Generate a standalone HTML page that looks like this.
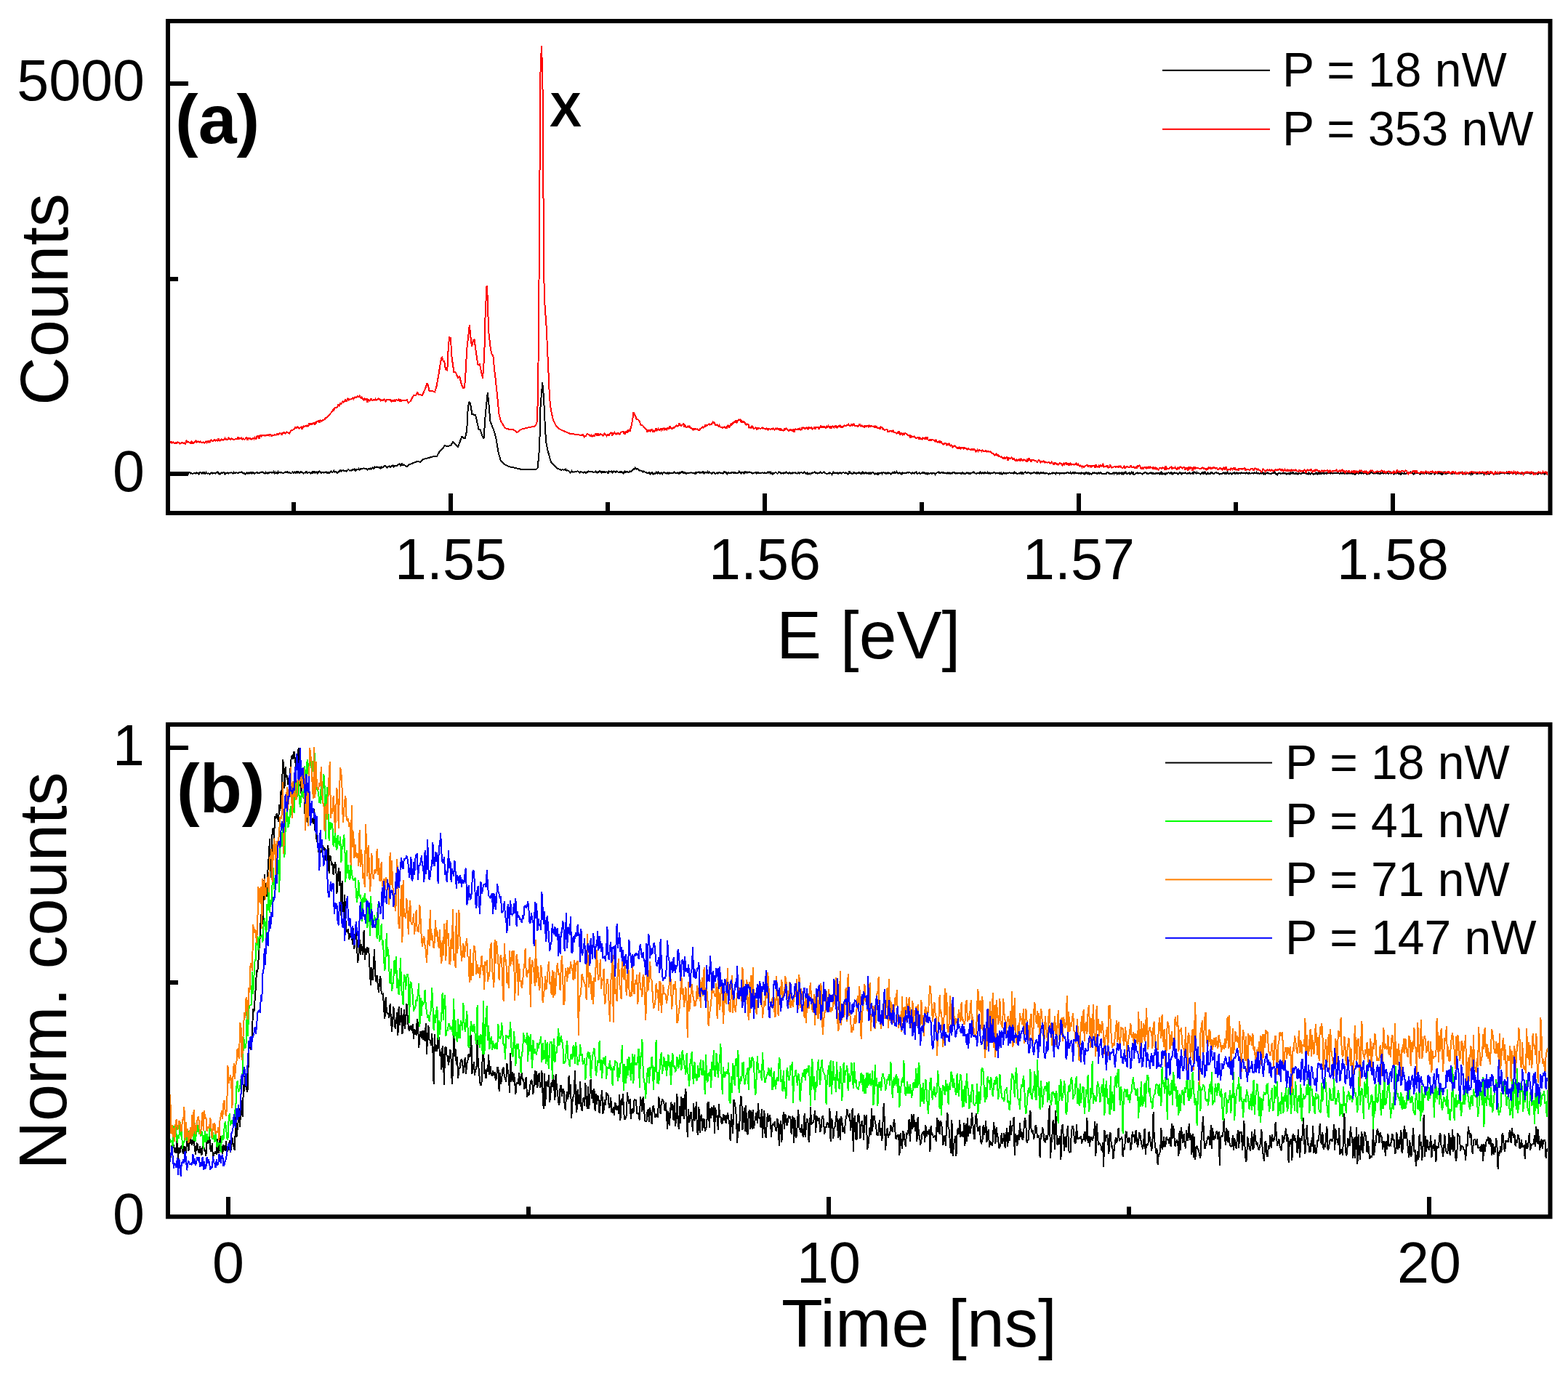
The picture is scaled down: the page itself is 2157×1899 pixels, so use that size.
<!DOCTYPE html><html><head><meta charset="utf-8"><style>html,body{margin:0;padding:0;background:#fff;}svg{display:block;}</style></head><body><svg width="2157" height="1899" viewBox="0 0 2157 1899"><rect x="0" y="0" width="2157" height="1899" fill="#fff"/><defs><clipPath id="ca"><rect x="234" y="32" width="1895" height="671"/></clipPath><clipPath id="cb"><rect x="234" y="1000" width="1895" height="671"/></clipPath></defs><g clip-path="url(#ca)"><polyline fill="none" stroke="#000000" stroke-width="2" stroke-linejoin="miter" stroke-miterlimit="2" shape-rendering="crispEdges" points="232.5,651.2 233.5,650.6 234.5,650.7 235.5,649.0 236.5,652.4 237.5,651.9 238.5,650.7 239.5,651.6 240.5,651.2 241.5,650.6 242.5,651.8 243.5,650.8 244.5,650.7 245.5,650.4 246.5,651.4 247.5,650.9 248.5,651.4 249.5,650.5 250.5,651.1 251.5,650.3 252.5,651.7 253.5,651.2 254.5,651.3 255.5,651.3 256.5,650.2 257.5,651.6 258.5,652.6 259.5,649.7 260.5,649.6 261.5,649.8 262.5,651.7 263.5,651.1 264.5,651.9 265.5,651.6 266.5,651.2 267.5,651.2 268.5,650.9 269.5,651.7 270.5,650.1 271.5,650.7 272.5,651.2 273.5,652.4 274.5,650.4 275.5,650.1 276.5,650.5 277.5,651.8 278.5,650.8 279.5,652.1 280.5,649.5 281.5,651.9 282.5,651.8 283.5,649.9 284.5,651.1 285.5,652.0 286.5,651.1 287.5,651.8 288.5,652.9 289.5,651.2 290.5,650.8 291.5,650.4 292.5,651.5 293.5,650.8 294.5,650.9 295.5,650.9 296.5,651.5 297.5,650.1 298.5,649.8 299.5,649.1 300.5,652.0 301.5,651.0 302.5,652.2 303.5,651.0 304.5,650.4 305.5,651.3 306.5,650.9 307.5,649.9 308.5,650.2 309.5,652.4 310.5,651.2 311.5,651.3 312.5,650.7 313.5,650.4 314.5,651.6 315.5,650.8 316.5,650.3 317.5,650.8 318.5,650.2 319.5,651.0 320.5,651.8 321.5,650.2 322.5,652.0 323.5,650.3 324.5,651.0 325.5,650.2 326.5,650.7 327.5,650.9 328.5,650.5 329.5,650.2 330.5,650.3 331.5,650.1 332.5,649.5 333.5,650.6 334.5,651.1 335.5,651.5 336.5,651.3 337.5,652.7 338.5,651.0 339.5,650.4 340.5,652.2 341.5,649.9 342.5,651.5 343.5,650.0 344.5,651.0 345.5,649.1 346.5,651.4 347.5,650.6 348.5,649.9 349.5,652.0 350.5,651.3 351.5,650.7 352.5,650.1 353.5,650.6 354.5,650.5 355.5,651.2 356.5,651.3 357.5,650.1 358.5,650.2 359.5,650.2 360.5,649.5 361.5,650.1 362.5,650.5 363.5,651.1 364.5,651.6 365.5,649.9 366.5,651.0 367.5,650.2 368.5,652.2 369.5,650.5 370.5,650.9 371.5,649.8 372.5,649.9 373.5,650.7 374.5,650.2 375.5,650.8 376.5,649.3 377.5,651.0 378.5,649.8 379.5,651.9 380.5,650.2 381.5,651.3 382.5,649.3 383.5,650.8 384.5,649.7 385.5,650.1 386.5,650.5 387.5,650.2 388.5,650.6 389.5,651.0 390.5,650.9 391.5,650.3 392.5,649.3 393.5,649.7 394.5,650.2 395.5,648.7 396.5,651.0 397.5,650.2 398.5,650.2 399.5,651.1 400.5,650.9 401.5,650.5 402.5,649.5 403.5,650.6 404.5,650.6 405.5,649.6 406.5,651.1 407.5,650.7 408.5,648.7 409.5,650.4 410.5,649.3 411.5,651.2 412.5,650.9 413.5,649.4 414.5,649.5 415.5,650.3 416.5,650.0 417.5,651.5 418.5,650.8 419.5,650.0 420.5,650.7 421.5,648.6 422.5,650.4 423.5,650.9 424.5,650.0 425.5,649.6 426.5,650.6 427.5,651.7 428.5,650.3 429.5,649.3 430.5,651.3 431.5,648.6 432.5,650.5 433.5,649.7 434.5,650.9 435.5,649.4 436.5,651.2 437.5,650.3 438.5,648.7 439.5,648.5 440.5,649.8 441.5,651.1 442.5,650.2 443.5,650.1 444.5,649.9 445.5,650.6 446.5,650.3 447.5,650.3 448.5,649.2 449.5,651.0 450.5,651.1 451.5,649.0 452.5,651.8 453.5,650.5 454.5,649.4 455.5,648.2 456.5,650.1 457.5,650.0 458.5,649.0 459.5,647.9 460.5,650.1 461.5,648.7 462.5,648.7 463.5,651.2 464.5,650.6 465.5,649.5 466.5,648.3 467.5,649.1 468.5,646.6 469.5,648.5 470.5,647.7 471.5,647.1 472.5,646.8 473.5,648.4 474.5,648.0 475.5,647.9 476.5,648.4 477.5,646.9 478.5,646.5 479.5,646.0 480.5,647.0 481.5,647.8 482.5,647.0 483.5,647.5 484.5,646.0 485.5,646.5 486.5,646.1 487.5,645.6 488.5,648.1 489.5,647.2 490.5,645.8 491.5,645.7 492.5,646.2 493.5,645.0 494.5,646.5 495.5,645.0 496.5,645.7 497.5,645.1 498.5,645.4 499.5,644.7 500.5,644.4 501.5,644.8 502.5,645.0 503.5,645.2 504.5,645.4 505.5,646.5 506.5,645.8 507.5,644.9 508.5,645.6 509.5,644.4 510.5,645.9 511.5,645.1 512.5,643.4 513.5,645.0 514.5,644.9 515.5,641.9 516.5,643.3 517.5,643.4 518.5,642.1 519.5,642.7 520.5,642.6 521.5,643.7 522.5,643.4 523.5,645.1 524.5,642.6 525.5,643.8 526.5,642.8 527.5,642.9 528.5,641.6 529.5,640.9 530.5,641.7 531.5,642.9 532.5,643.4 533.5,642.5 534.5,642.3 535.5,641.2 536.5,643.0 537.5,642.7 538.5,641.1 539.5,641.4 540.5,640.5 541.5,642.4 542.5,641.5 543.5,641.0 544.5,641.3 545.5,641.2 546.5,640.4 547.5,639.5 548.5,639.2 549.5,638.6 550.5,640.1 551.5,641.2 552.5,637.8 553.5,639.3 554.5,640.0 555.5,639.4 560.0,642.3 563.2,639.0 568.0,637.4 573.7,635.0 578.5,635.8 582.6,631.8 589.0,630.2 594.6,628.6 601.0,627.8 604.3,622.0 608.3,618.0 611.6,613.3 616.4,614.0 620.4,612.5 623.0,608.0 626.9,611.7 630.0,614.9 632.5,608.4 635.4,600.4 637.3,602.8 640.0,602.8 642.2,592.3 643.5,566.6 645.0,552.9 647.0,555.3 649.4,569.8 651.8,570.6 654.2,571.4 656.7,582.7 658.6,590.7 660.7,591.5 663.0,598.8 665.5,603.6 667.6,573.0 669.6,552.0 670.8,540.0 672.5,556.9 674.4,579.4 676.8,585.9 680.0,594.0 682.4,603.6 685.7,623.0 688.9,634.2 693.7,639.0 700.0,642.0 720.0,646.5 738.0,645.5 739.5,644.0 741.0,630.0 742.2,614.0 743.5,560.0 746.2,526.0 748.0,546.7 750.0,590.0 751.2,608.0 753.5,620.0 758.0,636.0 767.0,645.0 770.5,646.0 771.5,646.6 772.5,646.8 773.5,646.3 774.5,646.1 775.5,646.8 776.5,646.4 777.5,646.8 778.5,645.8 779.5,647.7 780.5,647.1 781.5,647.7 782.5,648.3 783.5,648.8 784.5,650.3 785.5,649.1 786.5,648.0 787.5,649.5 788.5,649.0 789.5,649.8 790.5,649.0 791.5,648.9 792.5,649.1 793.5,649.0 794.5,648.0 795.5,649.0 796.5,649.5 797.5,650.5 798.5,649.3 799.5,649.2 800.5,650.0 801.5,649.9 802.5,650.8 803.5,650.0 804.5,649.5 805.5,650.6 806.5,650.7 807.5,649.1 808.5,649.6 809.5,648.2 810.5,649.2 811.5,648.8 812.5,649.3 813.5,649.1 814.5,649.4 815.5,649.4 816.5,649.9 817.5,649.7 818.5,649.1 819.5,648.5 820.5,650.5 821.5,650.6 822.5,649.1 823.5,649.9 824.5,648.3 825.5,648.3 826.5,649.3 827.5,650.7 828.5,648.7 829.5,648.8 830.5,650.8 831.5,648.0 832.5,650.0 833.5,649.9 834.5,649.3 835.5,649.7 836.5,651.6 837.5,648.6 838.5,649.2 839.5,649.3 840.5,648.9 841.5,648.4 842.5,650.8 843.5,649.7 844.5,648.1 845.5,648.9 846.5,649.8 847.5,649.8 848.5,648.3 849.5,649.4 850.5,649.7 851.5,649.8 852.5,649.8 853.5,648.0 854.5,651.0 855.5,649.7 856.5,650.9 857.5,651.8 858.5,649.4 859.5,648.5 860.5,650.2 861.5,649.4 862.5,649.1 863.5,648.7 864.5,650.9 865.5,649.1 866.5,648.4 867.5,649.1 868.5,648.1 869.5,648.2 870.5,646.8 871.5,645.3 872.5,645.7 873.5,643.8 874.5,644.9 875.5,645.8 876.5,645.0 877.5,645.3 878.5,646.4 879.5,647.5 880.5,647.2 881.5,647.7 882.5,648.0 883.5,648.6 884.5,649.3 885.5,648.6 886.5,649.2 887.5,650.0 888.5,649.9 889.5,650.9 890.5,651.4 891.5,651.0 892.5,650.5 893.5,650.4 894.5,652.4 895.5,651.7 896.5,650.1 897.5,650.3 898.5,652.5 899.5,652.2 900.5,651.1 901.5,651.9 902.5,649.8 903.5,650.9 904.5,651.5 905.5,649.4 906.5,650.3 907.5,651.5 908.5,651.8 909.5,650.4 910.5,651.1 911.5,652.2 912.5,650.6 913.5,649.8 914.5,650.8 915.5,650.6 916.5,651.9 917.5,651.0 918.5,650.2 919.5,652.8 920.5,650.5 921.5,651.2 922.5,651.4 923.5,651.5 924.5,651.0 925.5,651.3 926.5,650.8 927.5,649.7 928.5,650.6 929.5,650.7 930.5,650.7 931.5,650.9 932.5,650.3 933.5,651.9 934.5,652.1 935.5,649.0 936.5,650.8 937.5,650.2 938.5,648.7 939.5,651.1 940.5,650.3 941.5,650.5 942.5,650.2 943.5,651.6 944.5,651.7 945.5,651.0 946.5,651.3 947.5,650.6 948.5,650.8 949.5,650.1 950.5,650.8 951.5,650.1 952.5,651.0 953.5,651.4 954.5,651.0 955.5,651.6 956.5,652.8 957.5,649.0 958.5,650.7 959.5,650.2 960.5,650.3 961.5,649.6 962.5,650.7 963.5,650.5 964.5,650.2 965.5,650.5 966.5,650.2 967.5,648.8 968.5,651.5 969.5,650.4 970.5,649.9 971.5,650.9 972.5,650.1 973.5,648.9 974.5,651.3 975.5,649.3 976.5,650.4 977.5,650.7 978.5,651.7 979.5,651.5 980.5,650.7 981.5,650.0 982.5,650.2 983.5,651.4 984.5,652.0 985.5,651.0 986.5,650.0 987.5,651.4 988.5,650.3 989.5,650.2 990.5,650.3 991.5,651.0 992.5,650.8 993.5,651.3 994.5,651.6 995.5,650.9 996.5,648.7 997.5,649.2 998.5,650.6 999.5,650.5 1000.5,652.2 1001.5,650.5 1002.5,650.4 1003.5,651.3 1004.5,651.4 1005.5,650.3 1006.5,650.9 1007.5,649.6 1008.5,649.8 1009.5,651.5 1010.5,649.4 1011.5,651.3 1012.5,651.1 1013.5,651.1 1014.5,651.3 1015.5,651.0 1016.5,648.8 1017.5,649.7 1018.5,650.1 1019.5,651.3 1020.5,649.6 1021.5,650.0 1022.5,650.3 1023.5,651.6 1024.5,649.4 1025.5,649.5 1026.5,651.1 1027.5,648.9 1028.5,650.8 1029.5,650.2 1030.5,649.3 1031.5,650.2 1032.5,649.8 1033.5,650.7 1034.5,650.9 1035.5,651.8 1036.5,650.6 1037.5,650.7 1038.5,650.1 1039.5,650.6 1040.5,651.4 1041.5,649.1 1042.5,651.1 1043.5,650.2 1044.5,650.7 1045.5,650.9 1046.5,651.3 1047.5,650.8 1048.5,650.3 1049.5,650.9 1050.5,650.6 1051.5,650.5 1052.5,650.8 1053.5,651.3 1054.5,650.7 1055.5,650.8 1056.5,649.6 1057.5,650.5 1058.5,649.2 1059.5,651.2 1060.5,649.9 1061.5,651.7 1062.5,653.1 1063.5,650.3 1064.5,651.7 1065.5,651.0 1066.5,650.2 1067.5,650.0 1068.5,651.1 1069.5,651.8 1070.5,651.0 1071.5,649.5 1072.5,649.8 1073.5,650.5 1074.5,651.8 1075.5,650.9 1076.5,651.0 1077.5,651.7 1078.5,650.5 1079.5,650.6 1080.5,650.6 1081.5,649.3 1082.5,651.1 1083.5,651.0 1084.5,651.5 1085.5,649.8 1086.5,650.1 1087.5,651.5 1088.5,651.0 1089.5,651.8 1090.5,650.0 1091.5,650.9 1092.5,650.2 1093.5,651.0 1094.5,650.3 1095.5,651.2 1096.5,651.6 1097.5,651.3 1098.5,649.3 1099.5,651.5 1100.5,651.1 1101.5,649.9 1102.5,650.0 1103.5,650.8 1104.5,651.2 1105.5,650.4 1106.5,649.5 1107.5,651.0 1108.5,650.9 1109.5,652.7 1110.5,649.7 1111.5,652.8 1112.5,652.2 1113.5,651.0 1114.5,652.1 1115.5,650.9 1116.5,651.6 1117.5,650.2 1118.5,650.9 1119.5,650.0 1120.5,649.5 1121.5,650.6 1122.5,650.3 1123.5,651.3 1124.5,651.8 1125.5,650.7 1126.5,650.9 1127.5,651.0 1128.5,649.5 1129.5,651.0 1130.5,650.8 1131.5,650.8 1132.5,650.0 1133.5,649.2 1134.5,650.6 1135.5,651.1 1136.5,651.9 1137.5,651.7 1138.5,652.0 1139.5,651.1 1140.5,651.8 1141.5,650.7 1142.5,651.4 1143.5,651.6 1144.5,653.0 1145.5,651.1 1146.5,649.8 1147.5,652.0 1148.5,650.2 1149.5,650.8 1150.5,650.6 1151.5,650.2 1152.5,651.9 1153.5,651.4 1154.5,650.4 1155.5,650.9 1156.5,650.5 1157.5,651.4 1158.5,650.6 1159.5,650.3 1160.5,650.4 1161.5,650.6 1162.5,651.1 1163.5,650.2 1164.5,650.8 1165.5,651.3 1166.5,652.8 1167.5,651.6 1168.5,648.5 1169.5,650.5 1170.5,650.6 1171.5,651.2 1172.5,652.2 1173.5,651.5 1174.5,649.1 1175.5,651.2 1176.5,651.0 1177.5,651.3 1178.5,652.0 1179.5,650.1 1180.5,651.8 1181.5,649.6 1182.5,651.0 1183.5,651.3 1184.5,652.8 1185.5,650.4 1186.5,649.6 1187.5,651.5 1188.5,650.4 1189.5,652.2 1190.5,650.4 1191.5,650.3 1192.5,652.0 1193.5,651.1 1194.5,651.8 1195.5,649.8 1196.5,652.3 1197.5,650.5 1198.5,651.7 1199.5,650.2 1200.5,649.8 1201.5,650.8 1202.5,651.1 1203.5,652.3 1204.5,651.3 1205.5,651.6 1206.5,651.5 1207.5,653.5 1208.5,650.4 1209.5,652.0 1210.5,650.9 1211.5,651.2 1212.5,650.6 1213.5,651.9 1214.5,650.0 1215.5,650.0 1216.5,650.9 1217.5,650.1 1218.5,651.6 1219.5,651.8 1220.5,650.4 1221.5,651.6 1222.5,650.5 1223.5,651.0 1224.5,651.0 1225.5,652.5 1226.5,651.0 1227.5,650.3 1228.5,650.3 1229.5,652.0 1230.5,649.7 1231.5,650.7 1232.5,650.7 1233.5,649.1 1234.5,650.7 1235.5,651.8 1236.5,651.2 1237.5,650.3 1238.5,651.6 1239.5,651.5 1240.5,652.7 1241.5,650.4 1242.5,650.7 1243.5,651.1 1244.5,650.9 1245.5,651.1 1246.5,651.0 1247.5,650.5 1248.5,649.8 1249.5,650.6 1250.5,649.9 1251.5,650.2 1252.5,650.6 1253.5,651.5 1254.5,651.7 1255.5,650.2 1256.5,651.3 1257.5,651.7 1258.5,651.0 1259.5,649.7 1260.5,649.3 1261.5,651.7 1262.5,651.8 1263.5,651.3 1264.5,650.2 1265.5,652.2 1266.5,652.0 1267.5,651.0 1268.5,650.9 1269.5,649.5 1270.5,651.7 1271.5,649.8 1272.5,651.6 1273.5,651.6 1274.5,651.1 1275.5,652.3 1276.5,650.8 1277.5,651.5 1278.5,651.7 1279.5,651.3 1280.5,650.7 1281.5,652.0 1282.5,651.4 1283.5,650.9 1284.5,650.9 1285.5,651.2 1286.5,652.9 1287.5,651.2 1288.5,650.9 1289.5,650.2 1290.5,650.1 1291.5,649.6 1292.5,651.3 1293.5,651.1 1294.5,650.3 1295.5,649.9 1296.5,650.8 1297.5,650.7 1298.5,650.0 1299.5,651.3 1300.5,651.2 1301.5,651.0 1302.5,651.7 1303.5,650.6 1304.5,652.2 1305.5,650.3 1306.5,651.5 1307.5,651.6 1308.5,650.9 1309.5,651.4 1310.5,650.1 1311.5,649.9 1312.5,650.9 1313.5,650.5 1314.5,651.6 1315.5,651.1 1316.5,651.6 1317.5,651.3 1318.5,651.3 1319.5,651.2 1320.5,650.8 1321.5,650.7 1322.5,652.7 1323.5,649.7 1324.5,650.9 1325.5,651.9 1326.5,651.4 1327.5,652.2 1328.5,651.5 1329.5,650.1 1330.5,650.8 1331.5,650.0 1332.5,651.9 1333.5,652.3 1334.5,650.8 1335.5,651.5 1336.5,650.8 1337.5,650.0 1338.5,650.7 1339.5,649.8 1340.5,650.7 1341.5,651.3 1342.5,651.7 1343.5,652.1 1344.5,650.8 1345.5,651.3 1346.5,651.4 1347.5,651.6 1348.5,648.8 1349.5,650.5 1350.5,651.8 1351.5,650.2 1352.5,651.3 1353.5,651.8 1354.5,649.6 1355.5,651.0 1356.5,651.3 1357.5,651.1 1358.5,649.9 1359.5,651.4 1360.5,650.7 1361.5,651.8 1362.5,651.5 1363.5,650.7 1364.5,651.3 1365.5,650.6 1366.5,650.6 1367.5,649.9 1368.5,650.9 1369.5,651.8 1370.5,651.2 1371.5,651.1 1372.5,650.6 1373.5,650.7 1374.5,651.7 1375.5,649.9 1376.5,652.8 1377.5,651.1 1378.5,652.8 1379.5,652.0 1380.5,650.8 1381.5,651.7 1382.5,651.3 1383.5,651.5 1384.5,651.7 1385.5,650.7 1386.5,650.6 1387.5,650.8 1388.5,650.0 1389.5,650.9 1390.5,651.3 1391.5,651.3 1392.5,651.3 1393.5,650.8 1394.5,651.7 1395.5,649.5 1396.5,650.8 1397.5,650.8 1398.5,651.8 1399.5,651.6 1400.5,651.7 1401.5,651.1 1402.5,651.9 1403.5,650.3 1404.5,651.2 1405.5,649.4 1406.5,652.5 1407.5,652.4 1408.5,650.6 1409.5,650.4 1410.5,649.4 1411.5,649.9 1412.5,651.2 1413.5,651.0 1414.5,649.9 1415.5,650.7 1416.5,650.6 1417.5,651.5 1418.5,651.7 1419.5,650.9 1420.5,651.2 1421.5,651.1 1422.5,649.4 1423.5,651.2 1424.5,651.1 1425.5,651.7 1426.5,649.6 1427.5,651.7 1428.5,650.6 1429.5,651.3 1430.5,652.1 1431.5,649.9 1432.5,650.1 1433.5,651.9 1434.5,650.2 1435.5,650.4 1436.5,651.6 1437.5,651.0 1438.5,651.7 1439.5,651.4 1440.5,651.1 1441.5,651.9 1442.5,652.9 1443.5,651.1 1444.5,652.3 1445.5,652.0 1446.5,651.2 1447.5,651.5 1448.5,650.4 1449.5,650.6 1450.5,651.4 1451.5,651.1 1452.5,652.2 1453.5,650.1 1454.5,650.9 1455.5,650.6 1456.5,651.0 1457.5,652.1 1458.5,650.2 1459.5,651.8 1460.5,650.7 1461.5,650.9 1462.5,652.0 1463.5,650.9 1464.5,651.7 1465.5,651.3 1466.5,651.0 1467.5,650.9 1468.5,649.8 1469.5,650.6 1470.5,651.3 1471.5,651.3 1472.5,650.0 1473.5,652.0 1474.5,651.6 1475.5,650.1 1476.5,650.3 1477.5,651.6 1478.5,649.8 1479.5,650.6 1480.5,651.1 1481.5,651.1 1482.5,651.1 1483.5,651.5 1484.5,650.6 1485.5,650.8 1486.5,652.8 1487.5,650.1 1488.5,650.8 1489.5,651.3 1490.5,650.7 1491.5,652.2 1492.5,651.3 1493.5,651.8 1494.5,649.1 1495.5,652.2 1496.5,652.1 1497.5,650.6 1498.5,652.3 1499.5,651.4 1500.5,652.0 1501.5,652.7 1502.5,651.3 1503.5,650.4 1504.5,651.2 1505.5,650.2 1506.5,650.6 1507.5,650.6 1508.5,650.7 1509.5,652.2 1510.5,651.9 1511.5,650.5 1512.5,652.1 1513.5,649.9 1514.5,650.7 1515.5,651.1 1516.5,652.2 1517.5,651.8 1518.5,651.6 1519.5,652.3 1520.5,651.8 1521.5,652.3 1522.5,650.6 1523.5,649.9 1524.5,650.9 1525.5,651.9 1526.5,651.5 1527.5,652.0 1528.5,651.8 1529.5,651.7 1530.5,651.9 1531.5,650.7 1532.5,652.1 1533.5,650.4 1534.5,651.2 1535.5,650.1 1536.5,651.7 1537.5,650.0 1538.5,652.4 1539.5,650.2 1540.5,651.5 1541.5,651.1 1542.5,650.5 1543.5,652.2 1544.5,650.9 1545.5,652.4 1546.5,650.4 1547.5,650.6 1548.5,649.6 1549.5,651.7 1550.5,652.0 1551.5,651.4 1552.5,651.1 1553.5,650.5 1554.5,653.1 1555.5,651.8 1556.5,649.8 1557.5,651.0 1558.5,649.2 1559.5,652.5 1560.5,652.8 1561.5,652.4 1562.5,651.2 1563.5,650.8 1564.5,650.1 1565.5,651.7 1566.5,650.7 1567.5,651.0 1568.5,650.7 1569.5,651.0 1570.5,652.0 1571.5,652.6 1572.5,651.4 1573.5,651.3 1574.5,650.4 1575.5,650.3 1576.5,650.4 1577.5,652.0 1578.5,651.5 1579.5,652.0 1580.5,651.6 1581.5,650.9 1582.5,650.3 1583.5,651.0 1584.5,650.1 1585.5,652.9 1586.5,651.5 1587.5,651.0 1588.5,652.9 1589.5,651.0 1590.5,651.7 1591.5,651.1 1592.5,651.5 1593.5,651.0 1594.5,651.7 1595.5,652.4 1596.5,650.2 1597.5,649.5 1598.5,652.4 1599.5,651.4 1600.5,652.0 1601.5,651.0 1602.5,652.5 1603.5,652.7 1604.5,650.3 1605.5,651.8 1606.5,650.8 1607.5,650.0 1608.5,651.0 1609.5,651.7 1610.5,650.2 1611.5,650.2 1612.5,652.3 1613.5,651.3 1614.5,651.6 1615.5,650.3 1616.5,650.7 1617.5,651.3 1618.5,651.4 1619.5,651.4 1620.5,652.5 1621.5,651.4 1622.5,650.0 1623.5,650.5 1624.5,651.2 1625.5,652.3 1626.5,650.7 1627.5,650.9 1628.5,651.2 1629.5,650.6 1630.5,650.5 1631.5,651.0 1632.5,652.0 1633.5,651.6 1634.5,651.0 1635.5,651.5 1636.5,650.2 1637.5,652.0 1638.5,651.8 1639.5,651.4 1640.5,649.9 1641.5,652.8 1642.5,648.8 1643.5,650.4 1644.5,650.5 1645.5,651.8 1646.5,650.0 1647.5,651.4 1648.5,651.1 1649.5,651.0 1650.5,651.9 1651.5,652.4 1652.5,651.5 1653.5,651.0 1654.5,649.4 1655.5,652.4 1656.5,651.0 1657.5,649.7 1658.5,651.3 1659.5,652.4 1660.5,651.1 1661.5,650.3 1662.5,653.0 1663.5,651.7 1664.5,651.5 1665.5,652.0 1666.5,649.5 1667.5,651.2 1668.5,651.1 1669.5,653.0 1670.5,650.8 1671.5,650.8 1672.5,650.1 1673.5,650.5 1674.5,651.0 1675.5,651.4 1676.5,651.1 1677.5,652.8 1678.5,651.6 1679.5,651.7 1680.5,652.3 1681.5,651.7 1682.5,650.8 1683.5,650.0 1684.5,651.5 1685.5,650.5 1686.5,652.3 1687.5,650.6 1688.5,649.4 1689.5,651.3 1690.5,652.1 1691.5,651.1 1692.5,651.4 1693.5,651.3 1694.5,652.6 1695.5,651.5 1696.5,651.2 1697.5,650.7 1698.5,649.9 1699.5,652.4 1700.5,652.2 1701.5,650.4 1702.5,651.7 1703.5,651.5 1704.5,650.9 1705.5,651.0 1706.5,651.8 1707.5,650.2 1708.5,650.8 1709.5,651.2 1710.5,651.2 1711.5,651.0 1712.5,651.4 1713.5,651.6 1714.5,650.5 1715.5,651.3 1716.5,650.8 1717.5,652.4 1718.5,650.1 1719.5,651.0 1720.5,651.8 1721.5,651.0 1722.5,650.9 1723.5,650.8 1724.5,651.5 1725.5,650.3 1726.5,651.2 1727.5,651.1 1728.5,650.0 1729.5,651.4 1730.5,650.8 1731.5,651.5 1732.5,651.9 1733.5,651.5 1734.5,650.3 1735.5,651.5 1736.5,649.9 1737.5,650.6 1738.5,652.6 1739.5,651.2 1740.5,652.5 1741.5,651.1 1742.5,651.3 1743.5,650.3 1744.5,652.0 1745.5,651.1 1746.5,651.8 1747.5,651.6 1748.5,651.7 1749.5,651.5 1750.5,651.2 1751.5,651.3 1752.5,650.7 1753.5,649.5 1754.5,651.7 1755.5,653.0 1756.5,652.1 1757.5,653.2 1758.5,651.7 1759.5,650.5 1760.5,650.5 1761.5,651.9 1762.5,651.6 1763.5,651.2 1764.5,651.9 1765.5,650.6 1766.5,651.7 1767.5,651.1 1768.5,651.4 1769.5,652.3 1770.5,651.2 1771.5,652.4 1772.5,652.4 1773.5,650.7 1774.5,653.2 1775.5,650.3 1776.5,651.2 1777.5,651.9 1778.5,649.5 1779.5,652.1 1780.5,652.2 1781.5,651.2 1782.5,651.5 1783.5,651.5 1784.5,651.1 1785.5,652.2 1786.5,651.0 1787.5,651.3 1788.5,651.6 1789.5,652.0 1790.5,652.2 1791.5,650.1 1792.5,649.7 1793.5,651.2 1794.5,651.3 1795.5,650.4 1796.5,651.6 1797.5,651.8 1798.5,651.6 1799.5,652.6 1800.5,650.5 1801.5,651.3 1802.5,652.9 1803.5,651.9 1804.5,650.4 1805.5,651.5 1806.5,652.3 1807.5,653.0 1808.5,651.8 1809.5,652.3 1810.5,650.4 1811.5,651.1 1812.5,652.3 1813.5,650.5 1814.5,651.3 1815.5,649.8 1816.5,652.5 1817.5,651.2 1818.5,651.8 1819.5,650.1 1820.5,650.2 1821.5,652.8 1822.5,651.0 1823.5,650.9 1824.5,651.7 1825.5,651.8 1826.5,649.7 1827.5,650.5 1828.5,651.3 1829.5,651.3 1830.5,651.6 1831.5,651.0 1832.5,651.1 1833.5,651.5 1834.5,650.7 1835.5,650.6 1836.5,650.9 1837.5,651.3 1838.5,651.2 1839.5,650.9 1840.5,651.1 1841.5,651.3 1842.5,651.6 1843.5,651.6 1844.5,650.3 1845.5,652.1 1846.5,650.0 1847.5,651.7 1848.5,650.7 1849.5,651.8 1850.5,652.2 1851.5,649.8 1852.5,651.8 1853.5,651.5 1854.5,650.9 1855.5,651.6 1856.5,650.9 1857.5,651.4 1858.5,650.4 1859.5,651.9 1860.5,651.8 1861.5,651.9 1862.5,650.8 1863.5,652.8 1864.5,652.9 1865.5,651.2 1866.5,651.0 1867.5,651.0 1868.5,651.8 1869.5,652.1 1870.5,650.7 1871.5,649.7 1872.5,651.7 1873.5,651.3 1874.5,651.4 1875.5,651.7 1876.5,650.4 1877.5,651.3 1878.5,651.0 1879.5,651.6 1880.5,652.3 1881.5,651.3 1882.5,650.6 1883.5,652.3 1884.5,651.9 1885.5,651.1 1886.5,649.8 1887.5,650.6 1888.5,651.4 1889.5,651.7 1890.5,650.8 1891.5,651.6 1892.5,650.8 1893.5,650.9 1894.5,651.7 1895.5,651.0 1896.5,651.4 1897.5,652.0 1898.5,652.2 1899.5,650.8 1900.5,651.1 1901.5,650.2 1902.5,650.2 1903.5,651.5 1904.5,650.8 1905.5,649.8 1906.5,651.7 1907.5,650.6 1908.5,651.0 1909.5,651.6 1910.5,651.6 1911.5,651.2 1912.5,649.7 1913.5,651.7 1914.5,650.8 1915.5,650.1 1916.5,649.5 1917.5,652.3 1918.5,651.4 1919.5,651.3 1920.5,651.7 1921.5,651.2 1922.5,650.1 1923.5,651.8 1924.5,652.1 1925.5,651.7 1926.5,652.5 1927.5,652.8 1928.5,650.6 1929.5,650.9 1930.5,652.0 1931.5,651.4 1932.5,651.4 1933.5,652.0 1934.5,651.9 1935.5,650.9 1936.5,651.4 1937.5,650.7 1938.5,651.1 1939.5,650.4 1940.5,649.7 1941.5,650.9 1942.5,650.8 1943.5,652.0 1944.5,652.5 1945.5,651.3 1946.5,651.6 1947.5,650.8 1948.5,650.5 1949.5,651.0 1950.5,651.0 1951.5,651.5 1952.5,651.4 1953.5,652.6 1954.5,651.1 1955.5,650.0 1956.5,651.4 1957.5,650.7 1958.5,651.4 1959.5,652.2 1960.5,650.8 1961.5,651.2 1962.5,651.7 1963.5,650.5 1964.5,651.4 1965.5,651.7 1966.5,651.9 1967.5,652.2 1968.5,651.7 1969.5,651.6 1970.5,650.2 1971.5,649.1 1972.5,650.5 1973.5,652.4 1974.5,651.4 1975.5,649.5 1976.5,650.9 1977.5,651.6 1978.5,649.8 1979.5,651.7 1980.5,650.4 1981.5,652.1 1982.5,651.3 1983.5,653.8 1984.5,650.2 1985.5,651.5 1986.5,650.1 1987.5,652.2 1988.5,651.4 1989.5,652.0 1990.5,651.4 1991.5,650.4 1992.5,650.8 1993.5,650.3 1994.5,650.5 1995.5,651.4 1996.5,652.1 1997.5,652.0 1998.5,651.7 1999.5,650.8 2000.5,651.7 2001.5,650.6 2002.5,651.5 2003.5,652.0 2004.5,651.1 2005.5,650.9 2006.5,651.0 2007.5,651.8 2008.5,651.0 2009.5,650.2 2010.5,651.0 2011.5,650.4 2012.5,652.5 2013.5,651.3 2014.5,650.1 2015.5,651.5 2016.5,651.9 2017.5,651.6 2018.5,651.0 2019.5,651.4 2020.5,651.5 2021.5,652.1 2022.5,651.6 2023.5,653.1 2024.5,651.1 2025.5,652.5 2026.5,651.3 2027.5,649.9 2028.5,650.4 2029.5,649.8 2030.5,649.9 2031.5,652.3 2032.5,650.8 2033.5,651.8 2034.5,650.6 2035.5,651.3 2036.5,650.5 2037.5,652.0 2038.5,651.1 2039.5,650.9 2040.5,651.2 2041.5,653.0 2042.5,651.7 2043.5,652.0 2044.5,650.3 2045.5,650.8 2046.5,651.5 2047.5,649.8 2048.5,652.4 2049.5,651.5 2050.5,651.3 2051.5,651.1 2052.5,651.1 2053.5,650.9 2054.5,652.4 2055.5,651.8 2056.5,652.3 2057.5,651.1 2058.5,650.6 2059.5,652.4 2060.5,650.3 2061.5,650.8 2062.5,651.9 2063.5,652.2 2064.5,650.2 2065.5,651.1 2066.5,651.3 2067.5,651.2 2068.5,650.6 2069.5,651.8 2070.5,650.9 2071.5,651.1 2072.5,649.5 2073.5,651.2 2074.5,649.8 2075.5,651.9 2076.5,651.7 2077.5,650.9 2078.5,651.4 2079.5,651.4 2080.5,651.2 2081.5,651.6 2082.5,651.2 2083.5,650.9 2084.5,650.7 2085.5,652.6 2086.5,651.4 2087.5,651.3 2088.5,651.9 2089.5,651.0 2090.5,651.0 2091.5,651.8 2092.5,652.1 2093.5,651.8 2094.5,650.1 2095.5,651.3 2096.5,651.3 2097.5,651.7 2098.5,650.6 2099.5,650.5 2100.5,651.2 2101.5,650.6 2102.5,650.4 2103.5,651.2 2104.5,652.0 2105.5,651.4 2106.5,652.2 2107.5,650.5 2108.5,651.9 2109.5,651.3 2110.5,650.6 2111.5,651.0 2112.5,650.6 2113.5,651.1 2114.5,650.7 2115.5,652.3 2116.5,651.0 2117.5,650.2 2118.5,651.1 2119.5,651.6 2120.5,651.0 2121.5,652.0 2122.5,650.6 2123.5,650.6 2124.5,652.6 2125.5,651.3 2126.5,651.7 2127.5,651.7 2128.5,651.7 2129.5,651.3"/><polyline fill="none" stroke="#ff0000" stroke-width="2" stroke-linejoin="miter" stroke-miterlimit="2" shape-rendering="crispEdges" points="232.5,608.8 233.5,609.4 234.5,609.0 235.5,607.3 236.5,609.8 237.5,609.4 238.5,608.4 239.5,609.7 240.5,609.5 241.5,609.5 242.5,609.3 243.5,610.0 244.5,608.7 245.5,609.4 246.5,609.1 247.5,610.4 248.5,609.9 249.5,609.6 250.5,609.1 251.5,609.6 252.5,609.7 253.5,609.3 254.5,610.9 255.5,610.4 256.5,606.2 257.5,607.0 258.5,608.7 259.5,608.3 260.5,608.9 261.5,608.8 262.5,610.7 263.5,607.0 264.5,607.8 265.5,610.5 266.5,609.0 267.5,609.0 268.5,607.8 269.5,606.5 270.5,608.6 271.5,608.5 272.5,607.1 273.5,607.7 274.5,608.4 275.5,607.5 276.5,608.5 277.5,608.7 278.5,608.7 279.5,608.1 280.5,609.3 281.5,609.7 282.5,608.9 283.5,607.4 284.5,608.9 285.5,607.4 286.5,608.7 287.5,606.4 288.5,608.4 289.5,607.2 290.5,605.7 291.5,606.5 292.5,606.7 293.5,606.8 294.5,605.2 295.5,604.9 296.5,606.2 297.5,605.3 298.5,605.9 299.5,606.4 300.5,603.6 301.5,605.6 302.5,606.6 303.5,604.9 304.5,604.2 305.5,605.9 306.5,605.2 307.5,605.8 308.5,604.4 309.5,603.1 310.5,604.5 311.5,604.0 312.5,605.3 313.5,604.6 314.5,602.5 315.5,602.9 316.5,605.1 317.5,604.9 318.5,603.4 319.5,604.1 320.5,604.5 321.5,604.5 322.5,604.9 323.5,604.2 324.5,603.8 325.5,603.6 326.5,605.0 327.5,601.3 328.5,603.6 329.5,603.7 330.5,602.1 331.5,604.0 332.5,602.9 333.5,604.5 334.5,603.5 335.5,604.3 336.5,604.9 337.5,604.0 338.5,602.6 339.5,601.9 340.5,605.5 341.5,603.5 342.5,602.8 343.5,603.8 344.5,603.4 345.5,604.5 346.5,603.6 347.5,603.6 348.5,602.8 349.5,604.1 350.5,602.2 351.5,603.7 352.5,604.2 353.5,600.5 354.5,599.1 355.5,602.1 356.5,603.8 357.5,599.5 358.5,598.8 359.5,600.4 360.5,598.6 361.5,599.0 362.5,599.1 363.5,600.0 364.5,598.9 365.5,599.6 366.5,599.1 367.5,598.3 368.5,598.8 369.5,598.1 370.5,599.1 371.5,597.8 372.5,597.8 373.5,600.5 374.5,598.8 375.5,598.7 376.5,599.2 377.5,598.0 378.5,598.1 379.5,598.7 380.5,598.4 381.5,596.6 382.5,598.7 383.5,597.0 384.5,596.3 385.5,596.3 386.5,596.7 387.5,598.8 388.5,595.5 389.5,596.7 390.5,593.9 391.5,596.0 392.5,596.8 393.5,595.3 394.5,594.6 395.5,595.3 396.5,595.6 397.5,595.3 398.5,596.3 399.5,593.7 400.5,592.3 401.5,592.2 402.5,591.7 403.5,591.3 404.5,590.5 405.5,590.2 406.5,587.5 407.5,589.7 408.5,587.8 409.5,587.1 410.5,589.0 411.5,589.6 412.5,588.7 413.5,588.2 414.5,586.9 415.5,591.0 416.5,588.7 417.5,586.4 418.5,586.7 419.5,587.3 420.5,585.1 421.5,586.6 422.5,585.5 423.5,586.9 424.5,586.2 425.5,581.8 426.5,584.4 427.5,582.2 428.5,584.8 429.5,583.4 430.5,583.4 431.5,581.2 432.5,584.0 433.5,583.8 434.5,580.0 435.5,581.2 436.5,579.8 437.5,580.3 438.5,578.7 439.5,581.8 440.5,578.5 441.5,579.0 442.5,579.6 443.5,578.1 444.5,578.3 445.5,577.7 446.5,577.4 447.5,575.2 448.5,575.0 449.5,574.3 450.5,573.1 451.5,572.6 452.5,571.2 453.5,571.2 454.5,569.0 455.5,568.1 456.5,566.4 457.5,565.5 458.5,563.6 459.5,564.4 460.5,561.5 461.5,560.9 462.5,561.3 463.5,560.6 464.5,558.9 465.5,556.3 466.5,558.2 467.5,557.2 468.5,554.5 469.5,556.1 470.5,553.8 471.5,552.7 472.5,553.5 473.5,552.5 474.5,552.3 475.5,549.7 476.5,552.9 477.5,549.9 478.5,548.6 479.5,550.8 480.5,549.5 481.5,550.0 482.5,549.0 483.5,549.0 484.5,549.1 485.5,547.8 486.5,549.1 487.5,547.4 488.5,546.5 489.5,547.0 490.5,546.9 491.5,545.7 492.5,545.0 493.5,547.0 494.5,544.8 495.5,546.1 496.5,547.7 497.5,546.5 498.5,548.5 499.5,548.8 500.5,550.3 501.5,548.7 502.5,549.5 503.5,551.0 504.5,548.1 505.5,554.1 506.5,549.9 507.5,549.8 508.5,551.5 509.5,550.5 510.5,548.5 511.5,551.1 512.5,551.3 513.5,549.9 514.5,550.0 515.5,550.8 516.5,549.2 517.5,550.6 518.5,550.3 519.5,549.3 520.5,548.5 521.5,549.8 522.5,549.1 523.5,551.2 524.5,550.3 525.5,551.1 526.5,550.4 527.5,550.6 528.5,549.5 529.5,551.1 530.5,552.4 531.5,550.1 532.5,549.9 533.5,550.4 534.5,550.1 535.5,549.9 536.5,550.9 537.5,550.4 538.5,552.4 539.5,550.9 540.5,551.3 541.5,552.0 542.5,550.7 543.5,552.7 544.5,550.4 545.5,550.3 546.5,550.8 547.5,551.2 548.5,549.8 549.5,551.4 550.5,549.6 551.5,553.0 552.5,551.5 553.5,550.9 554.5,550.7 555.5,551.2 560.0,550.4 561.6,554.5 564.8,552.0 568.9,544.0 572.0,543.7 574.2,540.0 576.0,543.2 581.0,543.7 585.0,535.0 587.7,527.0 589.0,531.0 590.6,538.4 593.8,537.6 597.9,539.5 600.3,532.7 603.5,515.0 606.0,498.9 607.8,490.8 610.0,497.3 611.2,497.3 613.0,508.6 615.3,509.4 616.7,479.5 618.0,464.2 620.0,465.0 621.2,489.2 624.4,511.8 626.9,512.6 630.0,519.8 632.0,517.4 635.0,529.5 637.3,534.3 639.0,533.5 640.6,511.8 642.2,481.2 643.8,466.7 645.9,447.0 647.0,460.2 649.0,477.0 651.0,468.3 652.6,467.5 655.0,486.0 657.5,502.0 660.0,501.3 661.5,508.6 664.0,520.6 666.3,489.2 667.1,447.3 668.3,418.3 669.6,392.6 670.8,410.3 672.0,453.8 674.4,476.3 676.0,486.0 678.4,490.0 680.0,507.0 682.0,524.7 684.0,544.0 686.5,569.8 688.9,579.4 692.0,584.3 694.5,589.0 700.0,590.7 705.5,590.7 710.0,594.0 711.4,595.0 717.0,590.7 720.0,590.0 729.0,587.8 735.0,587.0 737.5,584.0 738.6,581.0 739.7,555.0 740.5,500.0 742.0,330.0 743.2,108.0 744.9,63.0 746.4,103.0 746.9,190.0 747.6,285.0 748.5,390.0 749.5,420.0 751.7,450.0 754.0,502.0 756.0,547.0 758.0,565.0 761.0,578.0 765.0,586.0 770.5,591.0 783.5,596.5 800.0,599.0 800.5,599.2 801.5,597.0 802.5,599.5 803.5,601.2 804.5,599.9 805.5,600.1 806.5,599.2 807.5,597.0 808.5,597.2 809.5,597.8 810.5,599.1 811.5,599.6 812.5,600.0 813.5,598.9 814.5,600.4 815.5,599.0 816.5,598.6 817.5,600.3 818.5,598.4 819.5,596.4 820.5,598.3 821.5,599.6 822.5,596.0 823.5,598.9 824.5,598.8 825.5,597.5 826.5,597.3 827.5,598.3 828.5,598.1 829.5,600.0 830.5,598.9 831.5,596.6 832.5,597.3 833.5,598.8 834.5,600.0 835.5,598.2 836.5,598.0 837.5,599.6 838.5,597.4 839.5,597.0 840.5,595.6 841.5,596.5 842.5,599.3 843.5,595.3 844.5,596.7 845.5,595.0 846.5,596.6 847.5,597.3 848.5,595.9 849.5,596.8 850.5,596.6 851.5,596.1 852.5,597.4 853.5,596.2 854.5,594.8 855.5,594.2 856.5,593.8 857.5,595.1 858.5,594.1 859.5,597.3 860.5,596.1 861.5,593.7 862.5,593.4 863.5,595.4 864.5,591.3 865.5,592.7 866.5,594.1 867.5,589.5 868.5,586.3 869.5,581.0 870.5,574.8 871.5,566.9 872.5,568.7 873.5,571.4 874.5,573.3 875.5,577.0 876.5,576.8 877.5,577.2 878.5,578.0 879.5,579.4 880.5,581.8 881.5,584.7 882.5,585.0 883.5,585.2 884.5,585.8 885.5,587.5 886.5,588.8 887.5,589.7 888.5,589.9 889.5,592.1 890.5,594.8 891.5,591.3 892.5,593.2 893.5,591.0 894.5,593.4 895.5,592.2 896.5,590.6 897.5,592.8 898.5,594.6 899.5,592.5 900.5,593.5 901.5,592.0 902.5,589.6 903.5,592.3 904.5,591.2 905.5,589.9 906.5,592.2 907.5,591.5 908.5,590.4 909.5,591.8 910.5,589.7 911.5,591.2 912.5,589.4 913.5,590.8 914.5,588.9 915.5,591.6 916.5,590.1 917.5,591.3 918.5,588.7 919.5,588.9 920.5,590.2 921.5,586.1 922.5,587.8 923.5,590.0 924.5,589.3 925.5,589.7 926.5,588.1 927.5,588.9 928.5,587.2 929.5,586.2 930.5,585.6 931.5,586.6 932.5,586.4 933.5,586.0 934.5,582.5 935.5,584.0 936.5,585.3 937.5,586.0 938.5,584.8 939.5,584.2 940.5,582.6 941.5,587.7 942.5,584.7 943.5,588.1 944.5,588.3 945.5,587.2 946.5,586.6 947.5,587.8 948.5,586.7 949.5,588.6 950.5,588.7 951.5,589.6 952.5,590.4 953.5,591.6 954.5,589.6 955.5,591.5 956.5,589.9 957.5,590.1 958.5,590.7 959.5,590.3 960.5,592.0 961.5,591.5 962.5,591.5 963.5,589.6 964.5,589.5 965.5,588.1 966.5,587.1 967.5,588.4 968.5,587.7 969.5,585.8 970.5,587.2 971.5,584.2 972.5,585.5 973.5,584.6 974.5,584.3 975.5,583.2 976.5,585.0 977.5,584.1 978.5,584.4 979.5,582.8 980.5,580.8 981.5,581.9 982.5,581.5 983.5,583.8 984.5,585.2 985.5,584.8 986.5,584.3 987.5,585.1 988.5,586.2 989.5,585.0 990.5,587.3 991.5,587.9 992.5,587.6 993.5,588.3 994.5,589.1 995.5,587.7 996.5,587.5 997.5,589.0 998.5,588.2 999.5,589.6 1000.5,586.4 1001.5,585.3 1002.5,588.0 1003.5,587.8 1004.5,585.3 1005.5,583.7 1006.5,584.6 1007.5,582.0 1008.5,582.9 1009.5,580.1 1010.5,581.6 1011.5,578.8 1012.5,580.2 1013.5,581.4 1014.5,578.7 1015.5,579.2 1016.5,577.5 1017.5,577.6 1018.5,577.3 1019.5,580.5 1020.5,579.7 1021.5,582.0 1022.5,579.3 1023.5,580.8 1024.5,581.5 1025.5,583.4 1026.5,584.7 1027.5,583.2 1028.5,583.8 1029.5,584.2 1030.5,588.7 1031.5,588.3 1032.5,588.3 1033.5,589.0 1034.5,586.2 1035.5,587.2 1036.5,590.2 1037.5,589.6 1038.5,589.4 1039.5,588.2 1040.5,590.0 1041.5,591.3 1042.5,588.1 1043.5,589.5 1044.5,589.0 1045.5,590.0 1046.5,589.6 1047.5,589.5 1048.5,588.7 1049.5,589.7 1050.5,589.1 1051.5,589.7 1052.5,589.8 1053.5,590.6 1054.5,589.3 1055.5,589.7 1056.5,591.2 1057.5,589.9 1058.5,589.9 1059.5,591.1 1060.5,590.5 1061.5,590.4 1062.5,590.6 1063.5,589.0 1064.5,590.9 1065.5,591.9 1066.5,591.2 1067.5,588.9 1068.5,590.9 1069.5,589.7 1070.5,590.5 1071.5,590.9 1072.5,589.5 1073.5,592.3 1074.5,590.8 1075.5,591.8 1076.5,591.7 1077.5,592.5 1078.5,592.4 1079.5,589.5 1080.5,591.2 1081.5,588.9 1082.5,590.8 1083.5,592.1 1084.5,592.4 1085.5,592.9 1086.5,591.0 1087.5,591.7 1088.5,591.3 1089.5,592.5 1090.5,592.8 1091.5,590.5 1092.5,595.0 1093.5,590.7 1094.5,590.2 1095.5,591.2 1096.5,591.3 1097.5,591.0 1098.5,589.5 1099.5,591.8 1100.5,590.1 1101.5,591.7 1102.5,591.4 1103.5,588.4 1104.5,588.6 1105.5,588.5 1106.5,589.8 1107.5,589.5 1108.5,589.6 1109.5,588.3 1110.5,589.6 1111.5,590.6 1112.5,587.4 1113.5,588.6 1114.5,589.0 1115.5,588.5 1116.5,588.3 1117.5,590.4 1118.5,589.8 1119.5,589.3 1120.5,587.5 1121.5,590.7 1122.5,588.6 1123.5,587.6 1124.5,587.8 1125.5,587.6 1126.5,590.5 1127.5,588.3 1128.5,588.1 1129.5,585.7 1130.5,588.8 1131.5,586.8 1132.5,586.7 1133.5,588.6 1134.5,586.9 1135.5,588.8 1136.5,589.0 1137.5,585.8 1138.5,587.6 1139.5,586.0 1140.5,587.6 1141.5,588.7 1142.5,586.1 1143.5,589.6 1144.5,587.2 1145.5,586.2 1146.5,587.4 1147.5,588.3 1148.5,585.9 1149.5,587.4 1150.5,585.8 1151.5,588.5 1152.5,587.3 1153.5,586.5 1154.5,588.0 1155.5,585.4 1156.5,586.2 1157.5,588.6 1158.5,586.3 1159.5,587.8 1160.5,586.4 1161.5,585.4 1162.5,585.7 1163.5,586.0 1164.5,585.3 1165.5,584.8 1166.5,584.7 1167.5,583.8 1168.5,585.5 1169.5,585.7 1170.5,586.0 1171.5,583.0 1172.5,585.9 1173.5,585.1 1174.5,583.6 1175.5,585.3 1176.5,586.2 1177.5,585.9 1178.5,586.2 1179.5,586.5 1180.5,586.6 1181.5,585.6 1182.5,583.4 1183.5,585.0 1184.5,586.3 1185.5,585.4 1186.5,586.8 1187.5,586.9 1188.5,586.2 1189.5,588.3 1190.5,585.2 1191.5,587.4 1192.5,585.9 1193.5,585.6 1194.5,587.2 1195.5,586.0 1196.5,587.7 1197.5,585.5 1198.5,586.9 1199.5,586.1 1200.5,586.9 1201.5,586.9 1202.5,586.2 1203.5,588.3 1204.5,586.3 1205.5,586.7 1206.5,588.9 1207.5,589.1 1208.5,588.9 1209.5,588.7 1210.5,591.1 1211.5,587.5 1212.5,588.4 1213.5,588.4 1214.5,590.9 1215.5,590.5 1216.5,591.8 1217.5,591.9 1218.5,591.0 1219.5,590.6 1220.5,590.8 1221.5,594.6 1222.5,593.6 1223.5,593.5 1224.5,592.8 1225.5,593.3 1226.5,593.5 1227.5,593.8 1228.5,591.9 1229.5,594.7 1230.5,594.6 1231.5,595.5 1232.5,595.6 1233.5,596.6 1234.5,595.8 1235.5,596.9 1236.5,593.4 1237.5,595.2 1238.5,598.5 1239.5,595.5 1240.5,596.7 1241.5,598.0 1242.5,596.5 1243.5,598.5 1244.5,596.3 1245.5,596.0 1246.5,596.9 1247.5,596.8 1248.5,598.8 1249.5,598.8 1250.5,599.7 1251.5,598.5 1252.5,602.7 1253.5,600.0 1254.5,600.3 1255.5,601.1 1256.5,600.6 1257.5,600.4 1258.5,601.5 1259.5,602.6 1260.5,602.6 1261.5,603.1 1262.5,601.6 1263.5,601.6 1264.5,604.8 1265.5,602.6 1266.5,603.5 1267.5,604.0 1268.5,605.0 1269.5,602.1 1270.5,603.2 1271.5,603.5 1272.5,603.8 1273.5,601.7 1274.5,604.4 1275.5,601.5 1276.5,605.2 1277.5,605.7 1278.5,606.0 1279.5,604.2 1280.5,606.8 1281.5,605.0 1282.5,604.8 1283.5,605.3 1284.5,605.6 1285.5,607.0 1286.5,607.9 1287.5,604.9 1288.5,606.8 1289.5,608.6 1290.5,608.1 1291.5,608.6 1292.5,606.6 1293.5,609.5 1294.5,607.0 1295.5,609.1 1296.5,610.7 1297.5,611.6 1298.5,610.4 1299.5,611.1 1300.5,609.8 1301.5,610.3 1302.5,612.5 1303.5,611.5 1304.5,611.7 1305.5,610.6 1306.5,612.7 1307.5,613.6 1308.5,612.3 1309.5,613.0 1310.5,615.6 1311.5,614.4 1312.5,614.2 1313.5,613.6 1314.5,614.6 1315.5,615.2 1316.5,617.1 1317.5,615.1 1318.5,617.9 1319.5,615.0 1320.5,615.8 1321.5,617.2 1322.5,616.2 1323.5,615.7 1324.5,616.6 1325.5,617.4 1326.5,615.1 1327.5,616.9 1328.5,617.2 1329.5,617.0 1330.5,618.4 1331.5,617.1 1332.5,617.5 1333.5,618.0 1334.5,618.9 1335.5,618.0 1336.5,620.1 1337.5,617.6 1338.5,620.1 1339.5,617.9 1340.5,618.8 1341.5,619.5 1342.5,621.5 1343.5,620.3 1344.5,619.0 1345.5,620.9 1346.5,619.4 1347.5,618.9 1348.5,620.3 1349.5,620.0 1350.5,621.1 1351.5,619.5 1352.5,620.7 1353.5,621.0 1354.5,620.8 1355.5,620.5 1356.5,619.9 1357.5,621.8 1358.5,621.0 1359.5,621.5 1360.5,621.0 1361.5,621.8 1362.5,621.1 1363.5,622.8 1364.5,624.0 1365.5,623.7 1366.5,625.0 1367.5,624.8 1368.5,626.4 1369.5,625.2 1370.5,624.0 1371.5,626.8 1372.5,626.5 1373.5,626.1 1374.5,628.3 1375.5,628.3 1376.5,628.9 1377.5,628.4 1378.5,629.4 1379.5,629.9 1380.5,632.0 1381.5,629.7 1382.5,630.7 1383.5,631.3 1384.5,629.1 1385.5,629.3 1386.5,633.6 1387.5,629.3 1388.5,632.0 1389.5,630.6 1390.5,630.7 1391.5,629.5 1392.5,630.8 1393.5,632.8 1394.5,630.5 1395.5,632.8 1396.5,632.6 1397.5,634.5 1398.5,631.9 1399.5,633.9 1400.5,633.6 1401.5,632.4 1402.5,631.0 1403.5,634.6 1404.5,631.5 1405.5,632.5 1406.5,634.1 1407.5,634.3 1408.5,632.2 1409.5,633.2 1410.5,632.9 1411.5,634.6 1412.5,636.0 1413.5,631.3 1414.5,634.4 1415.5,630.2 1416.5,633.4 1417.5,632.2 1418.5,635.7 1419.5,633.7 1420.5,632.7 1421.5,633.0 1422.5,633.1 1423.5,634.1 1424.5,633.9 1425.5,634.9 1426.5,636.1 1427.5,635.3 1428.5,633.3 1429.5,633.1 1430.5,634.2 1431.5,636.3 1432.5,635.0 1433.5,634.7 1434.5,635.8 1435.5,634.2 1436.5,634.7 1437.5,636.7 1438.5,635.9 1439.5,635.9 1440.5,637.0 1441.5,636.1 1442.5,636.2 1443.5,636.5 1444.5,637.8 1445.5,637.2 1446.5,635.9 1447.5,636.9 1448.5,638.0 1449.5,639.4 1450.5,636.2 1451.5,637.9 1452.5,637.3 1453.5,638.5 1454.5,638.2 1455.5,639.4 1456.5,638.4 1457.5,637.3 1458.5,637.3 1459.5,638.4 1460.5,638.5 1461.5,640.7 1462.5,640.0 1463.5,636.9 1464.5,638.6 1465.5,636.9 1466.5,636.6 1467.5,639.3 1468.5,639.1 1469.5,637.4 1470.5,640.4 1471.5,637.6 1472.5,637.5 1473.5,639.6 1474.5,639.2 1475.5,638.9 1476.5,639.1 1477.5,639.6 1478.5,639.3 1479.5,639.4 1480.5,637.6 1481.5,638.3 1482.5,640.6 1483.5,639.2 1484.5,640.7 1485.5,641.6 1486.5,640.0 1487.5,640.8 1488.5,642.9 1489.5,641.5 1490.5,642.8 1491.5,642.5 1492.5,641.7 1493.5,640.8 1494.5,640.0 1495.5,639.7 1496.5,641.5 1497.5,641.5 1498.5,640.8 1499.5,642.0 1500.5,640.4 1501.5,642.3 1502.5,641.2 1503.5,641.1 1504.5,641.2 1505.5,641.1 1506.5,644.0 1507.5,639.5 1508.5,641.5 1509.5,642.7 1510.5,642.1 1511.5,641.0 1512.5,643.3 1513.5,640.3 1514.5,640.0 1515.5,642.1 1516.5,639.9 1517.5,638.9 1518.5,642.5 1519.5,642.4 1520.5,642.4 1521.5,641.1 1522.5,641.9 1523.5,640.6 1524.5,643.6 1525.5,642.6 1526.5,642.6 1527.5,639.7 1528.5,642.7 1529.5,643.5 1530.5,643.2 1531.5,642.8 1532.5,642.0 1533.5,641.6 1534.5,642.7 1535.5,642.5 1536.5,642.3 1537.5,641.8 1538.5,644.0 1539.5,640.9 1540.5,642.2 1541.5,641.6 1542.5,643.4 1543.5,643.8 1544.5,643.7 1545.5,643.2 1546.5,640.8 1547.5,644.7 1548.5,643.0 1549.5,642.4 1550.5,642.5 1551.5,642.2 1552.5,643.1 1553.5,643.0 1554.5,642.3 1555.5,639.9 1556.5,642.7 1557.5,643.3 1558.5,643.4 1559.5,642.7 1560.5,643.4 1561.5,644.1 1562.5,642.5 1563.5,644.6 1564.5,640.9 1565.5,641.7 1566.5,642.1 1567.5,640.5 1568.5,642.1 1569.5,644.6 1570.5,644.7 1571.5,643.4 1572.5,645.3 1573.5,643.7 1574.5,642.9 1575.5,643.8 1576.5,643.4 1577.5,644.4 1578.5,642.0 1579.5,644.7 1580.5,643.2 1581.5,644.7 1582.5,642.1 1583.5,643.3 1584.5,643.9 1585.5,644.9 1586.5,642.6 1587.5,645.8 1588.5,644.5 1589.5,643.5 1590.5,645.4 1591.5,644.2 1592.5,645.4 1593.5,646.7 1594.5,645.1 1595.5,643.7 1596.5,643.8 1597.5,645.0 1598.5,644.7 1599.5,643.5 1600.5,643.7 1601.5,645.1 1602.5,647.0 1603.5,641.5 1604.5,645.2 1605.5,644.2 1606.5,645.3 1607.5,645.4 1608.5,644.5 1609.5,643.3 1610.5,642.9 1611.5,642.3 1612.5,645.7 1613.5,644.2 1614.5,643.8 1615.5,644.1 1616.5,642.9 1617.5,644.7 1618.5,645.9 1619.5,645.7 1620.5,642.7 1621.5,645.9 1622.5,643.6 1623.5,642.3 1624.5,643.0 1625.5,643.3 1626.5,644.4 1627.5,643.3 1628.5,642.7 1629.5,644.1 1630.5,646.5 1631.5,643.6 1632.5,644.9 1633.5,644.5 1634.5,647.3 1635.5,642.3 1636.5,645.6 1637.5,643.0 1638.5,643.7 1639.5,644.3 1640.5,647.9 1641.5,643.6 1642.5,642.3 1643.5,645.8 1644.5,643.5 1645.5,644.1 1646.5,644.4 1647.5,644.5 1648.5,644.2 1649.5,644.7 1650.5,644.8 1651.5,645.3 1652.5,643.9 1653.5,643.6 1654.5,643.3 1655.5,645.1 1656.5,644.4 1657.5,645.1 1658.5,645.1 1659.5,646.4 1660.5,644.8 1661.5,645.5 1662.5,643.3 1663.5,643.5 1664.5,644.4 1665.5,643.4 1666.5,645.5 1667.5,643.3 1668.5,644.9 1669.5,642.1 1670.5,643.7 1671.5,644.5 1672.5,644.6 1673.5,643.0 1674.5,645.1 1675.5,646.1 1676.5,645.8 1677.5,644.3 1678.5,644.5 1679.5,643.8 1680.5,645.8 1681.5,646.8 1682.5,644.6 1683.5,643.4 1684.5,645.5 1685.5,646.1 1686.5,642.3 1687.5,645.5 1688.5,647.8 1689.5,646.3 1690.5,646.0 1691.5,645.9 1692.5,646.7 1693.5,644.5 1694.5,644.6 1695.5,646.0 1696.5,644.8 1697.5,645.9 1698.5,643.5 1699.5,646.5 1700.5,646.6 1701.5,645.8 1702.5,645.9 1703.5,647.6 1704.5,644.6 1705.5,644.8 1706.5,644.7 1707.5,645.4 1708.5,644.8 1709.5,646.0 1710.5,645.2 1711.5,644.4 1712.5,644.3 1713.5,647.4 1714.5,646.0 1715.5,645.8 1716.5,646.1 1717.5,646.0 1718.5,647.0 1719.5,646.8 1720.5,645.5 1721.5,645.3 1722.5,645.0 1723.5,644.8 1724.5,647.8 1725.5,645.3 1726.5,644.1 1727.5,645.4 1728.5,645.5 1729.5,646.7 1730.5,645.4 1731.5,647.0 1732.5,646.8 1733.5,647.8 1734.5,648.8 1735.5,649.6 1736.5,648.0 1737.5,645.2 1738.5,646.1 1739.5,646.8 1740.5,648.8 1741.5,647.3 1742.5,647.9 1743.5,646.4 1744.5,647.3 1745.5,647.5 1746.5,646.2 1747.5,647.6 1748.5,647.9 1749.5,646.6 1750.5,647.9 1751.5,648.6 1752.5,646.9 1753.5,646.8 1754.5,646.5 1755.5,646.2 1756.5,647.1 1757.5,646.5 1758.5,646.6 1759.5,646.1 1760.5,645.3 1761.5,646.0 1762.5,647.4 1763.5,645.7 1764.5,646.3 1765.5,648.9 1766.5,648.3 1767.5,646.3 1768.5,647.8 1769.5,646.4 1770.5,649.0 1771.5,646.5 1772.5,647.3 1773.5,648.7 1774.5,646.3 1775.5,648.7 1776.5,646.4 1777.5,647.6 1778.5,647.0 1779.5,647.2 1780.5,647.5 1781.5,647.3 1782.5,646.3 1783.5,648.4 1784.5,648.2 1785.5,648.9 1786.5,649.0 1787.5,646.0 1788.5,648.9 1789.5,649.0 1790.5,647.0 1791.5,648.7 1792.5,649.2 1793.5,647.0 1794.5,646.1 1795.5,647.3 1796.5,650.7 1797.5,648.0 1798.5,646.4 1799.5,647.5 1800.5,646.7 1801.5,647.3 1802.5,647.9 1803.5,645.0 1804.5,648.2 1805.5,649.4 1806.5,647.7 1807.5,647.5 1808.5,649.1 1809.5,646.5 1810.5,646.6 1811.5,646.4 1812.5,647.8 1813.5,648.4 1814.5,647.9 1815.5,648.7 1816.5,649.0 1817.5,648.6 1818.5,647.2 1819.5,647.8 1820.5,649.5 1821.5,647.0 1822.5,647.9 1823.5,647.8 1824.5,648.0 1825.5,647.1 1826.5,646.8 1827.5,651.1 1828.5,649.4 1829.5,647.6 1830.5,648.3 1831.5,649.1 1832.5,648.0 1833.5,649.1 1834.5,647.8 1835.5,648.1 1836.5,648.4 1837.5,648.0 1838.5,645.8 1839.5,648.6 1840.5,648.8 1841.5,649.1 1842.5,647.5 1843.5,649.0 1844.5,648.9 1845.5,646.7 1846.5,646.3 1847.5,649.2 1848.5,647.7 1849.5,649.8 1850.5,651.1 1851.5,648.1 1852.5,648.0 1853.5,648.8 1854.5,649.6 1855.5,647.6 1856.5,650.2 1857.5,649.9 1858.5,649.6 1859.5,648.3 1860.5,649.9 1861.5,649.8 1862.5,647.6 1863.5,651.2 1864.5,648.6 1865.5,649.3 1866.5,648.3 1867.5,649.3 1868.5,650.2 1869.5,648.0 1870.5,647.1 1871.5,648.4 1872.5,647.5 1873.5,648.1 1874.5,648.8 1875.5,648.9 1876.5,650.4 1877.5,647.9 1878.5,649.4 1879.5,648.4 1880.5,650.5 1881.5,651.8 1882.5,649.4 1883.5,650.9 1884.5,648.5 1885.5,647.3 1886.5,647.7 1887.5,647.3 1888.5,648.0 1889.5,648.8 1890.5,650.3 1891.5,649.9 1892.5,649.6 1893.5,648.6 1894.5,648.3 1895.5,649.2 1896.5,649.3 1897.5,649.4 1898.5,649.5 1899.5,649.0 1900.5,647.0 1901.5,647.9 1902.5,648.3 1903.5,651.0 1904.5,648.7 1905.5,649.9 1906.5,650.8 1907.5,649.6 1908.5,648.8 1909.5,648.9 1910.5,648.1 1911.5,649.6 1912.5,650.5 1913.5,649.9 1914.5,650.1 1915.5,650.1 1916.5,651.5 1917.5,648.6 1918.5,649.5 1919.5,650.1 1920.5,650.7 1921.5,646.7 1922.5,648.8 1923.5,649.2 1924.5,648.3 1925.5,650.3 1926.5,649.7 1927.5,649.0 1928.5,647.6 1929.5,648.0 1930.5,648.4 1931.5,650.0 1932.5,648.1 1933.5,647.2 1934.5,647.9 1935.5,648.9 1936.5,651.4 1937.5,652.3 1938.5,649.0 1939.5,650.6 1940.5,651.1 1941.5,651.0 1942.5,649.5 1943.5,648.2 1944.5,649.1 1945.5,647.6 1946.5,649.9 1947.5,650.5 1948.5,647.6 1949.5,649.6 1950.5,650.0 1951.5,651.1 1952.5,651.2 1953.5,650.6 1954.5,649.0 1955.5,649.3 1956.5,651.1 1957.5,649.1 1958.5,649.7 1959.5,651.5 1960.5,649.9 1961.5,648.3 1962.5,649.5 1963.5,650.5 1964.5,649.6 1965.5,651.1 1966.5,651.3 1967.5,649.2 1968.5,649.3 1969.5,649.8 1970.5,648.6 1971.5,650.3 1972.5,649.7 1973.5,650.8 1974.5,649.3 1975.5,649.0 1976.5,652.0 1977.5,649.0 1978.5,649.4 1979.5,649.2 1980.5,649.7 1981.5,649.0 1982.5,650.0 1983.5,649.2 1984.5,649.6 1985.5,650.4 1986.5,650.8 1987.5,650.5 1988.5,649.2 1989.5,650.5 1990.5,649.9 1991.5,649.9 1992.5,648.2 1993.5,650.8 1994.5,649.9 1995.5,651.9 1996.5,650.8 1997.5,648.8 1998.5,648.6 1999.5,651.3 2000.5,649.1 2001.5,650.8 2002.5,649.8 2003.5,652.4 2004.5,650.2 2005.5,651.8 2006.5,651.6 2007.5,649.6 2008.5,649.8 2009.5,651.8 2010.5,650.1 2011.5,649.2 2012.5,651.5 2013.5,653.0 2014.5,650.1 2015.5,651.7 2016.5,650.0 2017.5,651.7 2018.5,649.9 2019.5,651.7 2020.5,650.8 2021.5,650.0 2022.5,650.5 2023.5,649.6 2024.5,649.0 2025.5,649.1 2026.5,650.2 2027.5,649.1 2028.5,650.7 2029.5,650.8 2030.5,650.8 2031.5,649.7 2032.5,650.3 2033.5,650.3 2034.5,651.7 2035.5,649.4 2036.5,649.9 2037.5,650.0 2038.5,650.2 2039.5,649.5 2040.5,649.6 2041.5,651.4 2042.5,649.6 2043.5,651.3 2044.5,652.6 2045.5,651.7 2046.5,648.4 2047.5,651.2 2048.5,650.9 2049.5,651.0 2050.5,648.6 2051.5,651.2 2052.5,649.2 2053.5,651.8 2054.5,651.6 2055.5,653.2 2056.5,650.0 2057.5,648.7 2058.5,651.5 2059.5,651.4 2060.5,650.0 2061.5,651.9 2062.5,651.2 2063.5,649.0 2064.5,650.0 2065.5,649.9 2066.5,650.3 2067.5,650.6 2068.5,649.7 2069.5,650.2 2070.5,651.1 2071.5,650.4 2072.5,650.1 2073.5,650.1 2074.5,650.3 2075.5,648.3 2076.5,650.6 2077.5,649.3 2078.5,650.6 2079.5,648.8 2080.5,651.5 2081.5,650.7 2082.5,649.0 2083.5,650.7 2084.5,649.6 2085.5,652.5 2086.5,651.0 2087.5,649.6 2088.5,650.7 2089.5,650.5 2090.5,651.8 2091.5,650.9 2092.5,651.1 2093.5,649.3 2094.5,651.4 2095.5,652.8 2096.5,651.2 2097.5,650.5 2098.5,650.7 2099.5,649.5 2100.5,650.8 2101.5,649.3 2102.5,650.6 2103.5,650.1 2104.5,649.7 2105.5,651.2 2106.5,648.9 2107.5,650.5 2108.5,649.1 2109.5,652.6 2110.5,652.8 2111.5,651.5 2112.5,652.7 2113.5,651.3 2114.5,651.2 2115.5,650.1 2116.5,649.6 2117.5,650.8 2118.5,650.0 2119.5,650.1 2120.5,651.4 2121.5,650.5 2122.5,648.9 2123.5,650.4 2124.5,649.8 2125.5,650.3 2126.5,649.4 2127.5,652.0 2128.5,652.8 2129.5,649.4"/></g><g clip-path="url(#cb)"><polyline fill="none" stroke="#000000" stroke-width="2" stroke-linejoin="miter" stroke-miterlimit="2" shape-rendering="crispEdges" points="233.0,1580.3 234.2,1593.3 235.4,1591.9 236.6,1575.0 237.8,1577.1 239.0,1574.9 240.2,1585.6 241.4,1579.5 242.6,1587.3 243.8,1562.0 245.0,1595.3 246.2,1579.1 247.4,1586.6 248.6,1578.7 249.8,1576.3 251.0,1584.5 252.2,1588.0 253.4,1578.0 254.6,1578.5 255.8,1586.7 257.0,1571.5 258.2,1565.2 259.4,1583.9 260.6,1573.5 261.8,1561.3 263.0,1572.1 264.2,1575.4 265.4,1568.4 266.6,1565.4 267.8,1580.4 269.0,1588.7 270.2,1577.7 271.4,1572.7 272.6,1583.8 273.8,1587.0 275.0,1577.1 276.2,1585.3 277.4,1590.2 278.6,1578.0 279.8,1572.1 281.0,1583.4 282.2,1582.4 283.4,1590.7 284.6,1567.5 285.8,1573.5 287.0,1571.8 288.2,1563.1 289.4,1581.2 290.6,1585.1 291.8,1572.8 293.0,1593.5 294.2,1588.0 295.4,1586.1 296.6,1583.9 297.8,1589.3 299.0,1567.0 300.2,1586.0 301.4,1585.9 302.6,1562.8 303.8,1583.4 305.0,1577.6 306.2,1587.8 307.4,1575.5 308.6,1579.8 309.8,1583.7 311.0,1570.3 312.2,1586.8 313.4,1578.1 314.6,1582.9 315.8,1568.6 317.0,1586.2 318.2,1578.2 319.4,1565.6 320.6,1573.4 321.8,1578.9 323.0,1583.2 324.2,1536.1 325.4,1565.0 326.6,1554.6 327.8,1542.3 329.0,1525.2 330.2,1550.5 331.4,1511.8 332.6,1531.5 333.8,1536.5 335.0,1492.3 336.2,1501.7 337.4,1479.7 338.6,1492.9 339.8,1502.4 341.0,1498.1 342.2,1432.5 343.4,1437.1 344.6,1443.1 345.8,1444.5 347.0,1416.6 348.2,1388.3 349.4,1392.4 350.6,1376.2 351.8,1358.4 353.0,1335.4 354.2,1337.4 355.4,1322.9 356.6,1303.7 357.8,1288.6 359.0,1258.8 360.2,1258.3 361.4,1272.2 362.6,1236.8 363.8,1203.5 365.0,1235.6 366.2,1215.5 367.4,1234.4 368.6,1193.7 369.8,1178.0 371.0,1154.5 372.2,1193.7 373.4,1207.6 374.6,1143.7 375.8,1139.6 377.0,1153.8 378.2,1123.4 379.4,1126.6 380.6,1119.0 381.8,1122.1 383.0,1131.4 384.2,1106.7 385.4,1116.1 386.6,1086.8 387.8,1094.0 389.0,1045.0 390.2,1051.1 391.4,1084.8 392.6,1054.6 393.8,1069.6 395.0,1067.1 396.2,1080.0 397.4,1070.0 398.6,1072.8 399.8,1051.9 401.0,1040.8 402.2,1039.7 403.4,1044.6 404.6,1033.7 405.8,1044.7 407.0,1053.2 408.2,1060.3 409.4,1053.5 410.6,1029.0 411.8,1065.3 413.0,1073.8 414.2,1092.1 415.4,1086.2 416.6,1067.6 417.8,1069.2 419.0,1120.3 420.2,1101.5 421.4,1123.4 422.6,1131.8 423.8,1083.9 425.0,1108.2 426.2,1113.0 427.4,1119.4 428.6,1126.2 429.8,1127.6 431.0,1134.3 432.2,1113.0 433.4,1143.0 434.6,1140.5 435.8,1159.0 437.0,1151.0 438.2,1171.3 439.4,1176.6 440.6,1170.1 441.8,1172.2 443.0,1170.5 444.2,1163.5 445.4,1170.2 446.6,1166.7 447.8,1183.9 449.0,1180.1 450.2,1191.9 451.4,1162.7 452.6,1201.8 453.8,1176.9 455.0,1179.9 456.2,1191.1 457.4,1187.5 458.6,1203.9 459.8,1192.1 461.0,1186.4 462.2,1192.4 463.4,1230.1 464.6,1211.8 465.8,1194.4 467.0,1218.9 468.2,1199.5 469.4,1259.6 470.6,1212.1 471.8,1250.3 473.0,1257.3 474.2,1231.5 475.4,1265.3 476.6,1282.3 477.8,1279.6 479.0,1279.4 480.2,1293.2 481.4,1283.8 482.6,1289.5 483.8,1285.3 485.0,1300.1 486.2,1277.5 487.4,1305.7 488.6,1286.7 489.8,1278.8 491.0,1302.7 492.2,1324.5 493.4,1314.3 494.6,1292.6 495.8,1313.9 497.0,1299.1 498.2,1307.2 499.4,1313.6 500.6,1279.6 501.8,1321.3 503.0,1305.6 504.2,1313.8 505.4,1304.3 506.6,1304.6 507.8,1314.3 509.0,1342.2 510.2,1356.0 511.4,1331.1 512.6,1349.1 513.8,1329.4 515.0,1306.4 516.2,1342.0 517.4,1350.7 518.6,1341.8 519.8,1357.1 521.0,1365.5 522.2,1348.2 523.4,1343.4 524.6,1366.0 525.8,1367.9 527.0,1367.6 528.2,1389.3 529.4,1402.0 530.6,1372.0 531.8,1390.3 533.0,1395.6 534.2,1394.0 535.4,1400.7 536.6,1381.3 537.8,1399.7 539.0,1420.4 540.2,1404.2 541.4,1385.1 542.6,1404.8 543.8,1416.2 545.0,1404.9 546.2,1393.0 547.4,1424.9 548.6,1384.7 549.8,1410.9 551.0,1403.9 552.2,1387.3 553.4,1423.1 554.6,1411.0 555.8,1389.5 557.0,1415.8 558.2,1401.4 559.4,1380.6 560.6,1398.8 561.8,1413.3 563.0,1419.3 564.2,1413.0 565.4,1411.9 566.6,1418.6 567.8,1409.3 569.0,1430.1 570.2,1416.4 571.4,1419.7 572.6,1424.5 573.8,1402.6 575.0,1408.9 576.2,1442.4 577.4,1426.4 578.6,1418.7 579.8,1429.0 581.0,1418.3 582.2,1430.5 583.4,1418.2 584.6,1432.9 585.8,1407.6 587.0,1450.5 588.2,1425.3 589.4,1411.2 590.6,1431.9 591.8,1430.8 593.0,1439.3 594.2,1421.7 595.4,1444.7 596.6,1491.6 597.8,1422.7 599.0,1446.7 600.2,1438.4 601.4,1446.5 602.6,1419.0 603.8,1429.3 605.0,1453.2 606.2,1447.0 607.4,1471.7 608.6,1439.5 609.8,1452.9 611.0,1492.6 612.2,1441.5 613.4,1440.3 614.6,1452.8 615.8,1453.0 617.0,1465.8 618.2,1455.9 619.4,1443.7 620.6,1457.6 621.8,1492.1 623.0,1473.1 624.2,1416.1 625.4,1453.6 626.6,1443.6 627.8,1464.9 629.0,1454.0 630.2,1483.9 631.4,1470.1 632.6,1469.7 633.8,1460.1 635.0,1457.1 636.2,1462.9 637.4,1476.8 638.6,1466.6 639.8,1454.6 641.0,1477.9 642.2,1463.2 643.4,1459.9 644.6,1450.3 645.8,1454.0 647.0,1453.5 648.2,1423.6 649.4,1477.6 650.6,1471.8 651.8,1461.3 653.0,1479.5 654.2,1471.4 655.4,1471.0 656.6,1431.5 657.8,1463.4 659.0,1474.6 660.2,1490.2 661.4,1493.9 662.6,1488.6 663.8,1452.8 665.0,1438.8 666.2,1478.0 667.4,1470.9 668.6,1484.4 669.8,1469.7 671.0,1475.0 672.2,1451.5 673.4,1479.1 674.6,1467.2 675.8,1478.7 677.0,1480.7 678.2,1473.2 679.4,1479.7 680.6,1475.5 681.8,1486.6 683.0,1483.4 684.2,1469.1 685.4,1468.9 686.6,1501.7 687.8,1476.4 689.0,1492.0 690.2,1484.0 691.4,1471.0 692.6,1468.8 693.8,1481.2 695.0,1483.5 696.2,1488.8 697.4,1463.1 698.6,1472.7 699.8,1480.0 701.0,1503.9 702.2,1449.3 703.4,1488.6 704.6,1475.4 705.8,1489.2 707.0,1476.9 708.2,1489.1 709.4,1506.1 710.6,1489.8 711.8,1491.3 713.0,1490.8 714.2,1475.7 715.4,1494.0 716.6,1484.0 717.8,1476.0 719.0,1487.1 720.2,1484.9 721.4,1498.9 722.6,1488.3 723.8,1482.0 725.0,1509.8 726.2,1503.7 727.4,1508.0 728.6,1499.2 729.8,1489.8 731.0,1485.9 732.2,1488.2 733.4,1505.5 734.6,1494.4 735.8,1472.8 737.0,1493.0 738.2,1474.4 739.4,1496.5 740.6,1478.0 741.8,1477.5 743.0,1496.9 744.2,1494.5 745.4,1473.1 746.6,1506.5 747.8,1526.3 749.0,1476.6 750.2,1522.2 751.4,1488.1 752.6,1491.1 753.8,1495.8 755.0,1478.8 756.2,1516.8 757.4,1506.0 758.6,1489.3 759.8,1496.1 761.0,1479.5 762.2,1495.8 763.4,1513.7 764.6,1477.6 765.8,1495.5 767.0,1503.7 768.2,1516.4 769.4,1520.8 770.6,1496.4 771.8,1492.8 773.0,1509.4 774.2,1498.6 775.4,1499.6 776.6,1518.9 777.8,1527.5 779.0,1508.3 780.2,1502.4 781.4,1513.1 782.6,1479.8 783.8,1505.6 785.0,1491.7 786.2,1539.1 787.4,1516.6 788.6,1509.0 789.8,1504.7 791.0,1473.4 792.2,1517.7 793.4,1530.5 794.6,1498.6 795.8,1518.2 797.0,1519.0 798.2,1488.4 799.4,1522.5 800.6,1528.5 801.8,1513.5 803.0,1509.8 804.2,1521.7 805.4,1490.3 806.6,1512.8 807.8,1526.2 809.0,1495.2 810.2,1525.9 811.4,1507.0 812.6,1484.7 813.8,1511.9 815.0,1500.4 816.2,1518.2 817.4,1498.3 818.6,1528.8 819.8,1504.8 821.0,1519.9 822.2,1507.3 823.4,1511.3 824.6,1532.1 825.8,1519.2 827.0,1511.2 828.2,1499.9 829.4,1532.9 830.6,1527.4 831.8,1513.3 833.0,1521.3 834.2,1504.4 835.4,1504.9 836.6,1507.8 837.8,1524.0 839.0,1523.5 840.2,1509.7 841.4,1530.1 842.6,1531.0 843.8,1523.1 845.0,1535.0 846.2,1517.4 847.4,1520.1 848.6,1528.3 849.8,1521.7 851.0,1533.0 852.2,1505.6 853.4,1541.9 854.6,1512.3 855.8,1520.9 857.0,1504.7 858.2,1531.6 859.4,1540.8 860.6,1538.3 861.8,1535.3 863.0,1503.2 864.2,1513.9 865.4,1518.4 866.6,1512.2 867.8,1540.1 869.0,1527.7 870.2,1525.0 871.4,1532.1 872.6,1512.9 873.8,1513.7 875.0,1514.3 876.2,1533.0 877.4,1531.1 878.6,1534.5 879.8,1541.4 881.0,1508.8 882.2,1519.7 883.4,1529.5 884.6,1509.5 885.8,1520.7 887.0,1541.7 888.2,1543.1 889.4,1542.9 890.6,1529.2 891.8,1526.0 893.0,1543.5 894.2,1524.1 895.4,1533.8 896.6,1547.1 897.8,1524.5 899.0,1521.3 900.2,1529.5 901.4,1537.8 902.6,1536.3 903.8,1532.1 905.0,1537.5 906.2,1508.7 907.4,1518.7 908.6,1532.6 909.8,1518.0 911.0,1512.6 912.2,1514.5 913.4,1518.5 914.6,1528.5 915.8,1517.3 917.0,1534.3 918.2,1554.0 919.4,1529.4 920.6,1548.6 921.8,1535.4 923.0,1516.6 924.2,1528.3 925.4,1518.7 926.6,1542.3 927.8,1516.6 929.0,1549.9 930.2,1540.1 931.4,1505.3 932.6,1543.0 933.8,1553.5 935.0,1522.1 936.2,1546.0 937.4,1508.8 938.6,1536.4 939.8,1510.9 941.0,1539.8 942.2,1509.5 943.4,1498.3 944.6,1539.0 945.8,1564.5 947.0,1526.0 948.2,1545.2 949.4,1535.7 950.6,1530.0 951.8,1542.7 953.0,1556.6 954.2,1518.2 955.4,1542.4 956.6,1539.6 957.8,1516.1 959.0,1556.9 960.2,1561.5 961.4,1522.8 962.6,1558.9 963.8,1536.6 965.0,1533.8 966.2,1556.2 967.4,1539.2 968.6,1540.7 969.8,1556.8 971.0,1553.8 972.2,1548.7 973.4,1518.1 974.6,1516.0 975.8,1552.2 977.0,1524.9 978.2,1539.4 979.4,1523.2 980.6,1535.2 981.8,1520.7 983.0,1559.7 984.2,1524.4 985.4,1536.5 986.6,1535.7 987.8,1554.5 989.0,1519.5 990.2,1538.1 991.4,1535.9 992.6,1545.9 993.8,1545.2 995.0,1532.8 996.2,1542.3 997.4,1534.2 998.6,1545.6 999.8,1538.1 1001.0,1530.8 1002.2,1539.3 1003.4,1544.7 1004.6,1570.2 1005.8,1533.5 1007.0,1544.2 1008.2,1559.8 1009.4,1512.7 1010.6,1517.2 1011.8,1524.7 1013.0,1539.2 1014.2,1573.4 1015.4,1546.2 1016.6,1557.2 1017.8,1538.2 1019.0,1508.4 1020.2,1510.6 1021.4,1555.1 1022.6,1544.1 1023.8,1524.4 1025.0,1556.7 1026.2,1521.4 1027.4,1557.1 1028.6,1561.4 1029.8,1532.0 1031.0,1527.5 1032.2,1553.5 1033.4,1527.8 1034.6,1553.9 1035.8,1526.6 1037.0,1553.3 1038.2,1543.9 1039.4,1536.9 1040.6,1530.8 1041.8,1546.0 1043.0,1517.7 1044.2,1539.3 1045.4,1537.7 1046.6,1552.1 1047.8,1526.5 1049.0,1566.0 1050.2,1539.1 1051.4,1528.2 1052.6,1561.9 1053.8,1565.6 1055.0,1541.0 1056.2,1531.7 1057.4,1543.9 1058.6,1534.5 1059.8,1539.6 1061.0,1564.6 1062.2,1549.1 1063.4,1545.9 1064.6,1548.7 1065.8,1543.3 1067.0,1555.4 1068.2,1555.9 1069.4,1539.4 1070.6,1545.8 1071.8,1576.5 1073.0,1550.1 1074.2,1542.1 1075.4,1571.9 1076.6,1544.8 1077.8,1530.2 1079.0,1553.8 1080.2,1532.9 1081.4,1538.3 1082.6,1549.3 1083.8,1543.4 1085.0,1535.0 1086.2,1537.9 1087.4,1537.4 1088.6,1560.8 1089.8,1535.8 1091.0,1537.8 1092.2,1572.6 1093.4,1538.2 1094.6,1565.4 1095.8,1563.2 1097.0,1543.7 1098.2,1526.9 1099.4,1551.9 1100.6,1554.9 1101.8,1558.9 1103.0,1547.0 1104.2,1562.1 1105.4,1564.6 1106.6,1532.2 1107.8,1565.3 1109.0,1548.7 1110.2,1538.9 1111.4,1542.3 1112.6,1571.5 1113.8,1559.7 1115.0,1522.9 1116.2,1547.9 1117.4,1545.0 1118.6,1544.7 1119.8,1540.3 1121.0,1527.9 1122.2,1558.8 1123.4,1535.0 1124.6,1542.7 1125.8,1539.7 1127.0,1538.2 1128.2,1557.8 1129.4,1553.1 1130.6,1539.2 1131.8,1535.7 1133.0,1542.2 1134.2,1561.3 1135.4,1550.3 1136.6,1551.8 1137.8,1544.5 1139.0,1545.6 1140.2,1552.0 1141.4,1524.8 1142.6,1570.7 1143.8,1539.0 1145.0,1542.0 1146.2,1567.4 1147.4,1552.7 1148.6,1550.5 1149.8,1542.3 1151.0,1529.4 1152.2,1552.7 1153.4,1566.2 1154.6,1538.6 1155.8,1568.6 1157.0,1535.8 1158.2,1541.1 1159.4,1557.6 1160.6,1551.0 1161.8,1560.3 1163.0,1541.4 1164.2,1537.6 1165.4,1526.6 1166.6,1535.4 1167.8,1537.2 1169.0,1532.6 1170.2,1555.7 1171.4,1542.9 1172.6,1525.4 1173.8,1584.7 1175.0,1540.8 1176.2,1535.3 1177.4,1568.4 1178.6,1567.5 1179.8,1536.9 1181.0,1532.7 1182.2,1539.0 1183.4,1567.3 1184.6,1548.3 1185.8,1541.8 1187.0,1552.2 1188.2,1568.5 1189.4,1534.3 1190.6,1547.7 1191.8,1534.5 1193.0,1581.6 1194.2,1577.0 1195.4,1565.6 1196.6,1551.3 1197.8,1561.9 1199.0,1525.4 1200.2,1556.9 1201.4,1535.7 1202.6,1535.9 1203.8,1544.2 1205.0,1548.9 1206.2,1561.2 1207.4,1563.0 1208.6,1557.2 1209.8,1541.4 1211.0,1562.8 1212.2,1552.4 1213.4,1569.6 1214.6,1542.0 1215.8,1517.7 1217.0,1547.9 1218.2,1582.7 1219.4,1560.6 1220.6,1551.9 1221.8,1566.2 1223.0,1561.2 1224.2,1560.8 1225.4,1547.9 1226.6,1555.8 1227.8,1557.5 1229.0,1546.4 1230.2,1540.2 1231.4,1556.9 1232.6,1567.9 1233.8,1563.8 1235.0,1561.8 1236.2,1562.0 1237.4,1589.5 1238.6,1558.9 1239.8,1569.3 1241.0,1581.4 1242.2,1556.3 1243.4,1559.2 1244.6,1569.5 1245.8,1578.0 1247.0,1559.9 1248.2,1560.7 1249.4,1557.1 1250.6,1540.0 1251.8,1570.8 1253.0,1552.7 1254.2,1533.4 1255.4,1554.2 1256.6,1533.4 1257.8,1543.0 1259.0,1556.6 1260.2,1544.2 1261.4,1570.6 1262.6,1537.1 1263.8,1560.0 1265.0,1564.0 1266.2,1575.9 1267.4,1568.9 1268.6,1559.8 1269.8,1557.9 1271.0,1556.1 1272.2,1571.9 1273.4,1548.3 1274.6,1563.9 1275.8,1555.8 1277.0,1560.3 1278.2,1553.7 1279.4,1585.4 1280.6,1548.6 1281.8,1560.7 1283.0,1561.0 1284.2,1565.4 1285.4,1563.4 1286.6,1563.1 1287.8,1570.5 1289.0,1537.8 1290.2,1557.8 1291.4,1541.5 1292.6,1560.8 1293.8,1542.2 1295.0,1545.2 1296.2,1557.1 1297.4,1576.4 1298.6,1565.6 1299.8,1562.0 1301.0,1576.6 1302.2,1545.7 1303.4,1530.6 1304.6,1552.7 1305.8,1554.6 1307.0,1574.6 1308.2,1586.6 1309.4,1540.9 1310.6,1591.1 1311.8,1579.2 1313.0,1569.6 1314.2,1563.5 1315.4,1590.7 1316.6,1559.8 1317.8,1552.5 1319.0,1560.7 1320.2,1540.8 1321.4,1565.1 1322.6,1557.5 1323.8,1563.4 1325.0,1563.8 1326.2,1545.2 1327.4,1576.5 1328.6,1545.9 1329.8,1571.0 1331.0,1538.4 1332.2,1564.3 1333.4,1548.6 1334.6,1560.1 1335.8,1551.0 1337.0,1530.9 1338.2,1545.0 1339.4,1560.6 1340.6,1568.0 1341.8,1540.5 1343.0,1531.9 1344.2,1548.5 1345.4,1557.2 1346.6,1551.7 1347.8,1549.4 1349.0,1571.4 1350.2,1572.9 1351.4,1570.0 1352.6,1548.0 1353.8,1561.4 1355.0,1557.9 1356.2,1541.7 1357.4,1572.1 1358.6,1561.7 1359.8,1554.3 1361.0,1579.3 1362.2,1570.8 1363.4,1572.1 1364.6,1576.6 1365.8,1570.4 1367.0,1544.3 1368.2,1555.9 1369.4,1574.3 1370.6,1551.0 1371.8,1561.7 1373.0,1566.5 1374.2,1580.2 1375.4,1578.4 1376.6,1573.2 1377.8,1559.0 1379.0,1573.5 1380.2,1568.5 1381.4,1559.5 1382.6,1579.5 1383.8,1568.2 1385.0,1551.8 1386.2,1578.4 1387.4,1558.5 1388.6,1569.7 1389.8,1541.9 1391.0,1561.8 1392.2,1549.6 1393.4,1549.3 1394.6,1537.0 1395.8,1590.4 1397.0,1560.3 1398.2,1565.4 1399.4,1576.9 1400.6,1560.8 1401.8,1569.2 1403.0,1544.7 1404.2,1565.1 1405.4,1557.2 1406.6,1569.2 1407.8,1565.1 1409.0,1544.6 1410.2,1538.5 1411.4,1549.5 1412.6,1572.6 1413.8,1568.6 1415.0,1568.3 1416.2,1536.6 1417.4,1527.8 1418.6,1555.0 1419.8,1558.8 1421.0,1555.3 1422.2,1568.0 1423.4,1561.1 1424.6,1547.8 1425.8,1551.9 1427.0,1565.4 1428.2,1564.5 1429.4,1562.6 1430.6,1593.4 1431.8,1560.2 1433.0,1565.3 1434.2,1550.7 1435.4,1559.1 1436.6,1570.7 1437.8,1571.3 1439.0,1561.8 1440.2,1569.1 1441.4,1564.7 1442.6,1539.3 1443.8,1521.1 1445.0,1594.4 1446.2,1575.1 1447.4,1563.5 1448.6,1541.5 1449.8,1547.6 1451.0,1582.1 1452.2,1527.8 1453.4,1560.2 1454.6,1575.9 1455.8,1566.4 1457.0,1574.5 1458.2,1562.9 1459.4,1596.1 1460.6,1551.2 1461.8,1546.9 1463.0,1568.4 1464.2,1583.6 1465.4,1564.2 1466.6,1578.7 1467.8,1558.1 1469.0,1549.5 1470.2,1583.5 1471.4,1585.7 1472.6,1585.3 1473.8,1559.5 1475.0,1550.2 1476.2,1550.0 1477.4,1562.4 1478.6,1573.1 1479.8,1572.2 1481.0,1546.7 1482.2,1568.1 1483.4,1565.9 1484.6,1566.9 1485.8,1565.4 1487.0,1563.1 1488.2,1573.6 1489.4,1567.5 1490.6,1568.9 1491.8,1556.9 1493.0,1571.2 1494.2,1564.5 1495.4,1538.4 1496.6,1572.5 1497.8,1562.7 1499.0,1578.4 1500.2,1564.2 1501.4,1565.1 1502.6,1569.2 1503.8,1566.3 1505.0,1560.6 1506.2,1543.1 1507.4,1590.8 1508.6,1546.1 1509.8,1562.5 1511.0,1575.6 1512.2,1572.2 1513.4,1574.7 1514.6,1577.5 1515.8,1584.1 1517.0,1571.6 1518.2,1605.8 1519.4,1554.6 1520.6,1571.0 1521.8,1563.4 1523.0,1561.1 1524.2,1572.2 1525.4,1587.6 1526.6,1559.4 1527.8,1559.5 1529.0,1578.4 1530.2,1576.1 1531.4,1594.7 1532.6,1582.7 1533.8,1572.4 1535.0,1565.2 1536.2,1572.4 1537.4,1567.4 1538.6,1552.0 1539.8,1570.1 1541.0,1567.7 1542.2,1567.0 1543.4,1564.4 1544.6,1592.1 1545.8,1579.2 1547.0,1582.3 1548.2,1562.1 1549.4,1556.7 1550.6,1566.4 1551.8,1573.3 1553.0,1565.6 1554.2,1567.7 1555.4,1582.7 1556.6,1574.1 1557.8,1557.3 1559.0,1564.6 1560.2,1561.6 1561.4,1572.6 1562.6,1555.0 1563.8,1567.9 1565.0,1579.3 1566.2,1570.6 1567.4,1558.3 1568.6,1562.2 1569.8,1571.9 1571.0,1576.6 1572.2,1581.3 1573.4,1568.4 1574.6,1553.1 1575.8,1589.0 1577.0,1574.3 1578.2,1575.7 1579.4,1574.4 1580.6,1556.9 1581.8,1566.3 1583.0,1573.8 1584.2,1583.9 1585.4,1571.3 1586.6,1529.7 1587.8,1567.3 1589.0,1575.1 1590.2,1587.4 1591.4,1579.8 1592.6,1603.1 1593.8,1589.2 1595.0,1588.2 1596.2,1582.9 1597.4,1552.5 1598.6,1581.7 1599.8,1578.4 1601.0,1563.8 1602.2,1578.3 1603.4,1576.1 1604.6,1564.6 1605.8,1569.1 1607.0,1567.2 1608.2,1573.7 1609.4,1565.2 1610.6,1577.8 1611.8,1545.7 1613.0,1567.1 1614.2,1548.8 1615.4,1564.5 1616.6,1577.5 1617.8,1571.1 1619.0,1569.4 1620.2,1571.7 1621.4,1591.3 1622.6,1556.4 1623.8,1582.5 1625.0,1551.1 1626.2,1564.8 1627.4,1573.0 1628.6,1559.8 1629.8,1573.6 1631.0,1580.4 1632.2,1555.4 1633.4,1569.9 1634.6,1566.0 1635.8,1545.6 1637.0,1568.5 1638.2,1560.6 1639.4,1588.5 1640.6,1559.6 1641.8,1593.2 1643.0,1564.1 1644.2,1596.4 1645.4,1578.1 1646.6,1577.0 1647.8,1581.6 1649.0,1582.9 1650.2,1589.5 1651.4,1593.8 1652.6,1566.6 1653.8,1554.8 1655.0,1536.3 1656.2,1566.1 1657.4,1581.1 1658.6,1576.2 1659.8,1572.7 1661.0,1566.7 1662.2,1562.9 1663.4,1567.6 1664.6,1576.4 1665.8,1548.2 1667.0,1580.8 1668.2,1552.3 1669.4,1569.3 1670.6,1563.1 1671.8,1566.5 1673.0,1557.7 1674.2,1556.3 1675.4,1568.3 1676.6,1557.2 1677.8,1603.5 1679.0,1565.9 1680.2,1562.8 1681.4,1564.2 1682.6,1557.4 1683.8,1539.3 1685.0,1568.1 1686.2,1575.5 1687.4,1551.8 1688.6,1571.5 1689.8,1555.6 1691.0,1571.0 1692.2,1576.1 1693.4,1577.8 1694.6,1577.2 1695.8,1562.3 1697.0,1583.0 1698.2,1565.7 1699.4,1576.1 1700.6,1580.7 1701.8,1567.6 1703.0,1554.8 1704.2,1579.6 1705.4,1557.0 1706.6,1560.0 1707.8,1557.2 1709.0,1582.6 1710.2,1569.5 1711.4,1542.3 1712.6,1581.2 1713.8,1598.7 1715.0,1595.2 1716.2,1564.3 1717.4,1572.7 1718.6,1578.3 1719.8,1583.4 1721.0,1572.2 1722.2,1557.4 1723.4,1581.6 1724.6,1579.8 1725.8,1554.4 1727.0,1567.0 1728.2,1575.3 1729.4,1571.8 1730.6,1578.6 1731.8,1582.2 1733.0,1578.9 1734.2,1570.3 1735.4,1554.2 1736.6,1579.9 1737.8,1590.2 1739.0,1597.7 1740.2,1571.5 1741.4,1571.4 1742.6,1590.8 1743.8,1590.7 1745.0,1576.4 1746.2,1581.2 1747.4,1562.0 1748.6,1579.6 1749.8,1561.2 1751.0,1570.1 1752.2,1570.4 1753.4,1565.9 1754.6,1544.5 1755.8,1561.2 1757.0,1576.4 1758.2,1571.3 1759.4,1566.9 1760.6,1577.7 1761.8,1581.1 1763.0,1583.2 1764.2,1561.6 1765.4,1572.4 1766.6,1567.8 1767.8,1560.7 1769.0,1552.6 1770.2,1570.9 1771.4,1560.8 1772.6,1600.3 1773.8,1570.9 1775.0,1569.3 1776.2,1567.0 1777.4,1596.7 1778.6,1559.9 1779.8,1570.1 1781.0,1562.2 1782.2,1570.6 1783.4,1571.8 1784.6,1586.6 1785.8,1553.8 1787.0,1572.0 1788.2,1593.4 1789.4,1565.7 1790.6,1570.0 1791.8,1560.8 1793.0,1538.2 1794.2,1571.0 1795.4,1587.7 1796.6,1566.3 1797.8,1548.3 1799.0,1575.9 1800.2,1573.5 1801.4,1585.5 1802.6,1584.3 1803.8,1569.0 1805.0,1577.7 1806.2,1549.0 1807.4,1587.0 1808.6,1574.9 1809.8,1586.7 1811.0,1586.4 1812.2,1568.8 1813.4,1570.6 1814.6,1561.2 1815.8,1545.6 1817.0,1570.9 1818.2,1574.6 1819.4,1558.5 1820.6,1581.9 1821.8,1573.9 1823.0,1578.6 1824.2,1562.6 1825.4,1549.7 1826.6,1582.9 1827.8,1580.7 1829.0,1571.3 1830.2,1567.3 1831.4,1569.1 1832.6,1571.0 1833.8,1566.1 1835.0,1546.6 1836.2,1583.0 1837.4,1553.3 1838.6,1568.5 1839.8,1568.8 1841.0,1576.3 1842.2,1551.8 1843.4,1588.6 1844.6,1581.5 1845.8,1583.0 1847.0,1589.5 1848.2,1562.6 1849.4,1532.1 1850.6,1577.4 1851.8,1590.1 1853.0,1588.2 1854.2,1566.1 1855.4,1571.9 1856.6,1576.9 1857.8,1549.6 1859.0,1564.5 1860.2,1564.9 1861.4,1593.8 1862.6,1564.7 1863.8,1593.7 1865.0,1573.4 1866.2,1551.4 1867.4,1602.2 1868.6,1560.7 1869.8,1581.4 1871.0,1595.6 1872.2,1566.4 1873.4,1557.4 1874.6,1587.0 1875.8,1574.3 1877.0,1557.4 1878.2,1559.4 1879.4,1568.4 1880.6,1586.0 1881.8,1569.8 1883.0,1582.0 1884.2,1595.1 1885.4,1590.1 1886.6,1592.3 1887.8,1589.6 1889.0,1552.6 1890.2,1589.5 1891.4,1577.9 1892.6,1572.0 1893.8,1559.5 1895.0,1552.9 1896.2,1559.2 1897.4,1573.4 1898.6,1558.3 1899.8,1563.0 1901.0,1565.7 1902.2,1582.4 1903.4,1569.9 1904.6,1571.8 1905.8,1591.0 1907.0,1569.6 1908.2,1581.6 1909.4,1560.0 1910.6,1578.1 1911.8,1575.4 1913.0,1576.1 1914.2,1567.7 1915.4,1560.4 1916.6,1569.9 1917.8,1567.8 1919.0,1587.3 1920.2,1585.7 1921.4,1558.2 1922.6,1582.1 1923.8,1567.7 1925.0,1579.9 1926.2,1567.7 1927.4,1554.8 1928.6,1587.2 1929.8,1579.9 1931.0,1558.0 1932.2,1549.4 1933.4,1567.1 1934.6,1558.6 1935.8,1569.3 1937.0,1582.1 1938.2,1593.2 1939.4,1569.4 1940.6,1592.0 1941.8,1589.3 1943.0,1568.5 1944.2,1552.4 1945.4,1585.3 1946.6,1582.1 1947.8,1604.9 1949.0,1592.8 1950.2,1584.4 1951.4,1596.2 1952.6,1560.6 1953.8,1576.8 1955.0,1570.7 1956.2,1597.0 1957.4,1581.7 1958.6,1534.5 1959.8,1592.2 1961.0,1562.6 1962.2,1584.5 1963.4,1568.2 1964.6,1577.7 1965.8,1582.8 1967.0,1577.0 1968.2,1562.1 1969.4,1592.8 1970.6,1579.8 1971.8,1574.4 1973.0,1583.8 1974.2,1567.7 1975.4,1599.2 1976.6,1577.6 1977.8,1579.5 1979.0,1579.2 1980.2,1562.8 1981.4,1559.4 1982.6,1577.6 1983.8,1579.3 1985.0,1592.3 1986.2,1580.6 1987.4,1560.6 1988.6,1581.6 1989.8,1585.5 1991.0,1587.8 1992.2,1579.1 1993.4,1558.8 1994.6,1589.9 1995.8,1565.2 1997.0,1582.2 1998.2,1554.3 1999.4,1584.7 2000.6,1564.5 2001.8,1588.9 2003.0,1597.7 2004.2,1590.0 2005.4,1559.5 2006.6,1562.4 2007.8,1563.4 2009.0,1583.4 2010.2,1579.2 2011.4,1576.8 2012.6,1578.8 2013.8,1582.3 2015.0,1583.2 2016.2,1596.7 2017.4,1574.0 2018.6,1577.4 2019.8,1550.5 2021.0,1557.4 2022.2,1565.6 2023.4,1559.2 2024.6,1577.5 2025.8,1588.2 2027.0,1569.0 2028.2,1568.3 2029.4,1568.0 2030.6,1576.3 2031.8,1567.5 2033.0,1580.2 2034.2,1578.5 2035.4,1579.1 2036.6,1584.5 2037.8,1575.0 2039.0,1576.4 2040.2,1597.5 2041.4,1573.9 2042.6,1584.9 2043.8,1575.2 2045.0,1568.5 2046.2,1568.5 2047.4,1563.8 2048.6,1574.6 2049.8,1566.6 2051.0,1569.0 2052.2,1590.4 2053.4,1572.7 2054.6,1589.3 2055.8,1577.9 2057.0,1585.7 2058.2,1566.5 2059.4,1576.4 2060.6,1608.8 2061.8,1585.2 2063.0,1587.5 2064.2,1577.5 2065.4,1585.6 2066.6,1559.3 2067.8,1563.4 2069.0,1580.0 2070.2,1585.1 2071.4,1569.1 2072.6,1572.0 2073.8,1569.7 2075.0,1572.0 2076.2,1558.8 2077.4,1555.7 2078.6,1573.3 2079.8,1551.7 2081.0,1561.6 2082.2,1565.7 2083.4,1560.6 2084.6,1577.4 2085.8,1568.5 2087.0,1573.2 2088.2,1561.1 2089.4,1564.6 2090.6,1580.9 2091.8,1579.0 2093.0,1568.2 2094.2,1578.9 2095.4,1576.6 2096.6,1576.3 2097.8,1594.9 2099.0,1568.9 2100.2,1579.6 2101.4,1579.6 2102.6,1571.1 2103.8,1558.9 2105.0,1583.1 2106.2,1577.5 2107.4,1574.7 2108.6,1574.4 2109.8,1574.3 2111.0,1562.4 2112.2,1577.8 2113.4,1550.5 2114.6,1573.6 2115.8,1554.5 2117.0,1569.4 2118.2,1583.3 2119.4,1570.5 2120.6,1567.7 2121.8,1580.6 2123.0,1570.4 2124.2,1568.6 2125.4,1568.7 2126.6,1593.5 2127.8,1582.5 2129.0,1580.1"/><polyline fill="none" stroke="#00ff00" stroke-width="2" stroke-linejoin="miter" stroke-miterlimit="2" shape-rendering="crispEdges" points="233.0,1561.9 234.2,1573.0 235.4,1569.8 236.6,1569.6 237.8,1579.0 239.0,1549.3 240.2,1555.4 241.4,1548.1 242.6,1560.9 243.8,1572.5 245.0,1561.8 246.2,1567.2 247.4,1541.9 248.6,1563.5 249.8,1552.5 251.0,1580.7 252.2,1571.3 253.4,1572.0 254.6,1561.4 255.8,1568.4 257.0,1568.9 258.2,1558.4 259.4,1556.8 260.6,1560.8 261.8,1555.6 263.0,1555.8 264.2,1559.0 265.4,1554.3 266.6,1570.1 267.8,1545.2 269.0,1570.7 270.2,1555.4 271.4,1556.3 272.6,1547.8 273.8,1560.5 275.0,1559.4 276.2,1564.0 277.4,1556.4 278.6,1563.0 279.8,1581.1 281.0,1566.3 282.2,1556.0 283.4,1572.0 284.6,1560.6 285.8,1568.2 287.0,1568.4 288.2,1557.9 289.4,1541.7 290.6,1558.3 291.8,1567.8 293.0,1558.0 294.2,1566.6 295.4,1572.3 296.6,1556.3 297.8,1574.9 299.0,1579.1 300.2,1573.3 301.4,1574.3 302.6,1573.5 303.8,1585.7 305.0,1564.0 306.2,1562.0 307.4,1568.8 308.6,1551.5 309.8,1543.4 311.0,1551.1 312.2,1566.7 313.4,1568.2 314.6,1541.4 315.8,1532.4 317.0,1548.5 318.2,1544.9 319.4,1541.5 320.6,1547.0 321.8,1549.5 323.0,1527.9 324.2,1527.3 325.4,1494.7 326.6,1487.0 327.8,1501.9 329.0,1501.3 330.2,1495.1 331.4,1485.9 332.6,1481.7 333.8,1475.0 335.0,1427.3 336.2,1433.7 337.4,1442.9 338.6,1435.6 339.8,1392.0 341.0,1425.7 342.2,1389.9 343.4,1383.9 344.6,1383.2 345.8,1382.0 347.0,1337.0 348.2,1368.0 349.4,1344.2 350.6,1321.4 351.8,1321.1 353.0,1280.3 354.2,1298.3 355.4,1307.9 356.6,1288.3 357.8,1290.4 359.0,1289.0 360.2,1286.4 361.4,1297.2 362.6,1273.3 363.8,1263.4 365.0,1271.2 366.2,1292.0 367.4,1244.2 368.6,1253.1 369.8,1210.8 371.0,1255.9 372.2,1238.0 373.4,1244.7 374.6,1215.8 375.8,1194.1 377.0,1223.7 378.2,1217.0 379.4,1183.9 380.6,1168.7 381.8,1198.4 383.0,1183.0 384.2,1228.3 385.4,1166.2 386.6,1162.8 387.8,1164.8 389.0,1131.3 390.2,1139.7 391.4,1180.0 392.6,1142.4 393.8,1128.2 395.0,1110.6 396.2,1138.8 397.4,1134.8 398.6,1123.6 399.8,1109.6 401.0,1120.1 402.2,1119.3 403.4,1097.5 404.6,1119.3 405.8,1066.7 407.0,1079.6 408.2,1095.6 409.4,1096.9 410.6,1075.1 411.8,1100.3 413.0,1111.0 414.2,1096.9 415.4,1089.6 416.6,1097.6 417.8,1086.2 419.0,1053.7 420.2,1067.1 421.4,1091.6 422.6,1044.7 423.8,1065.3 425.0,1054.9 426.2,1043.5 427.4,1039.5 428.6,1058.7 429.8,1061.7 431.0,1061.1 432.2,1029.0 433.4,1053.9 434.6,1069.7 435.8,1085.5 437.0,1085.4 438.2,1093.7 439.4,1104.1 440.6,1104.6 441.8,1079.6 443.0,1100.8 444.2,1091.5 445.4,1065.3 446.6,1082.4 447.8,1155.4 449.0,1100.4 450.2,1083.3 451.4,1116.4 452.6,1157.4 453.8,1131.2 455.0,1141.9 456.2,1131.9 457.4,1137.6 458.6,1164.4 459.8,1158.1 461.0,1144.4 462.2,1164.4 463.4,1170.0 464.6,1148.9 465.8,1160.0 467.0,1163.4 468.2,1150.7 469.4,1187.4 470.6,1167.6 471.8,1163.5 473.0,1148.6 474.2,1159.9 475.4,1213.6 476.6,1170.1 477.8,1201.8 479.0,1189.8 480.2,1207.4 481.4,1211.2 482.6,1188.8 483.8,1199.5 485.0,1208.5 486.2,1210.9 487.4,1210.5 488.6,1207.6 489.8,1226.8 491.0,1241.8 492.2,1231.1 493.4,1211.5 494.6,1234.4 495.8,1231.4 497.0,1241.3 498.2,1268.4 499.4,1235.4 500.6,1241.8 501.8,1228.7 503.0,1240.8 504.2,1237.6 505.4,1276.9 506.6,1256.1 507.8,1242.6 509.0,1287.6 510.2,1232.9 511.4,1272.4 512.6,1276.8 513.8,1270.8 515.0,1259.2 516.2,1266.4 517.4,1267.7 518.6,1292.1 519.8,1243.8 521.0,1279.8 522.2,1296.1 523.4,1288.6 524.6,1271.4 525.8,1300.5 527.0,1294.3 528.2,1323.1 529.4,1335.6 530.6,1315.6 531.8,1284.3 533.0,1316.0 534.2,1306.2 535.4,1335.7 536.6,1354.4 537.8,1333.2 539.0,1363.7 540.2,1356.8 541.4,1344.9 542.6,1320.7 543.8,1340.3 545.0,1316.3 546.2,1359.6 547.4,1346.2 548.6,1369.0 549.8,1352.8 551.0,1317.6 552.2,1362.5 553.4,1369.0 554.6,1383.0 555.8,1341.1 557.0,1343.8 558.2,1361.7 559.4,1344.4 560.6,1340.2 561.8,1346.1 563.0,1408.1 564.2,1356.0 565.4,1350.7 566.6,1361.1 567.8,1369.7 569.0,1392.0 570.2,1387.5 571.4,1386.1 572.6,1375.0 573.8,1378.1 575.0,1366.2 576.2,1353.2 577.4,1412.5 578.6,1372.8 579.8,1398.0 581.0,1377.1 582.2,1381.7 583.4,1381.5 584.6,1362.3 585.8,1384.4 587.0,1392.7 588.2,1400.8 589.4,1396.2 590.6,1405.6 591.8,1394.6 593.0,1390.5 594.2,1359.4 595.4,1383.5 596.6,1418.4 597.8,1395.9 599.0,1407.7 600.2,1392.2 601.4,1385.5 602.6,1430.6 603.8,1404.1 605.0,1423.5 606.2,1408.8 607.4,1396.3 608.6,1365.6 609.8,1404.4 611.0,1378.5 612.2,1368.8 613.4,1425.8 614.6,1418.4 615.8,1418.0 617.0,1409.3 618.2,1408.9 619.4,1417.2 620.6,1413.8 621.8,1413.4 623.0,1425.1 624.2,1374.4 625.4,1428.9 626.6,1404.5 627.8,1428.7 629.0,1434.1 630.2,1401.8 631.4,1428.4 632.6,1428.4 633.8,1404.4 635.0,1407.4 636.2,1417.9 637.4,1380.3 638.6,1409.2 639.8,1419.6 641.0,1409.6 642.2,1391.3 643.4,1411.0 644.6,1442.0 645.8,1439.1 647.0,1416.1 648.2,1405.6 649.4,1418.7 650.6,1419.7 651.8,1409.0 653.0,1415.0 654.2,1430.9 655.4,1436.4 656.6,1382.6 657.8,1438.0 659.0,1425.0 660.2,1441.7 661.4,1423.4 662.6,1431.3 663.8,1451.0 665.0,1377.5 666.2,1451.2 667.4,1429.2 668.6,1397.4 669.8,1384.2 671.0,1432.3 672.2,1411.1 673.4,1444.0 674.6,1431.7 675.8,1426.4 677.0,1444.8 678.2,1432.3 679.4,1441.4 680.6,1443.2 681.8,1435.3 683.0,1443.1 684.2,1443.4 685.4,1409.2 686.6,1427.0 687.8,1429.8 689.0,1426.0 690.2,1407.0 691.4,1423.6 692.6,1438.4 693.8,1436.4 695.0,1458.0 696.2,1424.3 697.4,1427.4 698.6,1425.5 699.8,1429.9 701.0,1425.6 702.2,1405.7 703.4,1441.4 704.6,1452.0 705.8,1454.4 707.0,1419.5 708.2,1434.1 709.4,1467.0 710.6,1436.1 711.8,1443.7 713.0,1436.0 714.2,1454.8 715.4,1454.5 716.6,1476.5 717.8,1447.7 719.0,1447.2 720.2,1421.0 721.4,1434.1 722.6,1429.8 723.8,1436.1 725.0,1420.7 726.2,1461.3 727.4,1425.5 728.6,1446.9 729.8,1422.8 731.0,1448.7 732.2,1469.9 733.4,1430.8 734.6,1450.0 735.8,1443.4 737.0,1449.2 738.2,1451.6 739.4,1435.0 740.6,1442.5 741.8,1436.2 743.0,1432.7 744.2,1426.5 745.4,1461.6 746.6,1434.8 747.8,1457.3 749.0,1455.8 750.2,1431.3 751.4,1464.0 752.6,1434.0 753.8,1457.8 755.0,1471.2 756.2,1436.9 757.4,1433.8 758.6,1433.8 759.8,1485.4 761.0,1443.2 762.2,1429.3 763.4,1462.4 764.6,1446.8 765.8,1449.3 767.0,1434.2 768.2,1414.8 769.4,1438.7 770.6,1433.9 771.8,1424.9 773.0,1433.5 774.2,1435.9 775.4,1463.9 776.6,1462.5 777.8,1459.6 779.0,1443.2 780.2,1431.8 781.4,1456.7 782.6,1459.4 783.8,1468.2 785.0,1452.0 786.2,1450.6 787.4,1457.7 788.6,1438.3 789.8,1440.5 791.0,1463.5 792.2,1433.6 793.4,1452.5 794.6,1466.3 795.8,1457.8 797.0,1461.1 798.2,1436.9 799.4,1452.7 800.6,1450.6 801.8,1464.6 803.0,1461.9 804.2,1455.9 805.4,1485.9 806.6,1464.7 807.8,1451.9 809.0,1447.1 810.2,1456.6 811.4,1448.4 812.6,1483.6 813.8,1467.1 815.0,1453.5 816.2,1448.4 817.4,1442.1 818.6,1455.0 819.8,1480.4 821.0,1473.3 822.2,1459.5 823.4,1462.9 824.6,1431.6 825.8,1473.3 827.0,1458.1 828.2,1483.6 829.4,1459.4 830.6,1454.9 831.8,1466.3 833.0,1453.2 834.2,1484.7 835.4,1468.4 836.6,1470.0 837.8,1469.8 839.0,1459.3 840.2,1472.7 841.4,1468.2 842.6,1493.5 843.8,1467.1 845.0,1472.4 846.2,1459.6 847.4,1461.3 848.6,1462.7 849.8,1488.1 851.0,1469.1 852.2,1483.2 853.4,1463.8 854.6,1462.3 855.8,1437.7 857.0,1481.1 858.2,1500.5 859.4,1464.5 860.6,1490.7 861.8,1481.5 863.0,1457.4 864.2,1480.2 865.4,1454.1 866.6,1463.5 867.8,1487.4 869.0,1470.8 870.2,1449.8 871.4,1490.5 872.6,1451.0 873.8,1465.7 875.0,1462.8 876.2,1465.7 877.4,1454.9 878.6,1442.6 879.8,1497.4 881.0,1453.4 882.2,1454.3 883.4,1429.9 884.6,1469.6 885.8,1488.5 887.0,1490.3 888.2,1511.7 889.4,1491.8 890.6,1474.7 891.8,1468.7 893.0,1490.9 894.2,1467.9 895.4,1471.7 896.6,1453.7 897.8,1470.4 899.0,1500.0 900.2,1467.9 901.4,1475.4 902.6,1431.5 903.8,1490.5 905.0,1475.3 906.2,1491.7 907.4,1473.4 908.6,1456.3 909.8,1448.3 911.0,1477.7 912.2,1469.4 913.4,1454.5 914.6,1468.8 915.8,1459.9 917.0,1481.1 918.2,1463.4 919.4,1450.7 920.6,1468.5 921.8,1461.1 923.0,1493.1 924.2,1462.7 925.4,1449.3 926.6,1469.1 927.8,1466.0 929.0,1474.2 930.2,1473.4 931.4,1453.9 932.6,1469.3 933.8,1468.5 935.0,1451.4 936.2,1461.3 937.4,1473.4 938.6,1445.4 939.8,1453.4 941.0,1463.1 942.2,1469.0 943.4,1478.5 944.6,1449.3 945.8,1475.3 947.0,1480.5 948.2,1495.0 949.4,1464.3 950.6,1456.6 951.8,1447.1 953.0,1479.9 954.2,1491.5 955.4,1460.7 956.6,1478.6 957.8,1485.4 959.0,1487.1 960.2,1466.1 961.4,1482.7 962.6,1472.2 963.8,1458.4 965.0,1477.6 966.2,1479.4 967.4,1458.9 968.6,1481.1 969.8,1505.6 971.0,1451.1 972.2,1485.7 973.4,1489.2 974.6,1475.8 975.8,1480.3 977.0,1471.1 978.2,1496.6 979.4,1460.7 980.6,1473.3 981.8,1445.2 983.0,1480.6 984.2,1481.4 985.4,1449.3 986.6,1461.9 987.8,1483.0 989.0,1467.8 990.2,1456.5 991.4,1436.3 992.6,1480.9 993.8,1505.8 995.0,1468.3 996.2,1482.3 997.4,1482.1 998.6,1474.2 999.8,1477.1 1001.0,1477.4 1002.2,1462.1 1003.4,1514.9 1004.6,1518.4 1005.8,1480.8 1007.0,1503.9 1008.2,1463.2 1009.4,1472.5 1010.6,1493.9 1011.8,1458.2 1013.0,1455.9 1014.2,1481.7 1015.4,1445.5 1016.6,1503.5 1017.8,1488.4 1019.0,1480.7 1020.2,1487.5 1021.4,1462.9 1022.6,1462.5 1023.8,1490.4 1025.0,1492.2 1026.2,1479.8 1027.4,1476.9 1028.6,1469.3 1029.8,1499.6 1031.0,1454.7 1032.2,1464.6 1033.4,1469.6 1034.6,1454.2 1035.8,1457.4 1037.0,1462.1 1038.2,1494.2 1039.4,1506.6 1040.6,1483.9 1041.8,1453.2 1043.0,1469.1 1044.2,1476.5 1045.4,1474.5 1046.6,1473.0 1047.8,1486.9 1049.0,1448.5 1050.2,1470.0 1051.4,1482.4 1052.6,1490.3 1053.8,1483.7 1055.0,1479.6 1056.2,1477.3 1057.4,1469.1 1058.6,1481.0 1059.8,1476.5 1061.0,1468.8 1062.2,1498.8 1063.4,1498.6 1064.6,1474.3 1065.8,1489.9 1067.0,1499.0 1068.2,1484.6 1069.4,1482.5 1070.6,1488.3 1071.8,1454.9 1073.0,1458.4 1074.2,1489.0 1075.4,1485.2 1076.6,1502.3 1077.8,1473.3 1079.0,1498.2 1080.2,1497.7 1081.4,1512.0 1082.6,1468.7 1083.8,1475.8 1085.0,1485.7 1086.2,1485.6 1087.4,1465.9 1088.6,1472.7 1089.8,1461.3 1091.0,1517.7 1092.2,1480.7 1093.4,1481.7 1094.6,1472.3 1095.8,1482.3 1097.0,1494.3 1098.2,1476.9 1099.4,1481.6 1100.6,1516.0 1101.8,1496.6 1103.0,1485.9 1104.2,1475.7 1105.4,1482.0 1106.6,1470.8 1107.8,1486.7 1109.0,1472.0 1110.2,1471.1 1111.4,1476.1 1112.6,1465.8 1113.8,1485.5 1115.0,1521.7 1116.2,1472.7 1117.4,1456.6 1118.6,1497.5 1119.8,1480.9 1121.0,1513.5 1122.2,1488.6 1123.4,1497.2 1124.6,1470.6 1125.8,1457.9 1127.0,1479.9 1128.2,1493.2 1129.4,1469.5 1130.6,1458.1 1131.8,1473.7 1133.0,1476.1 1134.2,1477.9 1135.4,1482.6 1136.6,1520.4 1137.8,1483.7 1139.0,1475.6 1140.2,1466.5 1141.4,1495.9 1142.6,1458.9 1143.8,1506.1 1145.0,1483.6 1146.2,1460.4 1147.4,1486.7 1148.6,1482.2 1149.8,1503.1 1151.0,1460.8 1152.2,1487.4 1153.4,1484.1 1154.6,1498.7 1155.8,1466.9 1157.0,1472.5 1158.2,1515.3 1159.4,1493.5 1160.6,1462.0 1161.8,1490.1 1163.0,1472.9 1164.2,1474.6 1165.4,1466.4 1166.6,1500.8 1167.8,1477.3 1169.0,1488.8 1170.2,1487.1 1171.4,1462.4 1172.6,1474.6 1173.8,1498.2 1175.0,1462.0 1176.2,1490.4 1177.4,1485.0 1178.6,1496.8 1179.8,1497.6 1181.0,1499.9 1182.2,1488.1 1183.4,1491.3 1184.6,1476.5 1185.8,1479.2 1187.0,1501.7 1188.2,1478.6 1189.4,1504.0 1190.6,1503.7 1191.8,1476.0 1193.0,1497.2 1194.2,1476.0 1195.4,1494.0 1196.6,1476.8 1197.8,1494.2 1199.0,1491.8 1200.2,1473.2 1201.4,1521.3 1202.6,1504.5 1203.8,1464.9 1205.0,1495.3 1206.2,1483.5 1207.4,1522.0 1208.6,1489.5 1209.8,1496.6 1211.0,1487.9 1212.2,1500.6 1213.4,1482.7 1214.6,1477.2 1215.8,1483.5 1217.0,1484.8 1218.2,1501.2 1219.4,1493.0 1220.6,1484.9 1221.8,1485.6 1223.0,1477.9 1224.2,1494.2 1225.4,1460.8 1226.6,1489.0 1227.8,1511.0 1229.0,1487.1 1230.2,1482.7 1231.4,1493.7 1232.6,1478.7 1233.8,1481.5 1235.0,1504.0 1236.2,1483.7 1237.4,1524.0 1238.6,1502.2 1239.8,1492.3 1241.0,1484.4 1242.2,1490.1 1243.4,1459.0 1244.6,1497.9 1245.8,1508.0 1247.0,1503.2 1248.2,1487.7 1249.4,1504.0 1250.6,1504.4 1251.8,1492.5 1253.0,1500.0 1254.2,1510.8 1255.4,1501.8 1256.6,1488.9 1257.8,1495.1 1259.0,1497.3 1260.2,1470.2 1261.4,1497.1 1262.6,1493.2 1263.8,1461.7 1265.0,1468.8 1266.2,1523.2 1267.4,1497.0 1268.6,1516.3 1269.8,1489.8 1271.0,1519.4 1272.2,1504.5 1273.4,1485.2 1274.6,1500.2 1275.8,1520.2 1277.0,1533.0 1278.2,1504.1 1279.4,1489.3 1280.6,1482.9 1281.8,1507.0 1283.0,1513.4 1284.2,1498.7 1285.4,1495.0 1286.6,1509.4 1287.8,1504.4 1289.0,1503.0 1290.2,1473.3 1291.4,1492.0 1292.6,1526.4 1293.8,1497.0 1295.0,1534.9 1296.2,1503.3 1297.4,1493.0 1298.6,1501.9 1299.8,1506.9 1301.0,1486.5 1302.2,1501.5 1303.4,1491.3 1304.6,1520.4 1305.8,1490.9 1307.0,1499.8 1308.2,1474.8 1309.4,1476.9 1310.6,1496.7 1311.8,1484.0 1313.0,1493.7 1314.2,1501.9 1315.4,1507.0 1316.6,1476.6 1317.8,1495.6 1319.0,1508.8 1320.2,1488.1 1321.4,1478.5 1322.6,1488.0 1323.8,1524.0 1325.0,1499.2 1326.2,1523.0 1327.4,1494.2 1328.6,1517.5 1329.8,1476.7 1331.0,1495.2 1332.2,1500.5 1333.4,1526.4 1334.6,1506.5 1335.8,1516.5 1337.0,1492.7 1338.2,1492.8 1339.4,1519.0 1340.6,1521.4 1341.8,1518.4 1343.0,1518.0 1344.2,1491.4 1345.4,1532.9 1346.6,1502.2 1347.8,1519.2 1349.0,1511.2 1350.2,1472.4 1351.4,1469.5 1352.6,1474.9 1353.8,1498.9 1355.0,1517.0 1356.2,1495.9 1357.4,1512.8 1358.6,1480.7 1359.8,1490.2 1361.0,1485.9 1362.2,1500.4 1363.4,1482.1 1364.6,1498.3 1365.8,1509.1 1367.0,1492.8 1368.2,1486.1 1369.4,1493.0 1370.6,1481.1 1371.8,1484.0 1373.0,1512.5 1374.2,1505.4 1375.4,1477.8 1376.6,1495.8 1377.8,1507.2 1379.0,1512.6 1380.2,1510.2 1381.4,1515.5 1382.6,1499.7 1383.8,1500.1 1385.0,1496.6 1386.2,1517.4 1387.4,1513.7 1388.6,1528.1 1389.8,1517.9 1391.0,1488.0 1392.2,1477.7 1393.4,1479.0 1394.6,1486.7 1395.8,1510.2 1397.0,1478.9 1398.2,1469.2 1399.4,1497.8 1400.6,1513.2 1401.8,1512.7 1403.0,1526.5 1404.2,1500.1 1405.4,1492.0 1406.6,1495.9 1407.8,1479.9 1409.0,1490.2 1410.2,1520.5 1411.4,1533.2 1412.6,1520.3 1413.8,1505.2 1415.0,1496.9 1416.2,1504.4 1417.4,1471.4 1418.6,1509.6 1419.8,1512.8 1421.0,1498.6 1422.2,1501.0 1423.4,1474.4 1424.6,1512.9 1425.8,1513.0 1427.0,1457.8 1428.2,1491.8 1429.4,1506.2 1430.6,1526.7 1431.8,1487.5 1433.0,1500.3 1434.2,1523.7 1435.4,1508.3 1436.6,1497.6 1437.8,1494.1 1439.0,1501.6 1440.2,1488.8 1441.4,1516.9 1442.6,1487.8 1443.8,1510.2 1445.0,1516.0 1446.2,1520.4 1447.4,1503.7 1448.6,1502.4 1449.8,1507.5 1451.0,1503.9 1452.2,1519.7 1453.4,1501.2 1454.6,1532.8 1455.8,1546.4 1457.0,1493.0 1458.2,1509.4 1459.4,1485.1 1460.6,1514.8 1461.8,1509.6 1463.0,1499.8 1464.2,1486.9 1465.4,1503.5 1466.6,1534.3 1467.8,1528.1 1469.0,1509.1 1470.2,1493.6 1471.4,1502.7 1472.6,1490.7 1473.8,1482.1 1475.0,1488.3 1476.2,1512.5 1477.4,1507.8 1478.6,1505.8 1479.8,1485.9 1481.0,1481.2 1482.2,1518.8 1483.4,1497.5 1484.6,1521.5 1485.8,1491.5 1487.0,1518.3 1488.2,1506.9 1489.4,1496.4 1490.6,1496.5 1491.8,1533.0 1493.0,1517.7 1494.2,1499.2 1495.4,1505.9 1496.6,1479.2 1497.8,1530.1 1499.0,1525.1 1500.2,1497.1 1501.4,1510.6 1502.6,1460.5 1503.8,1518.6 1505.0,1510.8 1506.2,1507.6 1507.4,1516.3 1508.6,1508.1 1509.8,1488.2 1511.0,1492.4 1512.2,1500.3 1513.4,1517.1 1514.6,1503.4 1515.8,1492.5 1517.0,1508.5 1518.2,1483.7 1519.4,1535.1 1520.6,1507.5 1521.8,1487.4 1523.0,1505.3 1524.2,1519.4 1525.4,1511.1 1526.6,1534.3 1527.8,1480.6 1529.0,1527.4 1530.2,1502.2 1531.4,1516.3 1532.6,1529.3 1533.8,1483.9 1535.0,1480.6 1536.2,1496.5 1537.4,1476.7 1538.6,1471.2 1539.8,1503.8 1541.0,1520.6 1542.2,1495.2 1543.4,1510.5 1544.6,1559.9 1545.8,1508.0 1547.0,1498.1 1548.2,1500.4 1549.4,1509.7 1550.6,1498.6 1551.8,1513.8 1553.0,1506.5 1554.2,1517.5 1555.4,1505.6 1556.6,1502.1 1557.8,1488.9 1559.0,1481.9 1560.2,1499.1 1561.4,1497.5 1562.6,1508.0 1563.8,1502.5 1565.0,1497.6 1566.2,1538.9 1567.4,1508.8 1568.6,1522.7 1569.8,1488.0 1571.0,1519.6 1572.2,1522.2 1573.4,1511.0 1574.6,1490.3 1575.8,1523.7 1577.0,1493.0 1578.2,1480.0 1579.4,1479.1 1580.6,1505.3 1581.8,1496.7 1583.0,1516.9 1584.2,1514.9 1585.4,1525.8 1586.6,1509.8 1587.8,1506.3 1589.0,1504.8 1590.2,1492.4 1591.4,1491.8 1592.6,1493.4 1593.8,1508.4 1595.0,1491.6 1596.2,1503.5 1597.4,1521.7 1598.6,1467.8 1599.8,1491.3 1601.0,1489.5 1602.2,1504.7 1603.4,1481.7 1604.6,1494.5 1605.8,1540.5 1607.0,1483.7 1608.2,1503.6 1609.4,1508.2 1610.6,1500.4 1611.8,1486.3 1613.0,1520.5 1614.2,1475.3 1615.4,1490.0 1616.6,1501.5 1617.8,1495.2 1619.0,1523.2 1620.2,1500.0 1621.4,1534.5 1622.6,1504.7 1623.8,1528.7 1625.0,1511.4 1626.2,1500.9 1627.4,1500.3 1628.6,1520.7 1629.8,1496.3 1631.0,1504.2 1632.2,1492.5 1633.4,1473.1 1634.6,1513.3 1635.8,1514.8 1637.0,1486.2 1638.2,1512.3 1639.4,1501.2 1640.6,1475.5 1641.8,1490.5 1643.0,1515.5 1644.2,1521.3 1645.4,1511.4 1646.6,1548.8 1647.8,1511.0 1649.0,1494.0 1650.2,1482.8 1651.4,1529.0 1652.6,1498.6 1653.8,1500.2 1655.0,1493.3 1656.2,1493.5 1657.4,1500.6 1658.6,1513.5 1659.8,1515.0 1661.0,1512.0 1662.2,1521.4 1663.4,1499.3 1664.6,1491.1 1665.8,1506.2 1667.0,1475.2 1668.2,1520.5 1669.4,1515.3 1670.6,1515.7 1671.8,1490.7 1673.0,1499.9 1674.2,1508.0 1675.4,1492.0 1676.6,1490.8 1677.8,1504.5 1679.0,1510.2 1680.2,1497.6 1681.4,1523.9 1682.6,1542.4 1683.8,1517.0 1685.0,1505.3 1686.2,1503.2 1687.4,1533.2 1688.6,1513.0 1689.8,1517.8 1691.0,1511.8 1692.2,1499.6 1693.4,1531.9 1694.6,1504.7 1695.8,1510.8 1697.0,1475.2 1698.2,1542.1 1699.4,1520.2 1700.6,1507.0 1701.8,1496.3 1703.0,1499.0 1704.2,1482.1 1705.4,1515.8 1706.6,1495.1 1707.8,1515.2 1709.0,1515.7 1710.2,1538.4 1711.4,1512.1 1712.6,1513.4 1713.8,1516.6 1715.0,1499.3 1716.2,1505.2 1717.4,1514.1 1718.6,1527.1 1719.8,1520.7 1721.0,1505.1 1722.2,1528.3 1723.4,1503.6 1724.6,1485.9 1725.8,1533.9 1727.0,1510.0 1728.2,1502.7 1729.4,1491.2 1730.6,1503.2 1731.8,1536.2 1733.0,1509.3 1734.2,1544.7 1735.4,1510.8 1736.6,1528.0 1737.8,1511.0 1739.0,1503.5 1740.2,1504.0 1741.4,1506.5 1742.6,1492.0 1743.8,1491.5 1745.0,1516.3 1746.2,1530.1 1747.4,1513.3 1748.6,1511.7 1749.8,1496.8 1751.0,1528.5 1752.2,1527.3 1753.4,1493.1 1754.6,1512.2 1755.8,1506.0 1757.0,1488.0 1758.2,1536.1 1759.4,1529.6 1760.6,1516.2 1761.8,1533.2 1763.0,1503.5 1764.2,1515.7 1765.4,1532.3 1766.6,1506.9 1767.8,1516.2 1769.0,1496.5 1770.2,1521.6 1771.4,1529.4 1772.6,1496.3 1773.8,1499.2 1775.0,1510.3 1776.2,1533.1 1777.4,1503.5 1778.6,1498.5 1779.8,1509.7 1781.0,1528.9 1782.2,1487.6 1783.4,1508.6 1784.6,1531.5 1785.8,1510.8 1787.0,1506.9 1788.2,1524.4 1789.4,1492.5 1790.6,1543.0 1791.8,1518.6 1793.0,1505.3 1794.2,1512.4 1795.4,1510.1 1796.6,1506.6 1797.8,1492.1 1799.0,1507.2 1800.2,1484.4 1801.4,1532.2 1802.6,1493.5 1803.8,1499.5 1805.0,1498.6 1806.2,1522.0 1807.4,1507.8 1808.6,1533.0 1809.8,1503.8 1811.0,1513.2 1812.2,1509.9 1813.4,1505.7 1814.6,1528.2 1815.8,1529.9 1817.0,1531.2 1818.2,1489.7 1819.4,1516.4 1820.6,1493.7 1821.8,1493.3 1823.0,1483.3 1824.2,1496.5 1825.4,1520.3 1826.6,1532.6 1827.8,1537.9 1829.0,1497.2 1830.2,1501.6 1831.4,1514.9 1832.6,1513.5 1833.8,1514.6 1835.0,1484.3 1836.2,1508.4 1837.4,1520.3 1838.6,1515.4 1839.8,1509.6 1841.0,1500.2 1842.2,1510.0 1843.4,1536.1 1844.6,1519.2 1845.8,1527.7 1847.0,1537.1 1848.2,1494.8 1849.4,1521.9 1850.6,1518.7 1851.8,1532.0 1853.0,1507.8 1854.2,1508.2 1855.4,1501.4 1856.6,1514.3 1857.8,1507.2 1859.0,1509.1 1860.2,1516.6 1861.4,1505.6 1862.6,1497.2 1863.8,1505.2 1865.0,1503.1 1866.2,1518.1 1867.4,1530.7 1868.6,1506.3 1869.8,1473.9 1871.0,1520.5 1872.2,1510.6 1873.4,1497.1 1874.6,1507.7 1875.8,1540.2 1877.0,1488.6 1878.2,1493.7 1879.4,1510.7 1880.6,1463.7 1881.8,1504.6 1883.0,1526.7 1884.2,1520.0 1885.4,1517.5 1886.6,1506.5 1887.8,1509.3 1889.0,1554.0 1890.2,1515.4 1891.4,1532.6 1892.6,1492.5 1893.8,1515.7 1895.0,1517.5 1896.2,1514.3 1897.4,1478.6 1898.6,1505.5 1899.8,1534.5 1901.0,1520.6 1902.2,1500.1 1903.4,1525.6 1904.6,1483.3 1905.8,1521.1 1907.0,1517.5 1908.2,1502.7 1909.4,1496.5 1910.6,1486.6 1911.8,1508.8 1913.0,1538.9 1914.2,1525.6 1915.4,1518.6 1916.6,1526.6 1917.8,1503.3 1919.0,1520.5 1920.2,1467.5 1921.4,1504.8 1922.6,1505.0 1923.8,1511.3 1925.0,1509.7 1926.2,1521.4 1927.4,1502.8 1928.6,1526.6 1929.8,1508.6 1931.0,1525.8 1932.2,1514.2 1933.4,1525.5 1934.6,1519.5 1935.8,1503.1 1937.0,1515.3 1938.2,1492.4 1939.4,1513.2 1940.6,1518.3 1941.8,1508.2 1943.0,1509.9 1944.2,1527.6 1945.4,1531.1 1946.6,1534.4 1947.8,1503.8 1949.0,1506.0 1950.2,1524.8 1951.4,1526.3 1952.6,1484.7 1953.8,1543.1 1955.0,1530.5 1956.2,1493.7 1957.4,1530.6 1958.6,1506.5 1959.8,1511.1 1961.0,1497.9 1962.2,1500.5 1963.4,1507.2 1964.6,1514.6 1965.8,1496.2 1967.0,1512.2 1968.2,1502.4 1969.4,1505.2 1970.6,1499.8 1971.8,1503.8 1973.0,1538.0 1974.2,1488.6 1975.4,1493.3 1976.6,1512.4 1977.8,1505.8 1979.0,1497.4 1980.2,1519.8 1981.4,1495.5 1982.6,1513.4 1983.8,1528.0 1985.0,1522.1 1986.2,1508.9 1987.4,1513.4 1988.6,1516.0 1989.8,1522.5 1991.0,1498.6 1992.2,1532.7 1993.4,1524.8 1994.6,1541.8 1995.8,1526.1 1997.0,1528.9 1998.2,1467.8 1999.4,1506.3 2000.6,1541.7 2001.8,1519.0 2003.0,1506.0 2004.2,1523.7 2005.4,1514.3 2006.6,1519.1 2007.8,1501.9 2009.0,1521.0 2010.2,1536.3 2011.4,1516.6 2012.6,1519.7 2013.8,1502.1 2015.0,1520.3 2016.2,1506.5 2017.4,1491.9 2018.6,1506.3 2019.8,1509.1 2021.0,1521.3 2022.2,1527.3 2023.4,1509.5 2024.6,1507.0 2025.8,1522.4 2027.0,1498.6 2028.2,1507.3 2029.4,1508.8 2030.6,1509.8 2031.8,1503.2 2033.0,1537.4 2034.2,1527.1 2035.4,1509.7 2036.6,1490.2 2037.8,1504.5 2039.0,1521.4 2040.2,1482.2 2041.4,1550.5 2042.6,1511.0 2043.8,1511.4 2045.0,1521.9 2046.2,1490.1 2047.4,1513.1 2048.6,1512.0 2049.8,1523.1 2051.0,1496.5 2052.2,1521.7 2053.4,1530.4 2054.6,1516.6 2055.8,1503.6 2057.0,1498.9 2058.2,1484.6 2059.4,1503.1 2060.6,1519.7 2061.8,1535.0 2063.0,1527.9 2064.2,1530.4 2065.4,1504.6 2066.6,1505.2 2067.8,1488.1 2069.0,1501.4 2070.2,1494.3 2071.4,1507.9 2072.6,1522.1 2073.8,1509.9 2075.0,1506.6 2076.2,1522.3 2077.4,1535.0 2078.6,1528.3 2079.8,1485.4 2081.0,1538.5 2082.2,1504.8 2083.4,1489.3 2084.6,1506.0 2085.8,1527.0 2087.0,1470.4 2088.2,1531.7 2089.4,1514.8 2090.6,1520.1 2091.8,1490.3 2093.0,1502.9 2094.2,1493.9 2095.4,1529.5 2096.6,1499.3 2097.8,1517.1 2099.0,1501.1 2100.2,1485.6 2101.4,1524.8 2102.6,1529.6 2103.8,1534.5 2105.0,1502.6 2106.2,1511.9 2107.4,1521.8 2108.6,1516.2 2109.8,1514.3 2111.0,1547.1 2112.2,1504.5 2113.4,1524.7 2114.6,1502.7 2115.8,1532.9 2117.0,1506.9 2118.2,1495.7 2119.4,1522.5 2120.6,1511.7 2121.8,1505.0 2123.0,1507.4 2124.2,1501.3 2125.4,1518.8 2126.6,1515.9 2127.8,1536.5 2129.0,1500.2"/><polyline fill="none" stroke="#ff8000" stroke-width="2" stroke-linejoin="miter" stroke-miterlimit="2" shape-rendering="crispEdges" points="233.0,1571.3 234.2,1506.1 235.4,1559.7 236.6,1547.9 237.8,1564.5 239.0,1552.1 240.2,1571.3 241.4,1547.4 242.6,1540.1 243.8,1554.7 245.0,1552.7 246.2,1542.3 247.4,1543.7 248.6,1556.6 249.8,1556.4 251.0,1540.4 252.2,1542.1 253.4,1523.0 254.6,1569.3 255.8,1544.0 257.0,1564.8 258.2,1552.6 259.4,1572.9 260.6,1567.4 261.8,1551.2 263.0,1566.7 264.2,1534.4 265.4,1563.7 266.6,1527.3 267.8,1551.6 269.0,1561.2 270.2,1550.0 271.4,1542.1 272.6,1536.3 273.8,1542.4 275.0,1561.0 276.2,1558.8 277.4,1543.5 278.6,1530.4 279.8,1556.0 281.0,1527.7 282.2,1539.9 283.4,1537.2 284.6,1556.9 285.8,1550.1 287.0,1553.1 288.2,1550.6 289.4,1538.0 290.6,1554.1 291.8,1565.8 293.0,1546.5 294.2,1555.4 295.4,1545.3 296.6,1560.7 297.8,1555.9 299.0,1558.6 300.2,1551.6 301.4,1568.8 302.6,1540.0 303.8,1535.9 305.0,1528.1 306.2,1540.0 307.4,1518.3 308.6,1513.9 309.8,1531.3 311.0,1535.4 312.2,1523.2 313.4,1466.1 314.6,1491.3 315.8,1485.6 317.0,1479.5 318.2,1488.8 319.4,1524.8 320.6,1477.9 321.8,1463.4 323.0,1485.0 324.2,1466.5 325.4,1462.1 326.6,1442.6 327.8,1452.2 329.0,1457.0 330.2,1407.3 331.4,1409.4 332.6,1458.5 333.8,1446.8 335.0,1411.7 336.2,1392.9 337.4,1400.8 338.6,1372.2 339.8,1377.0 341.0,1403.1 342.2,1358.9 343.4,1366.0 344.6,1325.5 345.8,1325.5 347.0,1335.5 348.2,1271.8 349.4,1283.8 350.6,1279.5 351.8,1280.3 353.0,1298.4 354.2,1272.3 355.4,1220.4 356.6,1241.8 357.8,1224.9 359.0,1220.4 360.2,1277.7 361.4,1209.5 362.6,1232.6 363.8,1208.8 365.0,1237.7 366.2,1223.2 367.4,1214.5 368.6,1206.3 369.8,1227.8 371.0,1180.4 372.2,1180.7 373.4,1167.9 374.6,1214.2 375.8,1174.6 377.0,1153.6 378.2,1161.4 379.4,1218.0 380.6,1157.4 381.8,1172.5 383.0,1159.1 384.2,1143.6 385.4,1123.8 386.6,1126.4 387.8,1121.1 389.0,1076.5 390.2,1174.7 391.4,1134.1 392.6,1111.8 393.8,1100.1 395.0,1082.6 396.2,1115.3 397.4,1085.9 398.6,1097.1 399.8,1055.2 401.0,1092.0 402.2,1125.7 403.4,1074.6 404.6,1096.8 405.8,1078.8 407.0,1100.7 408.2,1098.7 409.4,1075.7 410.6,1061.2 411.8,1078.9 413.0,1073.0 414.2,1058.8 415.4,1083.3 416.6,1084.0 417.8,1056.7 419.0,1075.1 420.2,1142.8 421.4,1098.4 422.6,1083.9 423.8,1137.4 425.0,1073.2 426.2,1029.0 427.4,1040.8 428.6,1048.1 429.8,1085.2 431.0,1098.9 432.2,1028.1 433.4,1098.4 434.6,1047.6 435.8,1080.3 437.0,1085.5 438.2,1085.6 439.4,1077.5 440.6,1082.3 441.8,1055.4 443.0,1087.9 444.2,1105.0 445.4,1105.8 446.6,1144.4 447.8,1112.7 449.0,1106.4 450.2,1128.1 451.4,1098.8 452.6,1067.2 453.8,1048.2 455.0,1125.7 456.2,1111.9 457.4,1119.5 458.6,1095.5 459.8,1111.7 461.0,1146.3 462.2,1114.4 463.4,1084.1 464.6,1099.8 465.8,1139.9 467.0,1087.6 468.2,1056.5 469.4,1063.7 470.6,1085.2 471.8,1132.2 473.0,1117.9 474.2,1102.0 475.4,1095.6 476.6,1125.7 477.8,1129.7 479.0,1126.1 480.2,1137.8 481.4,1131.8 482.6,1191.4 483.8,1107.7 485.0,1165.5 486.2,1144.0 487.4,1181.4 488.6,1162.3 489.8,1175.9 491.0,1180.3 492.2,1174.3 493.4,1191.8 494.6,1142.3 495.8,1192.8 497.0,1168.9 498.2,1182.5 499.4,1208.6 500.6,1201.3 501.8,1221.4 503.0,1133.9 504.2,1163.2 505.4,1205.6 506.6,1163.4 507.8,1185.3 509.0,1227.1 510.2,1211.4 511.4,1174.2 512.6,1204.9 513.8,1209.8 515.0,1198.6 516.2,1196.0 517.4,1202.0 518.6,1168.4 519.8,1203.5 521.0,1181.4 522.2,1210.9 523.4,1212.6 524.6,1186.2 525.8,1219.5 527.0,1216.0 528.2,1209.4 529.4,1227.3 530.6,1207.4 531.8,1209.8 533.0,1219.1 534.2,1218.1 535.4,1245.0 536.6,1173.3 537.8,1218.2 539.0,1184.5 540.2,1217.3 541.4,1234.9 542.6,1231.7 543.8,1254.1 545.0,1243.0 546.2,1181.7 547.4,1217.7 548.6,1275.6 549.8,1278.0 551.0,1250.1 552.2,1218.2 553.4,1297.4 554.6,1210.7 555.8,1262.1 557.0,1256.3 558.2,1264.0 559.4,1236.4 560.6,1253.9 561.8,1286.0 563.0,1255.4 564.2,1238.6 565.4,1268.4 566.6,1272.3 567.8,1269.3 569.0,1257.5 570.2,1285.8 571.4,1273.0 572.6,1252.4 573.8,1282.0 575.0,1277.9 576.2,1282.4 577.4,1245.4 578.6,1265.5 579.8,1291.7 581.0,1302.5 582.2,1291.5 583.4,1288.7 584.6,1301.4 585.8,1307.7 587.0,1324.8 588.2,1299.3 589.4,1279.1 590.6,1301.6 591.8,1252.5 593.0,1294.2 594.2,1284.5 595.4,1293.7 596.6,1304.8 597.8,1296.4 599.0,1266.2 600.2,1289.1 601.4,1280.5 602.6,1297.0 603.8,1305.3 605.0,1278.8 606.2,1314.0 607.4,1326.1 608.6,1294.5 609.8,1315.4 611.0,1270.8 612.2,1290.5 613.4,1321.6 614.6,1266.2 615.8,1292.1 617.0,1284.4 618.2,1326.4 619.4,1326.6 620.6,1290.7 621.8,1306.3 623.0,1250.7 624.2,1321.6 625.4,1311.6 626.6,1331.8 627.8,1256.3 629.0,1312.3 630.2,1298.3 631.4,1252.5 632.6,1291.9 633.8,1304.6 635.0,1322.9 636.2,1311.1 637.4,1297.6 638.6,1318.1 639.8,1307.8 641.0,1297.7 642.2,1291.1 643.4,1315.9 644.6,1317.0 645.8,1352.2 647.0,1306.5 648.2,1349.3 649.4,1324.8 650.6,1342.5 651.8,1301.2 653.0,1302.8 654.2,1315.2 655.4,1340.6 656.6,1327.0 657.8,1339.6 659.0,1331.1 660.2,1345.7 661.4,1329.1 662.6,1314.7 663.8,1336.1 665.0,1327.7 666.2,1361.6 667.4,1323.2 668.6,1328.8 669.8,1320.7 671.0,1350.6 672.2,1345.1 673.4,1340.8 674.6,1302.6 675.8,1297.4 677.0,1333.7 678.2,1343.3 679.4,1358.8 680.6,1292.6 681.8,1325.6 683.0,1294.8 684.2,1309.5 685.4,1324.5 686.6,1348.5 687.8,1318.3 689.0,1314.5 690.2,1322.5 691.4,1354.5 692.6,1377.9 693.8,1297.8 695.0,1323.5 696.2,1320.3 697.4,1352.7 698.6,1337.8 699.8,1360.2 701.0,1308.5 702.2,1329.4 703.4,1320.6 704.6,1308.3 705.8,1328.0 707.0,1307.9 708.2,1376.6 709.4,1341.7 710.6,1313.4 711.8,1322.4 713.0,1370.4 714.2,1326.4 715.4,1350.8 716.6,1349.3 717.8,1360.2 719.0,1351.7 720.2,1335.3 721.4,1328.3 722.6,1305.1 723.8,1340.7 725.0,1344.8 726.2,1334.7 727.4,1339.1 728.6,1317.5 729.8,1385.8 731.0,1331.9 732.2,1321.1 733.4,1330.0 734.6,1338.6 735.8,1357.0 737.0,1293.0 738.2,1352.4 739.4,1329.6 740.6,1338.4 741.8,1362.5 743.0,1357.5 744.2,1328.3 745.4,1340.1 746.6,1379.8 747.8,1369.7 749.0,1360.0 750.2,1342.9 751.4,1362.3 752.6,1351.1 753.8,1332.3 755.0,1323.4 756.2,1354.3 757.4,1351.7 758.6,1368.6 759.8,1334.7 761.0,1372.8 762.2,1337.1 763.4,1369.8 764.6,1355.5 765.8,1332.8 767.0,1325.4 768.2,1342.1 769.4,1339.2 770.6,1363.4 771.8,1330.5 773.0,1314.7 774.2,1344.1 775.4,1383.3 776.6,1377.5 777.8,1331.9 779.0,1338.9 780.2,1350.9 781.4,1331.1 782.6,1339.5 783.8,1338.9 785.0,1323.3 786.2,1332.0 787.4,1334.7 788.6,1349.2 789.8,1320.6 791.0,1346.6 792.2,1324.7 793.4,1328.1 794.6,1321.8 795.8,1425.4 797.0,1369.8 798.2,1371.6 799.4,1360.9 800.6,1339.7 801.8,1345.8 803.0,1350.3 804.2,1353.5 805.4,1356.6 806.6,1375.6 807.8,1285.3 809.0,1333.9 810.2,1359.0 811.4,1338.3 812.6,1342.5 813.8,1375.9 815.0,1349.9 816.2,1382.1 817.4,1345.5 818.6,1351.3 819.8,1325.2 821.0,1306.8 822.2,1338.6 823.4,1348.5 824.6,1340.5 825.8,1320.4 827.0,1361.0 828.2,1349.4 829.4,1348.3 830.6,1332.6 831.8,1381.7 833.0,1378.4 834.2,1355.0 835.4,1346.7 836.6,1354.3 837.8,1383.5 839.0,1406.1 840.2,1350.0 841.4,1341.3 842.6,1313.6 843.8,1406.6 845.0,1328.2 846.2,1368.2 847.4,1360.9 848.6,1377.8 849.8,1333.9 851.0,1318.8 852.2,1354.7 853.4,1360.2 854.6,1375.3 855.8,1318.5 857.0,1343.5 858.2,1347.6 859.4,1325.9 860.6,1350.1 861.8,1369.8 863.0,1353.2 864.2,1325.2 865.4,1361.4 866.6,1371.9 867.8,1365.7 869.0,1371.0 870.2,1322.1 871.4,1364.9 872.6,1368.0 873.8,1348.6 875.0,1355.3 876.2,1341.1 877.4,1381.7 878.6,1351.1 879.8,1338.4 881.0,1361.3 882.2,1360.1 883.4,1371.5 884.6,1341.6 885.8,1345.0 887.0,1366.5 888.2,1404.0 889.4,1368.7 890.6,1332.2 891.8,1363.2 893.0,1344.4 894.2,1323.1 895.4,1346.8 896.6,1349.2 897.8,1369.4 899.0,1387.8 900.2,1384.4 901.4,1378.0 902.6,1353.3 903.8,1365.4 905.0,1361.7 906.2,1391.0 907.4,1349.8 908.6,1352.1 909.8,1393.5 911.0,1375.3 912.2,1354.9 913.4,1367.5 914.6,1367.4 915.8,1368.4 917.0,1381.0 918.2,1372.5 919.4,1361.7 920.6,1355.4 921.8,1331.2 923.0,1357.3 924.2,1389.3 925.4,1371.1 926.6,1353.7 927.8,1362.2 929.0,1350.1 930.2,1373.4 931.4,1408.1 932.6,1404.3 933.8,1392.3 935.0,1384.2 936.2,1364.2 937.4,1344.1 938.6,1369.4 939.8,1360.2 941.0,1385.9 942.2,1372.4 943.4,1357.7 944.6,1378.3 945.8,1427.8 947.0,1351.0 948.2,1392.0 949.4,1381.2 950.6,1367.3 951.8,1354.1 953.0,1369.7 954.2,1373.7 955.4,1384.7 956.6,1383.4 957.8,1375.7 959.0,1355.6 960.2,1375.4 961.4,1359.9 962.6,1348.4 963.8,1387.3 965.0,1356.0 966.2,1345.3 967.4,1371.0 968.6,1330.6 969.8,1367.9 971.0,1378.2 972.2,1360.8 973.4,1374.0 974.6,1412.4 975.8,1397.7 977.0,1387.9 978.2,1381.2 979.4,1358.8 980.6,1366.4 981.8,1363.4 983.0,1369.7 984.2,1371.6 985.4,1353.0 986.6,1401.6 987.8,1348.5 989.0,1376.7 990.2,1390.1 991.4,1368.9 992.6,1356.1 993.8,1370.2 995.0,1408.5 996.2,1382.2 997.4,1363.9 998.6,1381.5 999.8,1365.9 1001.0,1332.3 1002.2,1374.8 1003.4,1390.8 1004.6,1393.1 1005.8,1368.8 1007.0,1341.8 1008.2,1394.2 1009.4,1367.1 1010.6,1385.0 1011.8,1393.0 1013.0,1377.2 1014.2,1369.2 1015.4,1357.9 1016.6,1361.8 1017.8,1371.2 1019.0,1361.3 1020.2,1377.9 1021.4,1331.5 1022.6,1350.4 1023.8,1370.1 1025.0,1356.8 1026.2,1360.0 1027.4,1348.0 1028.6,1384.3 1029.8,1403.6 1031.0,1350.8 1032.2,1394.0 1033.4,1341.9 1034.6,1373.8 1035.8,1331.0 1037.0,1380.8 1038.2,1371.6 1039.4,1374.0 1040.6,1395.6 1041.8,1383.1 1043.0,1370.8 1044.2,1354.9 1045.4,1372.4 1046.6,1357.5 1047.8,1363.0 1049.0,1401.1 1050.2,1389.1 1051.4,1377.3 1052.6,1384.2 1053.8,1342.8 1055.0,1373.8 1056.2,1337.9 1057.4,1358.4 1058.6,1379.2 1059.8,1379.3 1061.0,1385.8 1062.2,1374.9 1063.4,1372.8 1064.6,1371.8 1065.8,1400.0 1067.0,1397.9 1068.2,1342.8 1069.4,1374.5 1070.6,1397.7 1071.8,1366.9 1073.0,1376.5 1074.2,1360.1 1075.4,1348.2 1076.6,1374.9 1077.8,1364.1 1079.0,1369.1 1080.2,1343.4 1081.4,1349.2 1082.6,1369.7 1083.8,1363.5 1085.0,1383.4 1086.2,1351.4 1087.4,1386.6 1088.6,1383.8 1089.8,1374.4 1091.0,1385.5 1092.2,1371.0 1093.4,1368.8 1094.6,1372.2 1095.8,1347.5 1097.0,1372.0 1098.2,1388.8 1099.4,1340.9 1100.6,1386.7 1101.8,1360.5 1103.0,1366.1 1104.2,1375.1 1105.4,1378.4 1106.6,1400.8 1107.8,1370.8 1109.0,1408.0 1110.2,1374.8 1111.4,1383.8 1112.6,1387.8 1113.8,1361.2 1115.0,1352.4 1116.2,1377.1 1117.4,1389.1 1118.6,1392.6 1119.8,1368.5 1121.0,1411.0 1122.2,1373.8 1123.4,1363.1 1124.6,1400.1 1125.8,1401.7 1127.0,1358.8 1128.2,1394.6 1129.4,1353.3 1130.6,1379.7 1131.8,1424.4 1133.0,1405.3 1134.2,1394.0 1135.4,1393.2 1136.6,1364.2 1137.8,1387.5 1139.0,1390.1 1140.2,1360.8 1141.4,1385.7 1142.6,1392.8 1143.8,1386.5 1145.0,1391.0 1146.2,1378.1 1147.4,1360.5 1148.6,1383.7 1149.8,1345.0 1151.0,1369.2 1152.2,1405.4 1153.4,1419.4 1154.6,1392.2 1155.8,1336.3 1157.0,1411.1 1158.2,1395.5 1159.4,1381.1 1160.6,1400.0 1161.8,1396.1 1163.0,1361.7 1164.2,1359.7 1165.4,1406.4 1166.6,1340.3 1167.8,1398.0 1169.0,1392.6 1170.2,1406.0 1171.4,1421.3 1172.6,1413.5 1173.8,1418.0 1175.0,1403.6 1176.2,1397.5 1177.4,1409.0 1178.6,1387.7 1179.8,1369.9 1181.0,1386.7 1182.2,1356.6 1183.4,1377.6 1184.6,1429.7 1185.8,1399.1 1187.0,1385.5 1188.2,1377.2 1189.4,1354.0 1190.6,1378.7 1191.8,1374.1 1193.0,1389.6 1194.2,1391.3 1195.4,1388.5 1196.6,1352.0 1197.8,1419.0 1199.0,1399.0 1200.2,1390.5 1201.4,1384.0 1202.6,1399.3 1203.8,1415.5 1205.0,1402.9 1206.2,1367.9 1207.4,1366.2 1208.6,1344.2 1209.8,1393.7 1211.0,1405.5 1212.2,1415.6 1213.4,1394.1 1214.6,1407.8 1215.8,1373.5 1217.0,1402.1 1218.2,1389.4 1219.4,1378.7 1220.6,1358.7 1221.8,1415.1 1223.0,1347.5 1224.2,1404.9 1225.4,1376.7 1226.6,1404.8 1227.8,1381.9 1229.0,1408.0 1230.2,1388.9 1231.4,1372.6 1232.6,1383.2 1233.8,1361.6 1235.0,1399.2 1236.2,1414.6 1237.4,1402.4 1238.6,1396.4 1239.8,1420.0 1241.0,1371.3 1242.2,1405.6 1243.4,1394.8 1244.6,1385.4 1245.8,1405.7 1247.0,1372.2 1248.2,1392.3 1249.4,1401.8 1250.6,1372.0 1251.8,1390.6 1253.0,1405.8 1254.2,1414.4 1255.4,1376.8 1256.6,1413.5 1257.8,1389.9 1259.0,1397.7 1260.2,1385.0 1261.4,1411.5 1262.6,1382.1 1263.8,1401.8 1265.0,1403.8 1266.2,1411.4 1267.4,1375.8 1268.6,1411.9 1269.8,1397.3 1271.0,1425.5 1272.2,1390.0 1273.4,1385.6 1274.6,1395.8 1275.8,1390.8 1277.0,1393.8 1278.2,1372.0 1279.4,1355.9 1280.6,1368.2 1281.8,1385.7 1283.0,1406.0 1284.2,1391.4 1285.4,1378.6 1286.6,1394.7 1287.8,1399.1 1289.0,1452.8 1290.2,1423.4 1291.4,1401.9 1292.6,1369.3 1293.8,1394.8 1295.0,1392.3 1296.2,1409.5 1297.4,1440.7 1298.6,1397.4 1299.8,1359.6 1301.0,1396.5 1302.2,1365.6 1303.4,1415.7 1304.6,1421.1 1305.8,1405.9 1307.0,1369.9 1308.2,1395.9 1309.4,1423.6 1310.6,1379.7 1311.8,1388.0 1313.0,1404.9 1314.2,1409.8 1315.4,1401.6 1316.6,1406.9 1317.8,1404.3 1319.0,1388.8 1320.2,1398.8 1321.4,1406.1 1322.6,1378.9 1323.8,1404.6 1325.0,1402.7 1326.2,1410.0 1327.4,1407.9 1328.6,1380.3 1329.8,1376.2 1331.0,1406.3 1332.2,1398.5 1333.4,1403.6 1334.6,1390.5 1335.8,1376.5 1337.0,1407.2 1338.2,1399.4 1339.4,1414.3 1340.6,1423.9 1341.8,1424.1 1343.0,1422.1 1344.2,1383.6 1345.4,1360.9 1346.6,1390.7 1347.8,1379.0 1349.0,1376.9 1350.2,1416.1 1351.4,1371.3 1352.6,1421.5 1353.8,1425.2 1355.0,1456.3 1356.2,1424.3 1357.4,1445.4 1358.6,1391.3 1359.8,1390.6 1361.0,1423.6 1362.2,1378.3 1363.4,1427.0 1364.6,1399.1 1365.8,1365.8 1367.0,1441.5 1368.2,1382.8 1369.4,1454.5 1370.6,1376.0 1371.8,1388.6 1373.0,1409.7 1374.2,1405.8 1375.4,1374.4 1376.6,1407.9 1377.8,1409.6 1379.0,1415.0 1380.2,1374.3 1381.4,1394.3 1382.6,1404.3 1383.8,1422.5 1385.0,1409.9 1386.2,1399.9 1387.4,1398.5 1388.6,1435.9 1389.8,1391.0 1391.0,1413.2 1392.2,1364.5 1393.4,1441.2 1394.6,1416.7 1395.8,1372.9 1397.0,1419.9 1398.2,1435.5 1399.4,1424.3 1400.6,1409.8 1401.8,1425.1 1403.0,1393.8 1404.2,1403.6 1405.4,1401.7 1406.6,1410.4 1407.8,1388.4 1409.0,1436.4 1410.2,1406.8 1411.4,1388.0 1412.6,1405.2 1413.8,1416.8 1415.0,1410.6 1416.2,1431.6 1417.4,1402.9 1418.6,1394.9 1419.8,1420.1 1421.0,1435.6 1422.2,1391.3 1423.4,1379.2 1424.6,1398.0 1425.8,1409.3 1427.0,1390.6 1428.2,1414.2 1429.4,1394.1 1430.6,1428.9 1431.8,1387.9 1433.0,1393.4 1434.2,1413.0 1435.4,1425.0 1436.6,1430.0 1437.8,1398.3 1439.0,1412.4 1440.2,1422.8 1441.4,1440.4 1442.6,1394.7 1443.8,1387.8 1445.0,1422.1 1446.2,1407.7 1447.4,1439.4 1448.6,1413.4 1449.8,1419.4 1451.0,1397.6 1452.2,1418.8 1453.4,1437.6 1454.6,1408.6 1455.8,1390.1 1457.0,1431.2 1458.2,1407.7 1459.4,1415.1 1460.6,1400.0 1461.8,1432.8 1463.0,1399.6 1464.2,1404.9 1465.4,1414.7 1466.6,1410.7 1467.8,1370.5 1469.0,1424.2 1470.2,1392.0 1471.4,1420.2 1472.6,1407.5 1473.8,1412.9 1475.0,1401.0 1476.2,1394.6 1477.4,1418.6 1478.6,1420.1 1479.8,1435.9 1481.0,1426.7 1482.2,1402.4 1483.4,1439.4 1484.6,1460.0 1485.8,1430.7 1487.0,1412.9 1488.2,1397.7 1489.4,1418.6 1490.6,1388.6 1491.8,1432.8 1493.0,1409.7 1494.2,1406.0 1495.4,1422.5 1496.6,1393.1 1497.8,1383.3 1499.0,1409.2 1500.2,1441.9 1501.4,1401.3 1502.6,1435.3 1503.8,1382.0 1505.0,1417.1 1506.2,1428.6 1507.4,1454.0 1508.6,1384.3 1509.8,1418.0 1511.0,1401.6 1512.2,1425.8 1513.4,1409.1 1514.6,1422.2 1515.8,1405.6 1517.0,1409.8 1518.2,1428.8 1519.4,1450.5 1520.6,1425.5 1521.8,1424.1 1523.0,1412.8 1524.2,1453.2 1525.4,1384.2 1526.6,1383.4 1527.8,1407.5 1529.0,1431.8 1530.2,1442.0 1531.4,1434.8 1532.6,1438.6 1533.8,1427.3 1535.0,1415.1 1536.2,1403.7 1537.4,1433.6 1538.6,1406.4 1539.8,1433.6 1541.0,1440.0 1542.2,1413.4 1543.4,1416.8 1544.6,1414.8 1545.8,1439.1 1547.0,1428.8 1548.2,1412.7 1549.4,1431.2 1550.6,1455.6 1551.8,1431.6 1553.0,1428.6 1554.2,1418.4 1555.4,1408.1 1556.6,1426.4 1557.8,1427.8 1559.0,1420.5 1560.2,1449.8 1561.4,1422.1 1562.6,1423.6 1563.8,1430.6 1565.0,1437.3 1566.2,1391.9 1567.4,1432.2 1568.6,1451.7 1569.8,1405.4 1571.0,1434.9 1572.2,1417.5 1573.4,1408.1 1574.6,1432.7 1575.8,1425.6 1577.0,1387.1 1578.2,1416.3 1579.4,1443.8 1580.6,1416.5 1581.8,1413.5 1583.0,1420.9 1584.2,1419.5 1585.4,1442.8 1586.6,1411.7 1587.8,1405.6 1589.0,1436.9 1590.2,1447.9 1591.4,1442.3 1592.6,1445.1 1593.8,1416.2 1595.0,1400.2 1596.2,1415.3 1597.4,1428.6 1598.6,1396.1 1599.8,1423.4 1601.0,1440.7 1602.2,1415.9 1603.4,1468.2 1604.6,1444.2 1605.8,1406.0 1607.0,1407.7 1608.2,1416.0 1609.4,1443.7 1610.6,1439.0 1611.8,1419.1 1613.0,1433.4 1614.2,1445.7 1615.4,1440.4 1616.6,1399.1 1617.8,1409.3 1619.0,1412.7 1620.2,1396.9 1621.4,1447.3 1622.6,1418.2 1623.8,1418.0 1625.0,1414.6 1626.2,1436.8 1627.4,1442.0 1628.6,1444.2 1629.8,1455.2 1631.0,1413.1 1632.2,1462.9 1633.4,1479.6 1634.6,1421.2 1635.8,1424.5 1637.0,1443.4 1638.2,1455.8 1639.4,1426.6 1640.6,1416.2 1641.8,1472.5 1643.0,1422.3 1644.2,1378.7 1645.4,1442.6 1646.6,1451.7 1647.8,1465.7 1649.0,1467.0 1650.2,1492.9 1651.4,1421.8 1652.6,1413.5 1653.8,1404.4 1655.0,1466.3 1656.2,1424.4 1657.4,1400.2 1658.6,1392.8 1659.8,1435.7 1661.0,1424.8 1662.2,1439.5 1663.4,1416.6 1664.6,1419.1 1665.8,1442.7 1667.0,1429.7 1668.2,1445.0 1669.4,1431.3 1670.6,1428.3 1671.8,1441.0 1673.0,1427.6 1674.2,1437.5 1675.4,1442.9 1676.6,1424.2 1677.8,1432.0 1679.0,1436.4 1680.2,1447.6 1681.4,1439.1 1682.6,1439.4 1683.8,1443.7 1685.0,1428.6 1686.2,1441.7 1687.4,1420.4 1688.6,1399.2 1689.8,1442.9 1691.0,1396.7 1692.2,1432.0 1693.4,1465.0 1694.6,1449.2 1695.8,1415.2 1697.0,1449.6 1698.2,1439.9 1699.4,1419.0 1700.6,1433.4 1701.8,1425.0 1703.0,1429.3 1704.2,1442.0 1705.4,1405.3 1706.6,1452.1 1707.8,1474.9 1709.0,1432.6 1710.2,1416.8 1711.4,1427.9 1712.6,1459.8 1713.8,1426.1 1715.0,1445.3 1716.2,1480.6 1717.4,1422.1 1718.6,1438.2 1719.8,1425.2 1721.0,1429.1 1722.2,1438.7 1723.4,1421.9 1724.6,1445.4 1725.8,1440.1 1727.0,1459.4 1728.2,1450.1 1729.4,1444.3 1730.6,1466.2 1731.8,1433.1 1733.0,1449.3 1734.2,1424.6 1735.4,1465.1 1736.6,1423.2 1737.8,1456.4 1739.0,1423.5 1740.2,1442.0 1741.4,1417.1 1742.6,1423.0 1743.8,1419.6 1745.0,1446.7 1746.2,1448.6 1747.4,1453.2 1748.6,1446.3 1749.8,1434.7 1751.0,1451.8 1752.2,1469.3 1753.4,1431.8 1754.6,1424.7 1755.8,1450.3 1757.0,1479.3 1758.2,1438.0 1759.4,1433.3 1760.6,1420.1 1761.8,1425.8 1763.0,1421.6 1764.2,1421.2 1765.4,1460.7 1766.6,1464.9 1767.8,1442.3 1769.0,1442.4 1770.2,1456.5 1771.4,1441.0 1772.6,1442.9 1773.8,1452.5 1775.0,1440.2 1776.2,1466.1 1777.4,1504.3 1778.6,1441.2 1779.8,1446.8 1781.0,1425.2 1782.2,1432.7 1783.4,1443.2 1784.6,1449.7 1785.8,1437.9 1787.0,1418.4 1788.2,1449.3 1789.4,1431.4 1790.6,1449.8 1791.8,1437.6 1793.0,1439.4 1794.2,1440.5 1795.4,1400.7 1796.6,1466.2 1797.8,1424.4 1799.0,1449.2 1800.2,1453.0 1801.4,1431.3 1802.6,1415.9 1803.8,1453.7 1805.0,1423.8 1806.2,1440.9 1807.4,1451.4 1808.6,1433.2 1809.8,1409.1 1811.0,1429.3 1812.2,1452.2 1813.4,1426.7 1814.6,1459.6 1815.8,1412.6 1817.0,1423.7 1818.2,1408.3 1819.4,1423.8 1820.6,1471.9 1821.8,1453.4 1823.0,1437.0 1824.2,1430.0 1825.4,1464.5 1826.6,1439.8 1827.8,1422.8 1829.0,1472.3 1830.2,1416.5 1831.4,1445.8 1832.6,1454.7 1833.8,1461.0 1835.0,1480.6 1836.2,1458.6 1837.4,1428.6 1838.6,1464.6 1839.8,1448.1 1841.0,1418.4 1842.2,1421.2 1843.4,1426.4 1844.6,1400.0 1845.8,1450.6 1847.0,1453.2 1848.2,1451.8 1849.4,1426.1 1850.6,1441.2 1851.8,1465.6 1853.0,1449.7 1854.2,1439.5 1855.4,1427.9 1856.6,1441.6 1857.8,1467.3 1859.0,1442.9 1860.2,1487.3 1861.4,1489.9 1862.6,1456.5 1863.8,1410.8 1865.0,1437.6 1866.2,1467.6 1867.4,1431.8 1868.6,1429.3 1869.8,1443.3 1871.0,1495.3 1872.2,1433.6 1873.4,1404.8 1874.6,1448.6 1875.8,1450.8 1877.0,1457.6 1878.2,1444.5 1879.4,1449.8 1880.6,1434.0 1881.8,1462.0 1883.0,1442.7 1884.2,1453.4 1885.4,1428.8 1886.6,1470.6 1887.8,1448.2 1889.0,1435.0 1890.2,1444.3 1891.4,1421.9 1892.6,1431.7 1893.8,1459.7 1895.0,1455.5 1896.2,1460.1 1897.4,1457.6 1898.6,1438.3 1899.8,1445.8 1901.0,1480.8 1902.2,1441.7 1903.4,1413.8 1904.6,1443.6 1905.8,1435.7 1907.0,1441.8 1908.2,1444.1 1909.4,1423.6 1910.6,1452.0 1911.8,1440.5 1913.0,1455.3 1914.2,1430.1 1915.4,1424.4 1916.6,1435.3 1917.8,1476.0 1919.0,1408.4 1920.2,1465.1 1921.4,1442.7 1922.6,1466.2 1923.8,1436.1 1925.0,1451.3 1926.2,1450.9 1927.4,1485.3 1928.6,1441.4 1929.8,1448.4 1931.0,1428.9 1932.2,1449.7 1933.4,1429.3 1934.6,1441.7 1935.8,1451.4 1937.0,1454.9 1938.2,1426.3 1939.4,1426.8 1940.6,1466.9 1941.8,1433.9 1943.0,1447.8 1944.2,1438.8 1945.4,1413.6 1946.6,1442.3 1947.8,1442.1 1949.0,1479.1 1950.2,1407.4 1951.4,1434.3 1952.6,1456.7 1953.8,1434.2 1955.0,1402.7 1956.2,1456.9 1957.4,1448.1 1958.6,1428.3 1959.8,1425.5 1961.0,1431.6 1962.2,1448.7 1963.4,1441.5 1964.6,1432.2 1965.8,1451.7 1967.0,1465.4 1968.2,1433.3 1969.4,1475.5 1970.6,1445.7 1971.8,1456.8 1973.0,1453.3 1974.2,1454.9 1975.4,1449.8 1976.6,1401.2 1977.8,1426.7 1979.0,1462.3 1980.2,1424.9 1981.4,1447.4 1982.6,1414.9 1983.8,1433.2 1985.0,1475.0 1986.2,1449.9 1987.4,1428.3 1988.6,1432.7 1989.8,1412.1 1991.0,1454.0 1992.2,1440.3 1993.4,1459.1 1994.6,1460.3 1995.8,1439.1 1997.0,1426.2 1998.2,1421.3 1999.4,1436.9 2000.6,1445.0 2001.8,1471.4 2003.0,1426.1 2004.2,1453.4 2005.4,1424.3 2006.6,1433.4 2007.8,1459.6 2009.0,1454.6 2010.2,1434.3 2011.4,1432.0 2012.6,1466.1 2013.8,1441.1 2015.0,1438.7 2016.2,1424.1 2017.4,1493.4 2018.6,1480.6 2019.8,1455.0 2021.0,1488.3 2022.2,1454.8 2023.4,1438.8 2024.6,1456.1 2025.8,1473.3 2027.0,1424.1 2028.2,1470.1 2029.4,1469.2 2030.6,1475.5 2031.8,1455.9 2033.0,1468.2 2034.2,1413.0 2035.4,1445.7 2036.6,1466.9 2037.8,1457.7 2039.0,1452.3 2040.2,1422.9 2041.4,1443.9 2042.6,1413.6 2043.8,1442.6 2045.0,1453.8 2046.2,1437.3 2047.4,1456.8 2048.6,1447.6 2049.8,1464.9 2051.0,1440.7 2052.2,1416.4 2053.4,1423.1 2054.6,1432.8 2055.8,1447.7 2057.0,1449.7 2058.2,1433.4 2059.4,1450.1 2060.6,1435.2 2061.8,1460.6 2063.0,1422.2 2064.2,1470.9 2065.4,1453.8 2066.6,1440.7 2067.8,1427.6 2069.0,1459.4 2070.2,1437.2 2071.4,1461.6 2072.6,1484.8 2073.8,1452.6 2075.0,1454.1 2076.2,1460.1 2077.4,1439.3 2078.6,1487.6 2079.8,1445.9 2081.0,1463.8 2082.2,1457.0 2083.4,1439.3 2084.6,1477.4 2085.8,1458.3 2087.0,1438.5 2088.2,1438.8 2089.4,1414.1 2090.6,1430.9 2091.8,1468.1 2093.0,1468.4 2094.2,1434.0 2095.4,1464.3 2096.6,1471.3 2097.8,1467.4 2099.0,1476.8 2100.2,1415.5 2101.4,1456.4 2102.6,1434.0 2103.8,1465.7 2105.0,1438.1 2106.2,1454.5 2107.4,1469.6 2108.6,1421.9 2109.8,1439.8 2111.0,1438.7 2112.2,1451.6 2113.4,1421.6 2114.6,1467.4 2115.8,1489.5 2117.0,1446.4 2118.2,1461.8 2119.4,1399.9 2120.6,1428.1 2121.8,1464.3 2123.0,1457.0 2124.2,1464.2 2125.4,1477.1 2126.6,1453.0 2127.8,1446.3 2129.0,1441.9"/><polyline fill="none" stroke="#0000ff" stroke-width="2" stroke-linejoin="miter" stroke-miterlimit="2" shape-rendering="crispEdges" points="233.0,1604.0 234.2,1592.5 235.4,1587.2 236.6,1577.0 237.8,1594.3 239.0,1607.4 240.2,1600.1 241.4,1602.7 242.6,1606.7 243.8,1593.5 245.0,1617.3 246.2,1594.6 247.4,1601.2 248.6,1618.7 249.8,1600.2 251.0,1599.9 252.2,1595.5 253.4,1601.0 254.6,1584.1 255.8,1592.9 257.0,1610.4 258.2,1601.6 259.4,1597.6 260.6,1601.5 261.8,1602.2 263.0,1600.4 264.2,1603.3 265.4,1587.6 266.6,1602.1 267.8,1594.5 269.0,1604.1 270.2,1599.4 271.4,1591.9 272.6,1597.8 273.8,1591.7 275.0,1605.5 276.2,1599.4 277.4,1605.1 278.6,1591.7 279.8,1609.8 281.0,1597.9 282.2,1608.6 283.4,1606.0 284.6,1591.9 285.8,1600.6 287.0,1595.3 288.2,1601.5 289.4,1609.4 290.6,1604.9 291.8,1607.2 293.0,1591.5 294.2,1599.7 295.4,1601.6 296.6,1607.0 297.8,1595.4 299.0,1602.7 300.2,1602.4 301.4,1588.5 302.6,1590.6 303.8,1601.3 305.0,1590.9 306.2,1588.8 307.4,1605.1 308.6,1602.1 309.8,1597.2 311.0,1595.1 312.2,1585.1 313.4,1578.0 314.6,1573.4 315.8,1578.0 317.0,1585.4 318.2,1560.1 319.4,1558.0 320.6,1551.3 321.8,1532.6 323.0,1546.6 324.2,1552.0 325.4,1525.5 326.6,1541.1 327.8,1519.6 329.0,1536.4 330.2,1534.8 331.4,1508.5 332.6,1478.5 333.8,1492.7 335.0,1474.7 336.2,1468.6 337.4,1477.3 338.6,1495.1 339.8,1471.4 341.0,1461.7 342.2,1432.5 343.4,1441.4 344.6,1425.6 345.8,1445.3 347.0,1427.1 348.2,1426.7 349.4,1421.6 350.6,1413.3 351.8,1423.3 353.0,1412.3 354.2,1394.3 355.4,1391.9 356.6,1389.8 357.8,1394.0 359.0,1368.9 360.2,1378.0 361.4,1340.2 362.6,1333.1 363.8,1305.1 365.0,1328.0 366.2,1294.1 367.4,1282.9 368.6,1302.1 369.8,1275.4 371.0,1261.5 372.2,1278.3 373.4,1254.8 374.6,1261.5 375.8,1234.0 377.0,1239.2 378.2,1232.5 379.4,1203.8 380.6,1215.6 381.8,1169.7 383.0,1158.7 384.2,1157.2 385.4,1166.5 386.6,1141.1 387.8,1130.6 389.0,1135.2 390.2,1146.4 391.4,1114.9 392.6,1093.3 393.8,1106.4 395.0,1116.5 396.2,1094.8 397.4,1100.0 398.6,1064.1 399.8,1087.9 401.0,1087.9 402.2,1092.7 403.4,1084.2 404.6,1087.5 405.8,1055.4 407.0,1076.5 408.2,1037.0 409.4,1047.5 410.6,1073.9 411.8,1070.6 413.0,1029.0 414.2,1069.0 415.4,1059.6 416.6,1056.5 417.8,1076.3 419.0,1080.7 420.2,1105.8 421.4,1065.2 422.6,1081.3 423.8,1091.1 425.0,1067.6 426.2,1118.1 427.4,1136.0 428.6,1102.1 429.8,1118.4 431.0,1112.6 432.2,1126.5 433.4,1118.0 434.6,1146.9 435.8,1123.0 437.0,1166.7 438.2,1160.3 439.4,1198.1 440.6,1142.1 441.8,1166.8 443.0,1155.3 444.2,1176.3 445.4,1191.5 446.6,1175.6 447.8,1170.0 449.0,1168.8 450.2,1203.4 451.4,1228.7 452.6,1235.2 453.8,1223.7 455.0,1212.7 456.2,1226.6 457.4,1215.9 458.6,1216.8 459.8,1258.2 461.0,1242.5 462.2,1250.9 463.4,1243.6 464.6,1268.3 465.8,1273.4 467.0,1240.8 468.2,1244.7 469.4,1241.2 470.6,1272.8 471.8,1276.7 473.0,1255.3 474.2,1294.6 475.4,1265.6 476.6,1245.5 477.8,1232.8 479.0,1262.2 480.2,1274.0 481.4,1263.2 482.6,1277.1 483.8,1291.6 485.0,1274.4 486.2,1286.9 487.4,1301.1 488.6,1285.2 489.8,1267.7 491.0,1281.8 492.2,1281.9 493.4,1303.8 494.6,1264.3 495.8,1240.8 497.0,1264.2 498.2,1264.4 499.4,1250.6 500.6,1261.7 501.8,1258.1 503.0,1271.1 504.2,1240.5 505.4,1239.1 506.6,1248.9 507.8,1242.0 509.0,1268.3 510.2,1259.8 511.4,1251.0 512.6,1276.8 513.8,1266.3 515.0,1275.6 516.2,1276.2 517.4,1264.4 518.6,1265.3 519.8,1262.0 521.0,1240.0 522.2,1244.3 523.4,1258.3 524.6,1246.4 525.8,1221.0 527.0,1264.8 528.2,1212.4 529.4,1232.5 530.6,1235.5 531.8,1243.6 533.0,1210.5 534.2,1220.3 535.4,1217.2 536.6,1237.1 537.8,1226.6 539.0,1225.4 540.2,1226.5 541.4,1248.2 542.6,1229.6 543.8,1230.4 545.0,1201.5 546.2,1223.4 547.4,1193.2 548.6,1221.8 549.8,1209.5 551.0,1189.4 552.2,1180.6 553.4,1193.6 554.6,1195.6 555.8,1182.3 557.0,1182.0 558.2,1180.7 559.4,1177.4 560.6,1182.6 561.8,1190.5 563.0,1207.7 564.2,1199.2 565.4,1179.5 566.6,1212.2 567.8,1208.8 569.0,1185.9 570.2,1203.9 571.4,1181.3 572.6,1175.8 573.8,1175.2 575.0,1211.4 576.2,1190.9 577.4,1190.9 578.6,1186.3 579.8,1177.6 581.0,1190.1 582.2,1193.7 583.4,1213.7 584.6,1170.5 585.8,1203.2 587.0,1192.6 588.2,1155.1 589.4,1195.6 590.6,1211.1 591.8,1205.8 593.0,1193.2 594.2,1191.9 595.4,1159.4 596.6,1191.1 597.8,1190.7 599.0,1171.7 600.2,1186.3 601.4,1172.8 602.6,1216.3 603.8,1164.3 605.0,1164.3 606.2,1146.2 607.4,1173.8 608.6,1186.2 609.8,1187.4 611.0,1178.8 612.2,1203.5 613.4,1197.5 614.6,1213.5 615.8,1196.3 617.0,1170.3 618.2,1194.6 619.4,1184.6 620.6,1213.6 621.8,1195.2 623.0,1200.2 624.2,1205.4 625.4,1183.6 626.6,1200.4 627.8,1222.9 629.0,1203.8 630.2,1209.4 631.4,1216.0 632.6,1203.8 633.8,1208.8 635.0,1221.0 636.2,1209.8 637.4,1215.7 638.6,1213.6 639.8,1199.6 641.0,1194.6 642.2,1245.4 643.4,1241.4 644.6,1218.0 645.8,1232.6 647.0,1237.0 648.2,1235.8 649.4,1215.7 650.6,1197.7 651.8,1199.2 653.0,1215.9 654.2,1242.9 655.4,1249.5 656.6,1222.9 657.8,1219.4 659.0,1242.5 660.2,1257.8 661.4,1212.8 662.6,1229.6 663.8,1225.9 665.0,1218.0 666.2,1217.0 667.4,1216.3 668.6,1221.1 669.8,1197.4 671.0,1218.6 672.2,1232.7 673.4,1233.9 674.6,1236.2 675.8,1230.8 677.0,1229.6 678.2,1258.1 679.4,1229.5 680.6,1233.4 681.8,1252.0 683.0,1236.7 684.2,1216.1 685.4,1226.6 686.6,1230.5 687.8,1236.3 689.0,1233.4 690.2,1256.3 691.4,1255.3 692.6,1252.9 693.8,1240.1 695.0,1261.8 696.2,1264.5 697.4,1284.3 698.6,1244.5 699.8,1249.2 701.0,1273.6 702.2,1239.4 703.4,1257.2 704.6,1259.0 705.8,1257.4 707.0,1242.6 708.2,1256.9 709.4,1235.7 710.6,1275.1 711.8,1254.1 713.0,1262.5 714.2,1261.4 715.4,1265.0 716.6,1265.1 717.8,1270.3 719.0,1259.5 720.2,1264.9 721.4,1247.7 722.6,1246.6 723.8,1249.1 725.0,1246.6 726.2,1240.5 727.4,1250.9 728.6,1270.7 729.8,1269.1 731.0,1256.0 732.2,1265.5 733.4,1267.0 734.6,1301.9 735.8,1240.7 737.0,1263.7 738.2,1243.4 739.4,1281.4 740.6,1263.9 741.8,1273.3 743.0,1271.6 744.2,1280.1 745.4,1227.3 746.6,1249.8 747.8,1271.8 749.0,1253.8 750.2,1281.4 751.4,1295.6 752.6,1259.9 753.8,1270.5 755.0,1288.5 756.2,1309.3 757.4,1300.3 758.6,1295.6 759.8,1271.2 761.0,1282.5 762.2,1285.3 763.4,1274.8 764.6,1289.2 765.8,1279.9 767.0,1277.2 768.2,1315.8 769.4,1285.3 770.6,1313.1 771.8,1282.2 773.0,1283.9 774.2,1266.7 775.4,1275.2 776.6,1308.6 777.8,1288.6 779.0,1256.5 780.2,1304.9 781.4,1275.6 782.6,1280.3 783.8,1287.0 785.0,1260.7 786.2,1310.0 787.4,1311.7 788.6,1288.2 789.8,1296.7 791.0,1288.6 792.2,1283.7 793.4,1289.3 794.6,1272.4 795.8,1286.8 797.0,1286.6 798.2,1324.2 799.4,1278.0 800.6,1314.8 801.8,1310.9 803.0,1302.6 804.2,1291.2 805.4,1326.4 806.6,1324.9 807.8,1302.6 809.0,1298.4 810.2,1304.0 811.4,1329.2 812.6,1291.2 813.8,1302.5 815.0,1319.6 816.2,1283.9 817.4,1300.1 818.6,1319.8 819.8,1298.9 821.0,1301.9 822.2,1281.1 823.4,1308.0 824.6,1287.7 825.8,1297.7 827.0,1309.8 828.2,1298.0 829.4,1318.3 830.6,1318.3 831.8,1315.1 833.0,1322.5 834.2,1306.4 835.4,1275.4 836.6,1317.5 837.8,1320.7 839.0,1302.7 840.2,1295.7 841.4,1325.0 842.6,1303.9 843.8,1303.4 845.0,1302.7 846.2,1344.2 847.4,1303.2 848.6,1271.4 849.8,1305.1 851.0,1294.7 852.2,1283.1 853.4,1309.8 854.6,1302.7 855.8,1323.1 857.0,1307.2 858.2,1328.3 859.4,1327.6 860.6,1313.6 861.8,1323.4 863.0,1340.0 864.2,1325.2 865.4,1292.6 866.6,1311.9 867.8,1315.9 869.0,1332.0 870.2,1313.4 871.4,1330.3 872.6,1313.7 873.8,1314.6 875.0,1311.0 876.2,1314.4 877.4,1312.7 878.6,1319.8 879.8,1304.5 881.0,1299.0 882.2,1312.7 883.4,1317.8 884.6,1310.3 885.8,1321.6 887.0,1322.0 888.2,1342.1 889.4,1297.9 890.6,1344.4 891.8,1285.5 893.0,1288.1 894.2,1318.7 895.4,1304.1 896.6,1312.5 897.8,1311.6 899.0,1299.1 900.2,1297.3 901.4,1312.0 902.6,1324.8 903.8,1330.1 905.0,1324.6 906.2,1317.2 907.4,1339.2 908.6,1292.3 909.8,1320.5 911.0,1342.0 912.2,1349.6 913.4,1344.8 914.6,1346.9 915.8,1343.0 917.0,1329.8 918.2,1294.2 919.4,1316.5 920.6,1322.6 921.8,1350.9 923.0,1324.7 924.2,1323.7 925.4,1338.9 926.6,1317.0 927.8,1330.0 929.0,1339.3 930.2,1327.9 931.4,1331.0 932.6,1306.6 933.8,1312.4 935.0,1327.9 936.2,1350.3 937.4,1327.8 938.6,1320.9 939.8,1322.4 941.0,1344.3 942.2,1316.4 943.4,1337.4 944.6,1332.2 945.8,1338.4 947.0,1327.5 948.2,1339.1 949.4,1359.3 950.6,1337.7 951.8,1333.0 953.0,1302.6 954.2,1344.5 955.4,1332.8 956.6,1347.1 957.8,1345.0 959.0,1332.0 960.2,1333.3 961.4,1323.7 962.6,1371.9 963.8,1361.7 965.0,1359.7 966.2,1365.3 967.4,1369.2 968.6,1362.4 969.8,1364.6 971.0,1386.5 972.2,1328.1 973.4,1350.7 974.6,1341.5 975.8,1351.0 977.0,1314.9 978.2,1332.7 979.4,1362.5 980.6,1335.9 981.8,1360.0 983.0,1342.6 984.2,1350.6 985.4,1332.1 986.6,1343.4 987.8,1331.8 989.0,1360.7 990.2,1330.5 991.4,1357.8 992.6,1348.1 993.8,1352.8 995.0,1376.8 996.2,1354.9 997.4,1347.4 998.6,1356.3 999.8,1367.4 1001.0,1350.7 1002.2,1381.9 1003.4,1363.0 1004.6,1353.6 1005.8,1348.6 1007.0,1355.6 1008.2,1366.9 1009.4,1375.4 1010.6,1362.2 1011.8,1351.5 1013.0,1358.5 1014.2,1329.5 1015.4,1373.5 1016.6,1374.0 1017.8,1359.4 1019.0,1371.2 1020.2,1348.1 1021.4,1386.7 1022.6,1363.0 1023.8,1356.7 1025.0,1393.5 1026.2,1353.8 1027.4,1370.5 1028.6,1354.3 1029.8,1357.4 1031.0,1361.8 1032.2,1358.2 1033.4,1387.7 1034.6,1385.6 1035.8,1361.5 1037.0,1402.1 1038.2,1371.1 1039.4,1366.2 1040.6,1374.3 1041.8,1354.5 1043.0,1387.1 1044.2,1357.8 1045.4,1349.9 1046.6,1382.8 1047.8,1357.4 1049.0,1364.5 1050.2,1351.4 1051.4,1361.2 1052.6,1370.1 1053.8,1334.8 1055.0,1364.9 1056.2,1357.4 1057.4,1388.6 1058.6,1400.8 1059.8,1380.4 1061.0,1379.4 1062.2,1386.1 1063.4,1387.0 1064.6,1351.1 1065.8,1349.2 1067.0,1361.0 1068.2,1349.2 1069.4,1363.3 1070.6,1371.0 1071.8,1358.8 1073.0,1376.0 1074.2,1391.8 1075.4,1373.4 1076.6,1377.2 1077.8,1371.0 1079.0,1369.8 1080.2,1363.6 1081.4,1354.3 1082.6,1377.7 1083.8,1387.7 1085.0,1372.6 1086.2,1373.3 1087.4,1352.3 1088.6,1366.6 1089.8,1375.9 1091.0,1371.2 1092.2,1373.1 1093.4,1358.1 1094.6,1352.9 1095.8,1367.2 1097.0,1393.7 1098.2,1369.6 1099.4,1351.4 1100.6,1361.7 1101.8,1369.3 1103.0,1390.6 1104.2,1390.9 1105.4,1364.2 1106.6,1358.7 1107.8,1369.1 1109.0,1373.7 1110.2,1360.2 1111.4,1387.0 1112.6,1369.8 1113.8,1378.1 1115.0,1372.6 1116.2,1382.3 1117.4,1374.5 1118.6,1379.0 1119.8,1393.7 1121.0,1381.0 1122.2,1397.2 1123.4,1360.2 1124.6,1371.9 1125.8,1361.1 1127.0,1354.8 1128.2,1373.9 1129.4,1403.7 1130.6,1383.2 1131.8,1392.1 1133.0,1351.5 1134.2,1378.2 1135.4,1361.2 1136.6,1379.3 1137.8,1392.6 1139.0,1372.5 1140.2,1392.9 1141.4,1368.4 1142.6,1378.7 1143.8,1369.3 1145.0,1378.6 1146.2,1376.2 1147.4,1347.0 1148.6,1370.3 1149.8,1370.8 1151.0,1402.0 1152.2,1345.7 1153.4,1376.9 1154.6,1390.6 1155.8,1407.5 1157.0,1400.9 1158.2,1381.2 1159.4,1400.6 1160.6,1380.4 1161.8,1377.8 1163.0,1375.7 1164.2,1375.3 1165.4,1402.6 1166.6,1360.6 1167.8,1358.0 1169.0,1393.5 1170.2,1390.5 1171.4,1396.0 1172.6,1381.0 1173.8,1392.8 1175.0,1381.4 1176.2,1376.7 1177.4,1377.5 1178.6,1386.0 1179.8,1386.1 1181.0,1379.8 1182.2,1407.6 1183.4,1394.5 1184.6,1382.2 1185.8,1367.6 1187.0,1384.0 1188.2,1363.8 1189.4,1372.6 1190.6,1370.0 1191.8,1373.7 1193.0,1389.4 1194.2,1342.7 1195.4,1404.8 1196.6,1396.8 1197.8,1383.7 1199.0,1380.1 1200.2,1399.0 1201.4,1389.3 1202.6,1414.9 1203.8,1391.0 1205.0,1377.9 1206.2,1369.8 1207.4,1388.2 1208.6,1406.3 1209.8,1376.5 1211.0,1409.2 1212.2,1406.7 1213.4,1390.4 1214.6,1411.8 1215.8,1371.3 1217.0,1361.3 1218.2,1395.6 1219.4,1401.4 1220.6,1401.6 1221.8,1396.1 1223.0,1375.6 1224.2,1402.5 1225.4,1392.7 1226.6,1409.5 1227.8,1402.2 1229.0,1382.3 1230.2,1405.7 1231.4,1411.2 1232.6,1411.9 1233.8,1391.1 1235.0,1384.6 1236.2,1410.3 1237.4,1401.1 1238.6,1399.7 1239.8,1415.6 1241.0,1418.1 1242.2,1410.8 1243.4,1400.0 1244.6,1423.5 1245.8,1390.0 1247.0,1401.4 1248.2,1407.4 1249.4,1384.0 1250.6,1391.2 1251.8,1414.7 1253.0,1403.7 1254.2,1388.9 1255.4,1426.3 1256.6,1409.2 1257.8,1406.5 1259.0,1430.9 1260.2,1386.6 1261.4,1395.7 1262.6,1391.4 1263.8,1422.9 1265.0,1395.9 1266.2,1438.5 1267.4,1416.2 1268.6,1411.7 1269.8,1421.0 1271.0,1405.1 1272.2,1393.9 1273.4,1397.2 1274.6,1406.7 1275.8,1393.5 1277.0,1408.2 1278.2,1398.8 1279.4,1404.1 1280.6,1406.7 1281.8,1430.8 1283.0,1443.7 1284.2,1439.3 1285.4,1411.2 1286.6,1401.2 1287.8,1425.6 1289.0,1432.3 1290.2,1427.9 1291.4,1406.0 1292.6,1417.0 1293.8,1410.2 1295.0,1428.2 1296.2,1428.7 1297.4,1419.0 1298.6,1409.2 1299.8,1439.2 1301.0,1420.3 1302.2,1427.7 1303.4,1424.8 1304.6,1428.0 1305.8,1434.0 1307.0,1413.3 1308.2,1410.1 1309.4,1424.9 1310.6,1372.3 1311.8,1411.9 1313.0,1410.2 1314.2,1427.3 1315.4,1423.7 1316.6,1415.9 1317.8,1401.5 1319.0,1414.3 1320.2,1413.6 1321.4,1419.2 1322.6,1422.0 1323.8,1409.3 1325.0,1425.7 1326.2,1412.5 1327.4,1424.7 1328.6,1424.2 1329.8,1438.0 1331.0,1421.6 1332.2,1443.0 1333.4,1417.5 1334.6,1407.8 1335.8,1428.4 1337.0,1404.0 1338.2,1424.4 1339.4,1426.9 1340.6,1424.4 1341.8,1427.5 1343.0,1425.0 1344.2,1440.2 1345.4,1422.1 1346.6,1394.6 1347.8,1414.4 1349.0,1433.5 1350.2,1437.8 1351.4,1434.0 1352.6,1424.7 1353.8,1410.4 1355.0,1444.2 1356.2,1417.5 1357.4,1407.6 1358.6,1388.0 1359.8,1447.3 1361.0,1426.3 1362.2,1398.4 1363.4,1434.0 1364.6,1434.9 1365.8,1402.1 1367.0,1433.6 1368.2,1426.1 1369.4,1434.8 1370.6,1445.6 1371.8,1421.6 1373.0,1455.9 1374.2,1427.3 1375.4,1417.7 1376.6,1441.9 1377.8,1418.4 1379.0,1420.7 1380.2,1437.5 1381.4,1415.2 1382.6,1406.4 1383.8,1428.5 1385.0,1426.5 1386.2,1418.6 1387.4,1439.1 1388.6,1411.3 1389.8,1435.8 1391.0,1412.7 1392.2,1432.1 1393.4,1410.4 1394.6,1434.5 1395.8,1427.1 1397.0,1421.3 1398.2,1427.7 1399.4,1425.4 1400.6,1438.9 1401.8,1419.4 1403.0,1432.9 1404.2,1423.9 1405.4,1418.8 1406.6,1419.9 1407.8,1411.7 1409.0,1431.1 1410.2,1429.8 1411.4,1433.5 1412.6,1406.5 1413.8,1420.1 1415.0,1448.8 1416.2,1447.9 1417.4,1429.3 1418.6,1429.4 1419.8,1432.2 1421.0,1444.8 1422.2,1451.9 1423.4,1436.5 1424.6,1434.5 1425.8,1430.7 1427.0,1435.5 1428.2,1456.2 1429.4,1424.5 1430.6,1439.7 1431.8,1416.3 1433.0,1415.0 1434.2,1406.7 1435.4,1420.9 1436.6,1451.4 1437.8,1456.7 1439.0,1445.7 1440.2,1433.1 1441.4,1447.2 1442.6,1419.2 1443.8,1411.4 1445.0,1418.3 1446.2,1428.3 1447.4,1406.8 1448.6,1419.1 1449.8,1455.1 1451.0,1432.4 1452.2,1427.5 1453.4,1423.6 1454.6,1442.2 1455.8,1443.3 1457.0,1435.6 1458.2,1431.3 1459.4,1403.4 1460.6,1410.0 1461.8,1425.5 1463.0,1424.9 1464.2,1428.4 1465.4,1426.6 1466.6,1457.9 1467.8,1452.0 1469.0,1420.5 1470.2,1443.1 1471.4,1440.4 1472.6,1434.4 1473.8,1430.9 1475.0,1439.1 1476.2,1460.9 1477.4,1429.9 1478.6,1432.1 1479.8,1433.1 1481.0,1411.5 1482.2,1433.1 1483.4,1423.8 1484.6,1438.1 1485.8,1441.7 1487.0,1461.6 1488.2,1435.8 1489.4,1432.5 1490.6,1446.4 1491.8,1465.4 1493.0,1442.4 1494.2,1444.7 1495.4,1446.2 1496.6,1445.5 1497.8,1431.6 1499.0,1426.7 1500.2,1427.6 1501.4,1432.1 1502.6,1442.1 1503.8,1427.0 1505.0,1426.9 1506.2,1437.8 1507.4,1437.2 1508.6,1440.6 1509.8,1422.7 1511.0,1464.4 1512.2,1439.9 1513.4,1437.2 1514.6,1428.9 1515.8,1446.2 1517.0,1456.0 1518.2,1442.8 1519.4,1440.7 1520.6,1438.8 1521.8,1472.9 1523.0,1454.0 1524.2,1438.6 1525.4,1445.4 1526.6,1458.6 1527.8,1448.0 1529.0,1449.3 1530.2,1448.0 1531.4,1443.2 1532.6,1453.2 1533.8,1469.1 1535.0,1455.3 1536.2,1443.7 1537.4,1435.6 1538.6,1445.4 1539.8,1440.1 1541.0,1435.7 1542.2,1455.7 1543.4,1453.2 1544.6,1463.7 1545.8,1456.7 1547.0,1444.4 1548.2,1461.2 1549.4,1455.9 1550.6,1469.0 1551.8,1438.1 1553.0,1443.8 1554.2,1450.2 1555.4,1471.2 1556.6,1458.6 1557.8,1435.7 1559.0,1436.8 1560.2,1456.5 1561.4,1430.4 1562.6,1439.6 1563.8,1448.0 1565.0,1446.0 1566.2,1454.5 1567.4,1462.4 1568.6,1456.1 1569.8,1434.7 1571.0,1467.6 1572.2,1467.3 1573.4,1442.3 1574.6,1446.4 1575.8,1433.5 1577.0,1469.1 1578.2,1447.7 1579.4,1457.6 1580.6,1459.6 1581.8,1470.5 1583.0,1456.2 1584.2,1448.7 1585.4,1460.9 1586.6,1467.2 1587.8,1447.8 1589.0,1452.0 1590.2,1433.2 1591.4,1470.7 1592.6,1446.9 1593.8,1466.6 1595.0,1467.2 1596.2,1466.1 1597.4,1468.5 1598.6,1445.6 1599.8,1456.9 1601.0,1445.9 1602.2,1452.6 1603.4,1445.2 1604.6,1486.4 1605.8,1462.0 1607.0,1470.1 1608.2,1448.9 1609.4,1479.8 1610.6,1457.8 1611.8,1454.7 1613.0,1453.1 1614.2,1436.2 1615.4,1428.3 1616.6,1457.4 1617.8,1443.4 1619.0,1453.1 1620.2,1484.2 1621.4,1456.6 1622.6,1485.2 1623.8,1465.2 1625.0,1444.3 1626.2,1464.9 1627.4,1474.1 1628.6,1470.7 1629.8,1450.7 1631.0,1443.6 1632.2,1469.0 1633.4,1485.4 1634.6,1485.4 1635.8,1457.2 1637.0,1456.2 1638.2,1463.1 1639.4,1475.0 1640.6,1467.6 1641.8,1466.9 1643.0,1461.2 1644.2,1425.3 1645.4,1440.8 1646.6,1461.0 1647.8,1440.2 1649.0,1486.7 1650.2,1453.1 1651.4,1469.8 1652.6,1475.1 1653.8,1478.6 1655.0,1448.1 1656.2,1458.2 1657.4,1482.5 1658.6,1465.4 1659.8,1473.9 1661.0,1430.8 1662.2,1464.8 1663.4,1465.1 1664.6,1461.4 1665.8,1438.8 1667.0,1450.6 1668.2,1458.2 1669.4,1457.6 1670.6,1447.8 1671.8,1476.6 1673.0,1477.7 1674.2,1460.3 1675.4,1483.3 1676.6,1449.9 1677.8,1466.8 1679.0,1486.6 1680.2,1474.4 1681.4,1463.5 1682.6,1471.3 1683.8,1463.9 1685.0,1457.4 1686.2,1453.7 1687.4,1464.1 1688.6,1463.1 1689.8,1469.3 1691.0,1454.4 1692.2,1467.9 1693.4,1478.5 1694.6,1458.5 1695.8,1486.3 1697.0,1457.6 1698.2,1454.8 1699.4,1456.1 1700.6,1448.0 1701.8,1442.7 1703.0,1447.3 1704.2,1460.3 1705.4,1453.9 1706.6,1484.5 1707.8,1464.8 1709.0,1460.0 1710.2,1457.5 1711.4,1471.2 1712.6,1467.8 1713.8,1470.8 1715.0,1478.0 1716.2,1488.5 1717.4,1456.9 1718.6,1475.4 1719.8,1468.7 1721.0,1471.0 1722.2,1460.0 1723.4,1475.2 1724.6,1476.7 1725.8,1473.6 1727.0,1458.1 1728.2,1476.4 1729.4,1456.2 1730.6,1446.6 1731.8,1476.9 1733.0,1467.6 1734.2,1447.2 1735.4,1457.1 1736.6,1467.8 1737.8,1481.6 1739.0,1467.1 1740.2,1457.9 1741.4,1453.8 1742.6,1449.6 1743.8,1465.6 1745.0,1458.5 1746.2,1476.6 1747.4,1460.7 1748.6,1482.8 1749.8,1468.1 1751.0,1470.0 1752.2,1468.4 1753.4,1467.9 1754.6,1491.4 1755.8,1462.8 1757.0,1462.7 1758.2,1466.4 1759.4,1478.8 1760.6,1458.2 1761.8,1488.6 1763.0,1459.7 1764.2,1462.3 1765.4,1471.3 1766.6,1473.2 1767.8,1458.9 1769.0,1481.7 1770.2,1496.7 1771.4,1473.6 1772.6,1481.7 1773.8,1482.4 1775.0,1507.2 1776.2,1478.5 1777.4,1478.8 1778.6,1469.5 1779.8,1477.0 1781.0,1469.7 1782.2,1467.8 1783.4,1469.3 1784.6,1484.7 1785.8,1470.1 1787.0,1484.2 1788.2,1472.5 1789.4,1488.9 1790.6,1459.1 1791.8,1457.1 1793.0,1480.1 1794.2,1494.2 1795.4,1469.6 1796.6,1445.6 1797.8,1485.8 1799.0,1481.5 1800.2,1465.1 1801.4,1491.9 1802.6,1494.0 1803.8,1468.3 1805.0,1468.7 1806.2,1482.8 1807.4,1484.4 1808.6,1493.8 1809.8,1483.3 1811.0,1501.8 1812.2,1472.6 1813.4,1462.7 1814.6,1465.5 1815.8,1463.8 1817.0,1472.1 1818.2,1463.6 1819.4,1484.4 1820.6,1491.8 1821.8,1498.4 1823.0,1470.7 1824.2,1457.8 1825.4,1468.2 1826.6,1475.1 1827.8,1468.8 1829.0,1480.7 1830.2,1482.3 1831.4,1480.5 1832.6,1464.2 1833.8,1485.3 1835.0,1464.8 1836.2,1441.8 1837.4,1469.3 1838.6,1489.5 1839.8,1475.5 1841.0,1452.7 1842.2,1466.9 1843.4,1488.2 1844.6,1477.1 1845.8,1472.2 1847.0,1457.2 1848.2,1470.9 1849.4,1464.2 1850.6,1492.2 1851.8,1479.5 1853.0,1485.0 1854.2,1453.6 1855.4,1471.7 1856.6,1484.5 1857.8,1497.5 1859.0,1493.7 1860.2,1465.7 1861.4,1511.8 1862.6,1476.2 1863.8,1471.0 1865.0,1470.4 1866.2,1460.0 1867.4,1469.1 1868.6,1465.7 1869.8,1468.3 1871.0,1465.5 1872.2,1470.9 1873.4,1484.1 1874.6,1467.2 1875.8,1459.3 1877.0,1481.5 1878.2,1475.9 1879.4,1484.9 1880.6,1464.8 1881.8,1473.5 1883.0,1465.1 1884.2,1457.7 1885.4,1467.9 1886.6,1473.8 1887.8,1480.1 1889.0,1461.2 1890.2,1484.8 1891.4,1491.5 1892.6,1482.5 1893.8,1471.8 1895.0,1465.3 1896.2,1488.8 1897.4,1467.6 1898.6,1493.3 1899.8,1454.9 1901.0,1449.9 1902.2,1480.5 1903.4,1461.4 1904.6,1489.3 1905.8,1473.3 1907.0,1470.9 1908.2,1481.6 1909.4,1493.0 1910.6,1491.0 1911.8,1477.6 1913.0,1474.4 1914.2,1489.3 1915.4,1470.1 1916.6,1466.1 1917.8,1466.5 1919.0,1521.3 1920.2,1503.9 1921.4,1489.7 1922.6,1477.7 1923.8,1488.2 1925.0,1461.1 1926.2,1476.5 1927.4,1493.6 1928.6,1486.2 1929.8,1467.8 1931.0,1480.4 1932.2,1480.1 1933.4,1500.9 1934.6,1496.0 1935.8,1487.0 1937.0,1513.0 1938.2,1480.7 1939.4,1499.6 1940.6,1492.6 1941.8,1484.7 1943.0,1478.8 1944.2,1491.7 1945.4,1506.2 1946.6,1466.6 1947.8,1485.4 1949.0,1498.2 1950.2,1477.0 1951.4,1475.9 1952.6,1504.1 1953.8,1485.2 1955.0,1481.5 1956.2,1492.0 1957.4,1491.5 1958.6,1495.2 1959.8,1495.8 1961.0,1507.4 1962.2,1494.8 1963.4,1500.5 1964.6,1479.0 1965.8,1490.3 1967.0,1481.6 1968.2,1506.7 1969.4,1494.5 1970.6,1505.0 1971.8,1487.6 1973.0,1476.7 1974.2,1497.9 1975.4,1487.9 1976.6,1469.7 1977.8,1483.3 1979.0,1478.5 1980.2,1506.6 1981.4,1490.1 1982.6,1498.7 1983.8,1497.4 1985.0,1506.5 1986.2,1497.7 1987.4,1497.5 1988.6,1496.3 1989.8,1473.2 1991.0,1488.5 1992.2,1473.9 1993.4,1472.7 1994.6,1488.7 1995.8,1466.2 1997.0,1483.6 1998.2,1500.9 1999.4,1488.7 2000.6,1497.9 2001.8,1475.1 2003.0,1485.9 2004.2,1453.1 2005.4,1469.3 2006.6,1476.3 2007.8,1509.0 2009.0,1515.3 2010.2,1464.6 2011.4,1479.6 2012.6,1476.8 2013.8,1507.2 2015.0,1500.8 2016.2,1484.4 2017.4,1498.1 2018.6,1504.6 2019.8,1481.2 2021.0,1500.5 2022.2,1497.1 2023.4,1499.5 2024.6,1467.7 2025.8,1485.8 2027.0,1457.6 2028.2,1490.1 2029.4,1479.0 2030.6,1506.0 2031.8,1510.1 2033.0,1469.4 2034.2,1508.2 2035.4,1486.0 2036.6,1502.7 2037.8,1493.6 2039.0,1486.2 2040.2,1486.9 2041.4,1483.9 2042.6,1509.0 2043.8,1493.8 2045.0,1477.9 2046.2,1498.5 2047.4,1485.5 2048.6,1497.4 2049.8,1481.6 2051.0,1494.9 2052.2,1479.4 2053.4,1479.7 2054.6,1494.6 2055.8,1503.5 2057.0,1495.1 2058.2,1491.2 2059.4,1526.6 2060.6,1494.1 2061.8,1458.4 2063.0,1496.7 2064.2,1485.3 2065.4,1471.9 2066.6,1504.2 2067.8,1504.9 2069.0,1488.8 2070.2,1485.6 2071.4,1491.8 2072.6,1506.4 2073.8,1481.9 2075.0,1509.8 2076.2,1498.2 2077.4,1499.4 2078.6,1514.7 2079.8,1492.2 2081.0,1502.1 2082.2,1495.3 2083.4,1454.4 2084.6,1487.7 2085.8,1493.7 2087.0,1491.5 2088.2,1509.8 2089.4,1488.6 2090.6,1499.8 2091.8,1498.8 2093.0,1500.1 2094.2,1471.5 2095.4,1485.3 2096.6,1486.4 2097.8,1514.2 2099.0,1491.1 2100.2,1501.7 2101.4,1497.8 2102.6,1475.5 2103.8,1476.8 2105.0,1495.4 2106.2,1503.6 2107.4,1515.7 2108.6,1492.5 2109.8,1476.6 2111.0,1491.1 2112.2,1475.3 2113.4,1510.1 2114.6,1491.1 2115.8,1492.9 2117.0,1518.5 2118.2,1502.0 2119.4,1477.7 2120.6,1498.3 2121.8,1485.6 2123.0,1476.5 2124.2,1481.1 2125.4,1473.9 2126.6,1499.0 2127.8,1483.1 2129.0,1487.6"/></g><rect x="231" y="29" width="1901.5" height="677" fill="none" stroke="#000" stroke-width="6"/><rect x="231" y="997" width="1901.5" height="677.3" fill="none" stroke="#000" stroke-width="6"/><rect x="231" y="112.0" width="28" height="6" fill="#000"/><rect x="231" y="649.0" width="28" height="6" fill="#000"/><rect x="231" y="381.0" width="14" height="6" fill="#000"/><rect x="617.0" y="679" width="6" height="27" fill="#000"/><rect x="1049.0" y="679" width="6" height="27" fill="#000"/><rect x="1481.0" y="679" width="6" height="27" fill="#000"/><rect x="1913.0" y="679" width="6" height="27" fill="#000"/><rect x="401.0" y="691" width="6" height="15" fill="#000"/><rect x="833.0" y="691" width="6" height="15" fill="#000"/><rect x="1265.0" y="691" width="6" height="15" fill="#000"/><rect x="1697.0" y="691" width="6" height="15" fill="#000"/><rect x="231" y="1026.0" width="28" height="6" fill="#000"/><rect x="231" y="1349.0" width="14" height="6" fill="#000"/><rect x="311.0" y="1647" width="6" height="27" fill="#000"/><rect x="1137.0" y="1647" width="6" height="27" fill="#000"/><rect x="1963.0" y="1647" width="6" height="27" fill="#000"/><rect x="724.0" y="1660.5" width="6" height="13.5" fill="#000"/><rect x="1550.0" y="1660.5" width="6" height="13.5" fill="#000"/><text x="199" y="137.5" font-family='"Liberation Sans", Arial, sans-serif' font-size="79" font-weight="normal" text-anchor="end" fill="#000" >5000</text><text x="199" y="676" font-family='"Liberation Sans", Arial, sans-serif' font-size="79" font-weight="normal" text-anchor="end" fill="#000" >0</text><text x="620" y="797" font-family='"Liberation Sans", Arial, sans-serif' font-size="79" font-weight="normal" text-anchor="middle" fill="#000" >1.55</text><text x="1052" y="797" font-family='"Liberation Sans", Arial, sans-serif' font-size="79" font-weight="normal" text-anchor="middle" fill="#000" >1.56</text><text x="1484" y="797" font-family='"Liberation Sans", Arial, sans-serif' font-size="79" font-weight="normal" text-anchor="middle" fill="#000" >1.57</text><text x="1916" y="797" font-family='"Liberation Sans", Arial, sans-serif' font-size="79" font-weight="normal" text-anchor="middle" fill="#000" >1.58</text><text x="199" y="1053" font-family='"Liberation Sans", Arial, sans-serif' font-size="79" font-weight="normal" text-anchor="end" fill="#000" >1</text><text x="199" y="1698" font-family='"Liberation Sans", Arial, sans-serif' font-size="79" font-weight="normal" text-anchor="end" fill="#000" >0</text><text x="314" y="1765" font-family='"Liberation Sans", Arial, sans-serif' font-size="79" font-weight="normal" text-anchor="middle" fill="#000" >0</text><text x="1140" y="1765" font-family='"Liberation Sans", Arial, sans-serif' font-size="79" font-weight="normal" text-anchor="middle" fill="#000" >10</text><text x="1966" y="1765" font-family='"Liberation Sans", Arial, sans-serif' font-size="79" font-weight="normal" text-anchor="middle" fill="#000" >20</text><text x="1068" y="906" font-family='"Liberation Sans", Arial, sans-serif' font-size="93" font-weight="normal" text-anchor="start" fill="#000" >E [eV]</text><text x="1075" y="1853" font-family='"Liberation Sans", Arial, sans-serif' font-size="93" font-weight="normal" text-anchor="start" fill="#000" >Time [ns]</text><text x="0" y="0" font-family='"Liberation Sans", Arial, sans-serif' font-size="92" font-weight="normal" text-anchor="middle" fill="#000" transform="translate(93,412) rotate(-90)">Counts</text><text x="0" y="0" font-family='"Liberation Sans", Arial, sans-serif' font-size="92" font-weight="normal" text-anchor="middle" fill="#000" transform="translate(91,1336) rotate(-90)">Norm. counts</text><text x="241" y="197" font-family='"Liberation Sans", Arial, sans-serif' font-size="95" font-weight="bold" text-anchor="start" fill="#000" >(a)</text><text x="243" y="1117.7" font-family='"Liberation Sans", Arial, sans-serif' font-size="95" font-weight="bold" text-anchor="start" fill="#000" >(b)</text><text x="756" y="174" font-family='"Liberation Sans", Arial, sans-serif' font-size="66" font-weight="bold" text-anchor="start" fill="#000" >X</text><rect x="1599" y="95.8" width="148" height="2" fill="#000"/><rect x="1599" y="176.8" width="148" height="2" fill="#ff0000"/><text x="1764" y="118.7" font-family='"Liberation Sans", Arial, sans-serif' font-size="66" font-weight="normal" text-anchor="start" fill="#000" >P = 18 nW</text><text x="1764" y="199.7" font-family='"Liberation Sans", Arial, sans-serif' font-size="66" font-weight="normal" text-anchor="start" fill="#000" >P = 353 nW</text><rect x="1603" y="1048.6" width="147" height="2" fill="#000000"/><text x="1768" y="1072.0" font-family='"Liberation Sans", Arial, sans-serif' font-size="66" font-weight="normal" text-anchor="start" fill="#000" >P = 18 nW</text><rect x="1603" y="1129.0" width="147" height="2" fill="#00ff00"/><text x="1768" y="1152.4" font-family='"Liberation Sans", Arial, sans-serif' font-size="66" font-weight="normal" text-anchor="start" fill="#000" >P = 41 nW</text><rect x="1603" y="1209.3999999999999" width="147" height="2" fill="#ff8000"/><text x="1768" y="1232.8" font-family='"Liberation Sans", Arial, sans-serif' font-size="66" font-weight="normal" text-anchor="start" fill="#000" >P = 71 nW</text><rect x="1603" y="1289.8" width="147" height="2" fill="#0000ff"/><text x="1768" y="1313.2" font-family='"Liberation Sans", Arial, sans-serif' font-size="66" font-weight="normal" text-anchor="start" fill="#000" >P = 147 nW</text></svg></body></html>
